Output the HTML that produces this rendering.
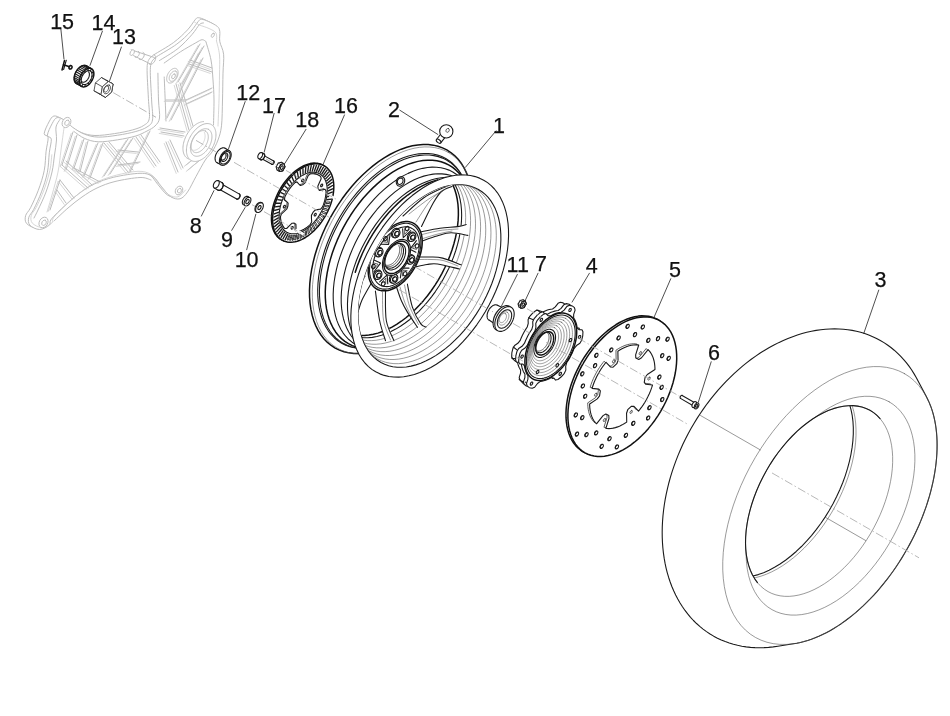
<!DOCTYPE html>
<html lang="en"><head><meta charset="utf-8"><title>Rear wheel - exploded view</title>
<style>
html,body{margin:0;padding:0;background:#fff;}
body{width:950px;height:716px;overflow:hidden;font-family:"Liberation Sans",Arial,sans-serif;}
svg{display:block;will-change:transform;transform:translateZ(0)}
.k{fill:none;stroke:#1a1a1a;stroke-width:1.1;stroke-linejoin:round;stroke-linecap:round}
.kw{fill:#fff;stroke:#1a1a1a;stroke-width:1.1;stroke-linejoin:round;stroke-linecap:round}
.b{fill:none;stroke:#111;stroke-width:1.5;stroke-linejoin:round;stroke-linecap:round}
.bw{fill:#fff;stroke:#111;stroke-width:1.5;stroke-linejoin:round;stroke-linecap:round}
.t{fill:none;stroke:#555;stroke-width:0.6;stroke-linejoin:round;stroke-linecap:round}
.tw{fill:#fff;stroke:#555;stroke-width:0.6;stroke-linejoin:round}
.m{fill:none;stroke:#333;stroke-width:0.8;stroke-linejoin:round;stroke-linecap:round}
.mw{fill:#fff;stroke:#333;stroke-width:0.8;stroke-linejoin:round}
.g{fill:none;stroke:#bcbcbc;stroke-width:1;stroke-linejoin:round;stroke-linecap:round}
.gw{fill:#fff;stroke:#bcbcbc;stroke-width:1;stroke-linejoin:round}
.g2{fill:none;stroke:#cdcdcd;stroke-width:0.8;stroke-linejoin:round;stroke-linecap:round}
.ax{fill:none;stroke:#a6a6a6;stroke-width:0.8;stroke-dasharray:8.5 2.5 1.5 2.5}
.ld{fill:none;stroke:#222;stroke-width:0.8}
.w{fill:#fff;stroke:none}
.f{fill:#222;stroke:none}
text{font-family:"Liberation Sans",Arial,sans-serif;font-size:21.5px;fill:#111;stroke:#111;stroke-width:0.25px}
</style></head><body>
<svg width="950" height="716" viewBox="0 0 950 716">
<rect class="w" x="0" y="0" width="950" height="716"/>
<path class="gw" d="M153.40 55.10 C157.40 52.45 167.92 46.70 173.60 42.50 C179.28 38.30 183.92 33.68 187.50 29.90 C191.08 26.12 193.30 21.83 195.10 19.80 C196.90 17.77 196.62 17.68 198.30 17.70 C199.98 17.72 202.57 18.72 205.20 19.90 C207.83 21.08 212.20 23.13 214.10 24.80 C216.00 26.47 216.18 27.37 216.60 29.90 C217.02 32.43 215.97 36.22 216.60 40.00 C217.23 43.78 219.87 47.33 220.40 52.60 C220.93 57.87 219.98 63.97 219.80 71.60 C219.62 79.23 219.55 89.63 219.30 98.40 C219.05 107.17 219.05 117.53 218.30 124.20 C217.55 130.87 216.38 134.03 214.80 138.40 C213.22 142.77 210.92 147.07 208.80 150.40 C206.68 153.73 204.77 154.32 202.10 158.40 C199.43 162.48 195.77 169.57 192.80 174.90 C189.83 180.23 186.97 186.68 184.30 190.40 C181.63 194.12 179.63 196.45 176.80 197.20 C173.97 197.95 170.47 197.03 167.30 194.90 C164.13 192.77 160.72 187.73 157.80 184.40 C154.88 181.07 153.30 177.02 149.80 174.90 C146.30 172.78 143.33 171.58 136.80 171.70 C130.27 171.82 118.22 173.82 110.60 175.60 C102.98 177.38 96.97 179.63 91.10 182.40 C85.23 185.17 80.28 188.62 75.40 192.20 C70.52 195.78 66.35 199.67 61.80 203.90 C57.25 208.13 50.72 214.33 48.10 217.60 C45.48 220.87 48.07 221.78 46.10 223.50 C44.13 225.22 39.55 227.90 36.30 227.90 C33.05 227.90 28.38 225.53 26.60 223.50 C24.82 221.47 24.95 218.32 25.60 215.70 C26.25 213.08 28.38 212.03 30.50 207.80 C32.62 203.57 36.02 196.48 38.30 190.30 C40.58 184.12 42.90 177.22 44.20 170.70 C45.50 164.18 45.45 156.73 46.10 151.20 C46.75 145.67 48.42 140.43 48.10 137.50 C47.78 134.57 44.05 136.20 44.20 133.60 C44.35 131.00 47.38 124.83 49.00 121.90 C50.62 118.97 51.77 116.50 53.90 116.00 C56.03 115.50 59.18 117.27 61.80 118.90 C64.42 120.53 66.35 123.52 69.60 125.80 C72.85 128.08 77.07 130.98 81.30 132.60 C85.53 134.22 89.47 135.33 95.00 135.50 C100.53 135.67 108.23 134.53 114.50 133.60 C120.77 132.67 127.72 131.27 132.60 129.90 C137.48 128.53 141.02 127.32 143.80 125.40 C146.58 123.48 148.53 122.92 149.30 118.40 C150.07 113.88 148.77 106.73 148.40 98.30 C148.03 89.87 146.90 74.45 147.10 67.80 C147.30 61.15 148.55 60.52 149.60 58.40Z" />
<path class="gw" d="M156.60 56.70 C160.60 54.05 171.12 48.30 176.80 44.10 C182.48 39.90 187.12 35.28 190.70 31.50 C194.28 27.72 196.50 23.43 198.30 21.40 C200.10 19.37 199.82 19.28 201.50 19.30 C203.18 19.32 205.77 20.32 208.40 21.50 C211.03 22.68 215.40 24.73 217.30 26.40 C219.20 28.07 219.38 28.97 219.80 31.50 C220.22 34.03 219.17 37.82 219.80 41.60 C220.43 45.38 223.07 48.93 223.60 54.20 C224.13 59.47 223.18 65.57 223.00 73.20 C222.82 80.83 222.75 91.23 222.50 100.00 C222.25 108.77 222.25 119.13 221.50 125.80 C220.75 132.47 219.58 135.63 218.00 140.00 C216.42 144.37 214.12 148.67 212.00 152.00 C209.88 155.33 207.97 155.92 205.30 160.00 C202.63 164.08 198.97 171.17 196.00 176.50 C193.03 181.83 190.17 188.28 187.50 192.00 C184.83 195.72 182.83 198.05 180.00 198.80 C177.17 199.55 173.67 198.63 170.50 196.50 C167.33 194.37 163.92 189.33 161.00 186.00 C158.08 182.67 156.50 178.62 153.00 176.50 C149.50 174.38 146.53 173.18 140.00 173.30 C133.47 173.42 121.42 175.42 113.80 177.20 C106.18 178.98 100.17 181.23 94.30 184.00 C88.43 186.77 83.48 190.22 78.60 193.80 C73.72 197.38 69.55 201.27 65.00 205.50 C60.45 209.73 53.92 215.93 51.30 219.20 C48.68 222.47 51.27 223.38 49.30 225.10 C47.33 226.82 42.75 229.50 39.50 229.50 C36.25 229.50 31.58 227.13 29.80 225.10 C28.02 223.07 28.15 219.92 28.80 217.30 C29.45 214.68 31.58 213.63 33.70 209.40 C35.82 205.17 39.22 198.08 41.50 191.90 C43.78 185.72 46.10 178.82 47.40 172.30 C48.70 165.78 48.65 158.33 49.30 152.80 C49.95 147.27 51.62 142.03 51.30 139.10 C50.98 136.17 47.25 137.80 47.40 135.20 C47.55 132.60 50.58 126.43 52.20 123.50 C53.82 120.57 54.97 118.10 57.10 117.60 C59.23 117.10 62.38 118.87 65.00 120.50 C67.62 122.13 69.55 125.12 72.80 127.40 C76.05 129.68 80.27 132.58 84.50 134.20 C88.73 135.82 92.67 136.93 98.20 137.10 C103.73 137.27 111.43 136.13 117.70 135.20 C123.97 134.27 130.92 132.87 135.80 131.50 C140.68 130.13 144.22 128.92 147.00 127.00 C149.78 125.08 151.73 124.52 152.50 120.00 C153.27 115.48 151.97 108.33 151.60 99.90 C151.23 91.47 150.10 76.05 150.30 69.40 C150.50 62.75 151.75 62.12 152.80 60.00Z" />
<path class="g2" d="M185.50 190.00 C184.25 191.13 180.83 196.05 178.00 196.80 C175.17 197.55 171.67 196.63 168.50 194.50 C165.33 192.37 161.92 187.33 159.00 184.00 C156.08 180.67 154.50 176.62 151.00 174.50 C147.50 172.38 143.78 171.18 138.00 171.30 C132.22 171.42 123.17 173.42 116.30 175.20 C109.43 176.98 102.67 179.23 96.80 182.00 C90.93 184.77 85.98 188.22 81.10 191.80 C76.22 195.38 72.05 199.27 67.50 203.50 C62.95 207.73 56.42 213.93 53.80 217.20 C51.18 220.47 53.77 221.38 51.80 223.10 C49.83 224.82 45.25 227.50 42.00 227.50 C38.75 227.50 34.08 225.13 32.30 223.10 C30.52 221.07 30.65 217.92 31.30 215.30 C31.95 212.68 34.08 211.63 36.20 207.40 C38.32 203.17 41.72 196.08 44.00 189.90 C46.28 183.72 48.60 176.15 49.90 170.30 C51.20 164.45 51.48 157.38 51.80 154.80" />
<path class="g" d="M131.2 49.8 L154.3 57.5 M133.5 55.6 L150.5 64.0" />
<path class="gw" d="M133.72 49.90 L134.33 50.72 L134.36 52.04 L133.82 53.51 L132.84 54.74 L131.69 55.40 L130.68 55.30 L130.07 54.48 L130.04 53.16 L130.58 51.69 L131.56 50.46 L132.71 49.80 L133.72 49.90Z" />
<path class="g" d="M138.30 51.40 L138.89 51.74 L139.27 52.40 L139.36 53.30 L139.18 54.33 L138.73 55.37 L138.07 56.30 L137.28 56.99 L136.46 57.38 L135.70 57.40 L135.11 57.06" />
<path class="g" d="M143.03 52.45 L143.74 52.85 L144.18 53.63 L144.29 54.70 L144.07 55.92 L143.54 57.15 L142.76 58.24 L141.83 59.06 L140.86 59.52 L139.97 59.55 L139.26 59.15" />
<path class="g" d="M154.04 54.87 L154.99 55.40 L155.57 56.44 L155.72 57.86 L155.43 59.49 L154.72 61.13 L153.68 62.59 L152.44 63.69 L151.15 64.29 L149.96 64.33 L149.01 63.80" />
<path class="g" d="M159.50 60.50 C162.58 58.50 172.58 52.83 178.00 48.50 C183.42 44.17 188.42 38.50 192.00 34.50 C195.58 30.50 197.58 26.42 199.50 24.50 C201.42 22.58 202.83 23.25 203.50 23.00" />
<path class="g" d="M164.20 63.00 C166.93 61.12 175.33 55.07 180.60 51.70 C185.87 48.33 192.22 44.80 195.80 42.80 C199.38 40.80 200.42 39.90 202.10 39.70 C203.78 39.50 205.27 41.28 205.90 41.60" />
<path class="g2" d="M194.50 22.00 C195.33 22.50 197.08 23.92 199.50 25.00 C201.92 26.08 206.25 27.17 209.00 28.50 C211.75 29.83 214.75 30.92 216.00 33.00 C217.25 35.08 216.42 39.67 216.50 41.00" />
<path class="g" d="M213.88 33.38 L214.35 34.13 L214.23 35.32 L213.56 36.51 L212.60 37.23 L211.72 37.22 L211.25 36.47 L211.37 35.28 L212.04 34.09 L213.00 33.37 L213.88 33.38Z" />
<path class="g" d="M157.90 73.20 C158.00 77.67 158.23 92.53 158.50 100.00 C158.77 107.47 160.08 113.67 159.50 118.00 C158.92 122.33 157.08 123.83 155.00 126.00 C152.92 128.17 150.20 129.33 147.00 131.00 C143.80 132.67 140.68 134.53 135.80 136.00 C130.92 137.47 123.97 138.83 117.70 139.80 C111.43 140.77 103.73 142.03 98.20 141.80 C92.67 141.57 88.53 140.12 84.50 138.40 C80.47 136.68 75.75 132.65 74.00 131.50" />
<path class="g" d="M164.20 77.00 C164.37 80.83 164.90 92.67 165.20 100.00 C165.50 107.33 165.87 117.50 166.00 121.00" />
<path class="gw" d="M176.33 68.73 L176.61 68.91 L176.87 69.13 L177.11 69.37 L177.33 69.65 L177.52 69.96 L177.69 70.29 L177.83 70.65 L177.95 71.04 L178.04 71.45 L178.10 71.88 L178.13 72.32 L178.14 72.79 L178.11 73.27 L178.06 73.76 L177.99 74.26 L177.88 74.76 L177.75 75.27 L177.59 75.79 L177.41 76.30 L177.20 76.81 L176.97 77.31 L176.72 77.81 L176.44 78.30 L176.15 78.77 L175.84 79.23 L175.51 79.67 L175.16 80.09 L174.81 80.50 L174.44 80.87 L174.06 81.23 L173.67 81.55 L173.28 81.85 L172.88 82.11 L172.48 82.35 L172.08 82.55 L171.68 82.72 L171.29 82.86 L170.90 82.96 L170.51 83.03 L170.14 83.06 L169.78 83.05 L169.43 83.01 L169.09 82.93 L168.77 82.82 L168.47 82.67 L168.19 82.49 L167.93 82.27 L167.69 82.03 L167.47 81.75 L167.28 81.44 L167.11 81.11 L166.97 80.75 L166.85 80.36 L166.76 79.95 L166.70 79.52 L166.67 79.08 L166.66 78.61 L166.69 78.13 L166.74 77.64 L166.81 77.14 L166.92 76.64 L167.05 76.13 L167.21 75.61 L167.39 75.10 L167.60 74.59 L167.83 74.09 L168.08 73.59 L168.36 73.10 L168.65 72.63 L168.96 72.17 L169.29 71.73 L169.64 71.31 L169.99 70.90 L170.36 70.53 L170.74 70.17 L171.13 69.85 L171.52 69.55 L171.92 69.29 L172.32 69.05 L172.72 68.85 L173.12 68.68 L173.51 68.54 L173.90 68.44 L174.29 68.37 L174.66 68.34 L175.02 68.35 L175.37 68.39 L175.71 68.47 L176.03 68.58 L176.33 68.73Z" />
<path class="g" d="M175.95 71.32 L176.15 71.45 L176.33 71.60 L176.50 71.77 L176.65 71.96 L176.78 72.18 L176.90 72.41 L177.00 72.67 L177.08 72.94 L177.14 73.22 L177.19 73.52 L177.21 73.84 L177.21 74.16 L177.20 74.50 L177.16 74.84 L177.11 75.19 L177.04 75.54 L176.94 75.90 L176.83 76.26 L176.71 76.62 L176.56 76.98 L176.40 77.33 L176.22 77.68 L176.03 78.02 L175.82 78.35 L175.61 78.67 L175.38 78.98 L175.13 79.28 L174.88 79.56 L174.63 79.82 L174.36 80.07 L174.09 80.30 L173.81 80.50 L173.54 80.69 L173.26 80.86 L172.98 81.00 L172.70 81.12 L172.42 81.21 L172.15 81.28 L171.88 81.33 L171.62 81.35 L171.36 81.34 L171.12 81.32 L170.89 81.26 L170.66 81.18 L170.45 81.08 L170.25 80.95 L170.07 80.80 L169.90 80.63 L169.75 80.44 L169.62 80.22 L169.50 79.99 L169.40 79.73 L169.32 79.46 L169.26 79.18 L169.21 78.88 L169.19 78.56 L169.19 78.24 L169.20 77.90 L169.24 77.56 L169.29 77.21 L169.36 76.86 L169.46 76.50 L169.57 76.14 L169.69 75.78 L169.84 75.42 L170.00 75.07 L170.18 74.72 L170.37 74.38 L170.58 74.05 L170.79 73.73 L171.02 73.42 L171.27 73.12 L171.52 72.84 L171.77 72.58 L172.04 72.33 L172.31 72.10 L172.59 71.90 L172.86 71.71 L173.14 71.54 L173.42 71.40 L173.70 71.28 L173.98 71.19 L174.25 71.12 L174.52 71.07 L174.78 71.05 L175.04 71.06 L175.28 71.08 L175.51 71.14 L175.74 71.22 L175.95 71.32Z" />
<path class="g" d="M174.78 74.13 L175.28 74.82 L175.32 75.93 L174.86 77.17 L174.04 78.20 L173.07 78.74 L172.22 78.67 L171.72 77.98 L171.68 76.87 L172.14 75.63 L172.96 74.60 L173.93 74.06 L174.78 74.13Z" />
<path class="g" d="M206.00 42.00 C206.83 45.00 209.83 53.67 211.00 60.00 C212.17 66.33 212.50 73.33 213.00 80.00 C213.50 86.67 213.92 92.50 214.00 100.00 C214.08 107.50 213.58 120.83 213.50 125.00" />
<path class="g2" d="M216.50 41.00 C217.00 43.33 219.00 49.33 219.50 55.00 C220.00 60.67 219.58 67.50 219.50 75.00 C219.42 82.50 219.25 91.50 219.00 100.00 C218.75 108.50 218.17 121.67 218.00 126.00" />
<path class="g" d="M178.00 82.00 L200.00 44.00"/>
<path class="g2" d="M176.20 83.40 L198.20 45.40"/>
<path class="g" d="M182.00 84.00 L204.00 46.00"/>
<path class="g2" d="M180.20 85.40 L202.20 47.40"/>
<path class="g" d="M176.00 84.00 L189.00 130.00"/>
<path class="g2" d="M174.20 85.40 L187.20 131.40"/>
<path class="g" d="M180.00 83.00 L193.00 126.00"/>
<path class="g2" d="M178.20 84.40 L191.20 127.40"/>
<path class="g" d="M167.00 118.00 L200.00 52.00"/>
<path class="g2" d="M165.20 119.40 L198.20 53.40"/>
<path class="g" d="M171.00 120.00 L203.00 58.00"/>
<path class="g2" d="M169.20 121.40 L201.20 59.40"/>
<path class="g" d="M166.00 100.00 L186.00 100.00"/>
<path class="g2" d="M164.20 101.40 L184.20 101.40"/>
<path class="g" d="M186.00 100.00 L212.00 88.00"/>
<path class="g2" d="M184.20 101.40 L210.20 89.40"/>
<path class="g" d="M186.00 104.00 L212.00 92.00"/>
<path class="g2" d="M184.20 105.40 L210.20 93.40"/>
<path class="g" d="M190.00 60.00 L212.00 68.00"/>
<path class="g2" d="M188.20 61.40 L210.20 69.40"/>
<path class="g" d="M189.00 64.00 L212.00 72.00"/>
<path class="g2" d="M187.20 65.40 L210.20 73.40"/>
<path class="g" d="M160.00 128.00 L185.00 132.00"/>
<path class="g2" d="M158.20 129.40 L183.20 133.40"/>
<path class="g" d="M161.00 132.00 L184.00 136.00"/>
<path class="g2" d="M159.20 133.40 L182.20 137.40"/>
<path class="g" d="M170.00 140.00 L183.00 168.00"/>
<path class="g2" d="M168.20 141.40 L181.20 169.40"/>
<path class="g" d="M166.00 142.00 L178.00 172.00"/>
<path class="g2" d="M164.20 143.40 L176.20 173.40"/>
<path class="g" d="M186.00 165.00 L205.00 150.00"/>
<path class="g2" d="M184.20 166.40 L203.20 151.40"/>
<path class="g" d="M188.00 170.00 L206.00 155.00"/>
<path class="g2" d="M186.20 171.40 L204.20 156.40"/>
<path class="g" d="M194.34 159.11 L193.34 159.33 L192.35 159.45 L191.40 159.48 L190.47 159.41 L189.58 159.25 L188.73 159.00 L187.93 158.66 L187.17 158.22 L186.47 157.70 L185.82 157.09 L185.23 156.40 L184.71 155.63 L184.25 154.78 L183.85 153.87 L183.53 152.89 L183.27 151.84 L183.09 150.74 L182.98 149.59 L182.94 148.40 L182.98 147.16 L183.09 145.89 L183.27 144.60 L183.53 143.28 L183.85 141.96 L184.25 140.62 L184.71 139.29 L185.24 137.96 L185.82 136.64 L186.47 135.34 L187.17 134.07 L187.93 132.83 L188.74 131.63 L189.58 130.47 L190.47 129.37 L191.40 128.32 L192.36 127.33 L193.34 126.40 L194.35 125.55 L195.37 124.77 L196.40 124.07 L197.44 123.45 L198.49 122.91 L199.52 122.47 L200.55 122.11 L201.57 121.85 L202.56 121.67 L203.53 121.60" />
<path class="gw" d="M211.31 124.55 L212.04 125.02 L212.71 125.57 L213.33 126.21 L213.89 126.92 L214.39 127.71 L214.82 128.57 L215.18 129.50 L215.48 130.50 L215.71 131.55 L215.87 132.65 L215.95 133.80 L215.97 135.00 L215.91 136.23 L215.78 137.49 L215.58 138.78 L215.31 140.09 L214.97 141.40 L214.57 142.72 L214.09 144.05 L213.56 145.36 L212.97 146.66 L212.31 147.94 L211.61 149.19 L210.85 150.41 L210.05 151.59 L209.20 152.73 L208.32 153.82 L207.40 154.85 L206.45 155.82 L205.47 156.73 L204.47 157.57 L203.46 158.33 L202.44 159.02 L201.41 159.62 L200.37 160.15 L199.35 160.59 L198.33 160.94 L197.33 161.19 L196.34 161.36 L195.38 161.44 L194.45 161.42 L193.55 161.32 L192.68 161.12 L191.86 160.83 L191.09 160.45 L190.36 159.98 L189.69 159.43 L189.07 158.79 L188.51 158.08 L188.01 157.29 L187.58 156.43 L187.22 155.50 L186.92 154.50 L186.69 153.45 L186.53 152.35 L186.45 151.20 L186.43 150.00 L186.49 148.77 L186.62 147.51 L186.82 146.22 L187.09 144.91 L187.43 143.60 L187.83 142.28 L188.31 140.95 L188.84 139.64 L189.43 138.34 L190.09 137.06 L190.79 135.81 L191.55 134.59 L192.35 133.41 L193.20 132.27 L194.08 131.18 L195.00 130.15 L195.95 129.18 L196.93 128.27 L197.93 127.43 L198.94 126.67 L199.96 125.98 L200.99 125.38 L202.03 124.85 L203.05 124.41 L204.07 124.06 L205.07 123.81 L206.06 123.64 L207.02 123.56 L207.95 123.58 L208.85 123.68 L209.72 123.88 L210.54 124.17 L211.31 124.55Z" />
<path class="g" d="M208.56 129.43 L209.09 129.77 L209.58 130.17 L210.03 130.64 L210.44 131.16 L210.80 131.73 L211.12 132.36 L211.38 133.04 L211.60 133.76 L211.77 134.52 L211.88 135.33 L211.94 136.17 L211.95 137.04 L211.91 137.94 L211.82 138.86 L211.67 139.79 L211.48 140.74 L211.23 141.70 L210.93 142.66 L210.59 143.63 L210.20 144.58 L209.77 145.53 L209.29 146.46 L208.78 147.37 L208.23 148.26 L207.64 149.12 L207.03 149.95 L206.38 150.74 L205.71 151.49 L205.02 152.20 L204.31 152.86 L203.58 153.47 L202.85 154.03 L202.10 154.53 L201.35 154.97 L200.60 155.35 L199.85 155.67 L199.11 155.92 L198.38 156.11 L197.66 156.24 L196.96 156.29 L196.28 156.28 L195.63 156.20 L195.00 156.06 L194.40 155.84 L193.84 155.57 L193.31 155.23 L192.82 154.83 L192.37 154.36 L191.96 153.84 L191.60 153.27 L191.28 152.64 L191.02 151.96 L190.80 151.24 L190.63 150.48 L190.52 149.67 L190.46 148.83 L190.45 147.96 L190.49 147.06 L190.58 146.14 L190.73 145.21 L190.92 144.26 L191.17 143.30 L191.47 142.34 L191.81 141.37 L192.20 140.42 L192.63 139.47 L193.11 138.54 L193.62 137.63 L194.17 136.74 L194.76 135.88 L195.37 135.05 L196.02 134.26 L196.69 133.51 L197.38 132.80 L198.09 132.14 L198.82 131.53 L199.55 130.97 L200.30 130.47 L201.05 130.03 L201.80 129.65 L202.55 129.33 L203.29 129.08 L204.02 128.89 L204.74 128.76 L205.44 128.71 L206.12 128.72 L206.77 128.80 L207.40 128.94 L208.00 129.16 L208.56 129.43Z" />
<path class="g" d="M205.59 131.15 L206.01 131.42 L206.41 131.74 L206.77 132.11 L207.09 132.52 L207.38 132.98 L207.63 133.49 L207.85 134.03 L208.02 134.61 L208.15 135.22 L208.24 135.86 L208.29 136.53 L208.30 137.23 L208.27 137.95 L208.19 138.68 L208.08 139.43 L207.92 140.19 L207.72 140.96 L207.49 141.73 L207.21 142.50 L206.90 143.27 L206.55 144.02 L206.17 144.77 L205.76 145.50 L205.32 146.21 L204.85 146.90 L204.36 147.56 L203.85 148.19 L203.31 148.79 L202.76 149.36 L202.19 149.89 L201.61 150.38 L201.02 150.82 L200.42 151.22 L199.82 151.58 L199.22 151.88 L198.62 152.14 L198.03 152.34 L197.44 152.49 L196.87 152.59 L196.31 152.63 L195.77 152.62 L195.24 152.56 L194.74 152.44 L194.26 152.28 L193.81 152.05 L193.39 151.78 L192.99 151.46 L192.63 151.09 L192.31 150.68 L192.02 150.22 L191.77 149.71 L191.55 149.17 L191.38 148.59 L191.25 147.98 L191.16 147.34 L191.11 146.67 L191.10 145.97 L191.13 145.25 L191.21 144.52 L191.32 143.77 L191.48 143.01 L191.68 142.24 L191.91 141.47 L192.19 140.70 L192.50 139.93 L192.85 139.18 L193.23 138.43 L193.64 137.70 L194.08 136.99 L194.55 136.30 L195.04 135.64 L195.55 135.01 L196.09 134.41 L196.64 133.84 L197.21 133.31 L197.79 132.82 L198.38 132.38 L198.98 131.98 L199.58 131.62 L200.18 131.32 L200.78 131.06 L201.37 130.86 L201.96 130.71 L202.53 130.61 L203.09 130.57 L203.63 130.58 L204.16 130.64 L204.66 130.76 L205.14 130.92 L205.59 131.15Z" />
<path class="g2" d="M204.24 132.30 L204.47 132.76 L204.67 133.26 L204.83 133.79 L204.95 134.35 L205.03 134.94 L205.08 135.56 L205.09 136.20 L205.06 136.85 L204.99 137.53 L204.88 138.21 L204.74 138.91 L204.55 139.61 L204.34 140.32 L204.09 141.03 L203.80 141.73 L203.48 142.42 L203.13 143.10 L202.76 143.77 L202.35 144.42 L201.92 145.05 L201.47 145.66 L201.00 146.24 L200.51 146.79 L200.00 147.31 L199.48 147.80 L198.95 148.24 L198.41 148.65 L197.86 149.02 L197.31 149.34 L196.76 149.62 L196.21 149.86 L195.67 150.04 L195.13 150.18 L194.61 150.27 L194.09 150.31 L193.59 150.31 L193.11 150.25 L192.65 150.14 L192.21 149.99 L191.80 149.78 L191.41 149.53 L191.05 149.24 L190.72 148.90 L190.42 148.52 L190.16 148.10" />
<path class="gw" d="M69.15 117.80 L70.30 118.91 L70.87 120.58 L70.77 122.54 L70.03 124.49 L68.75 126.14 L67.12 127.23 L65.40 127.61 L63.85 127.20 L62.70 126.09 L62.13 124.42 L62.23 122.46 L62.97 120.51 L64.25 118.86 L65.88 117.77 L67.60 117.39 L69.15 117.80Z" />
<path class="g" d="M68.37 120.36 L69.11 121.20 L69.27 122.47 L68.83 123.83 L67.90 124.91 L66.72 125.43 L65.63 125.24 L64.89 124.40 L64.73 123.13 L65.17 121.77 L66.10 120.69 L67.28 120.17 L68.37 120.36Z" />
<path class="gw" d="M46.25 217.62 L47.44 218.78 L48.03 220.51 L47.93 222.54 L47.16 224.56 L45.83 226.27 L44.14 227.41 L42.36 227.80 L40.75 227.38 L39.56 226.22 L38.97 224.49 L39.07 222.46 L39.84 220.44 L41.17 218.73 L42.86 217.59 L44.64 217.20 L46.25 217.62Z" />
<path class="g" d="M45.37 220.36 L46.11 221.20 L46.27 222.47 L45.83 223.83 L44.90 224.91 L43.72 225.43 L42.63 225.24 L41.89 224.40 L41.73 223.13 L42.17 221.77 L43.10 220.69 L44.28 220.17 L45.37 220.36Z" />
<path class="gw" d="M181.26 186.49 L182.24 187.45 L182.72 188.86 L182.64 190.53 L182.01 192.19 L180.91 193.60 L179.53 194.53 L178.06 194.85 L176.74 194.51 L175.76 193.55 L175.28 192.14 L175.36 190.47 L175.99 188.81 L177.09 187.40 L178.47 186.47 L179.94 186.15 L181.26 186.49Z" />
<path class="g" d="M180.58 188.61 L181.20 189.33 L181.35 190.42 L180.97 191.58 L180.17 192.51 L179.16 192.95 L178.22 192.79 L177.60 192.07 L177.45 190.98 L177.83 189.82 L178.63 188.89 L179.64 188.45 L180.58 188.61Z" />
<path class="g" d="M60.00 119.50 C59.33 120.75 56.58 123.58 56.00 127.00 C55.42 130.42 56.75 135.33 56.50 140.00 C56.25 144.67 55.25 149.67 54.50 155.00 C53.75 160.33 53.42 165.83 52.00 172.00 C50.58 178.17 48.33 185.67 46.00 192.00 C43.67 198.33 40.00 205.67 38.00 210.00 C36.00 214.33 34.67 216.67 34.00 218.00" />
<path class="g2" d="M64.00 128.00 C63.50 131.67 62.00 142.67 61.00 150.00 C60.00 157.33 59.50 164.50 58.00 172.00 C56.50 179.50 53.83 188.33 52.00 195.00 C50.17 201.67 47.83 209.17 47.00 212.00" />
<path class="g" d="M54.00 221.00 C56.33 218.83 63.33 212.00 68.00 208.00 C72.67 204.00 77.17 200.33 82.00 197.00 C86.83 193.67 91.50 190.58 97.00 188.00 C102.50 185.42 107.83 183.25 115.00 181.50 C122.17 179.75 134.00 177.75 140.00 177.50 C146.00 177.25 149.17 179.58 151.00 180.00" />
<path class="g" d="M73.00 132.00 L62.00 165.00"/>
<path class="g2" d="M71.20 133.40 L60.20 166.40"/>
<path class="g" d="M77.00 135.00 L66.00 170.00"/>
<path class="g2" d="M75.20 136.40 L64.20 171.40"/>
<path class="g" d="M62.00 165.00 L88.00 188.00"/>
<path class="g2" d="M60.20 166.40 L86.20 189.40"/>
<path class="g" d="M66.00 161.00 L92.00 185.00"/>
<path class="g2" d="M64.20 162.40 L90.20 186.40"/>
<path class="g" d="M84.00 139.00 L74.00 168.00"/>
<path class="g2" d="M82.20 140.40 L72.20 169.40"/>
<path class="g" d="M88.00 141.00 L80.00 172.00"/>
<path class="g2" d="M86.20 142.40 L78.20 173.40"/>
<path class="g" d="M74.00 168.00 L100.00 182.00"/>
<path class="g2" d="M72.20 169.40 L98.20 183.40"/>
<path class="g" d="M98.00 143.00 L84.00 176.00"/>
<path class="g2" d="M96.20 144.40 L82.20 177.40"/>
<path class="g" d="M103.00 143.00 L90.00 178.00"/>
<path class="g2" d="M101.20 144.40 L88.20 179.40"/>
<path class="g" d="M104.00 143.00 L128.00 172.00"/>
<path class="g2" d="M102.20 144.40 L126.20 173.40"/>
<path class="g" d="M109.00 142.00 L133.00 170.00"/>
<path class="g2" d="M107.20 143.40 L131.20 171.40"/>
<path class="g" d="M128.00 139.00 L104.00 176.00"/>
<path class="g2" d="M126.20 140.40 L102.20 177.40"/>
<path class="g" d="M133.00 138.00 L110.00 174.00"/>
<path class="g2" d="M131.20 139.40 L108.20 175.40"/>
<path class="g" d="M136.00 137.00 L156.00 166.00"/>
<path class="g2" d="M134.20 138.40 L154.20 167.40"/>
<path class="g" d="M141.00 135.00 L160.00 162.00"/>
<path class="g2" d="M139.20 136.40 L158.20 163.40"/>
<path class="g" d="M150.00 131.00 L130.00 172.00"/>
<path class="g2" d="M148.20 132.40 L128.20 173.40"/>
<path class="g" d="M60.00 180.00 L74.00 198.00"/>
<path class="g2" d="M58.20 181.40 L72.20 199.40"/>
<path class="g" d="M57.00 190.00 L66.00 203.00"/>
<path class="g2" d="M55.20 191.40 L64.20 204.40"/>
<path class="g" d="M60.00 180.00 L50.00 210.00"/>
<path class="g2" d="M58.20 181.40 L48.20 211.40"/>
<path class="g" d="M118.00 150.00 L138.00 152.00"/>
<path class="g2" d="M116.20 151.40 L136.20 153.40"/>
<path class="g" d="M118.00 165.00 L140.00 162.00"/>
<path class="g2" d="M116.20 166.40 L138.20 163.40"/>
<path class="kw" d="M662.18 532.25 L662.27 526.88 L662.53 521.46 L662.96 515.99 L663.54 510.49 L664.29 504.97 L665.20 499.43 L666.28 493.87 L667.51 488.30 L668.90 482.74 L670.44 477.18 L672.14 471.63 L673.99 466.11 L675.99 460.61 L678.14 455.15 L680.43 449.73 L682.87 444.35 L685.44 439.03 L688.15 433.76 L691.00 428.57 L693.97 423.45 L697.07 418.40 L700.28 413.44 L703.62 408.57 L707.07 403.80 L710.63 399.14 L714.30 394.58 L718.06 390.13 L721.93 385.81 L725.88 381.61 L729.92 377.54 L734.04 373.60 L738.24 369.80 L742.51 366.15 L746.85 362.65 L751.25 359.30 L755.70 356.11 L760.21 353.08 L764.76 350.21 L769.34 347.51 L773.97 344.98 L778.62 342.63 L783.29 340.46 L787.98 338.46 L792.68 336.65 L797.38 335.02 L802.09 333.58 L806.79 332.33 L811.47 331.27 L816.14 330.40 L820.79 329.72 L825.41 329.23 L829.99 328.94 L834.53 328.85 L839.03 328.94 L843.47 329.23 L847.86 329.72 L852.19 330.40 L856.45 331.27 L860.63 332.33 L864.74 333.58 L868.77 335.02 L872.71 336.65 L876.56 338.46 L880.31 340.45 L883.96 342.63 L887.50 344.98 L890.93 347.51 L894.25 350.21 L897.45 353.07 L900.53 356.10 L903.48 359.30 L906.30 362.65 L908.99 366.15 L911.54 369.80 L913.95 373.60 L916.22 377.53 L926.20 396.35 L927.78 399.42 L929.25 402.62 L930.59 405.94 L931.82 409.39 L932.91 412.95 L933.89 416.62 L934.73 420.40 L935.45 424.29 L936.04 428.28 L936.50 432.36 L936.84 436.52 L937.04 440.78 L937.11 445.11 L937.04 449.51 L936.85 453.99 L936.53 458.52 L936.08 463.12 L935.50 467.76 L934.79 472.45 L933.96 477.18 L932.99 481.95 L931.90 486.74 L930.69 491.56 L929.35 496.40 L927.89 501.24 L926.32 506.09 L924.62 510.94 L922.81 515.78 L920.89 520.62 L918.86 525.43 L916.71 530.22 L914.47 534.97 L912.11 539.70 L909.66 544.38 L907.11 549.01 L904.47 553.59 L901.74 558.11 L898.92 562.57 L896.01 566.95 L893.03 571.27 L889.96 575.50 L886.83 579.65 L883.62 583.70 L880.35 587.66 L877.02 591.53 L873.63 595.28 L870.19 598.93 L866.70 602.46 L863.16 605.88 L859.58 609.17 L855.97 612.34 L852.33 615.38 L848.65 618.28 L844.96 621.04 L841.24 623.67 L837.52 626.15 L833.78 628.48 L830.04 630.67 L826.30 632.70 L822.56 634.58 L818.83 636.29 L815.12 637.85 L811.42 639.25 L807.75 640.49 L804.10 641.56 L800.48 642.47 L796.90 643.20 L793.36 643.77 L777.86 646.20 L773.21 646.88 L768.59 647.37 L764.01 647.66 L759.47 647.75 L754.97 647.66 L750.53 647.37 L746.14 646.88 L741.81 646.20 L737.55 645.33 L733.37 644.27 L729.26 643.02 L725.23 641.58 L721.29 639.95 L717.44 638.14 L713.69 636.14 L710.04 633.97 L706.50 631.62 L703.07 629.09 L699.75 626.39 L696.55 623.53 L693.47 620.50 L690.52 617.30 L687.70 613.95 L685.01 610.45 L682.46 606.80 L680.05 603.00 L677.78 599.07 L675.65 595.00 L673.68 590.80 L671.85 586.47 L670.18 582.03 L668.66 577.47 L667.30 572.80 L666.09 568.03 L665.04 563.16 L664.16 558.20 L663.44 553.16 L662.88 548.03 L662.48 542.84 L662.25 537.58Z" />
<path class="t" d="M904.27 373.51 L909.48 376.87 L914.29 380.85 L918.70 385.44 L922.67 390.62 L926.20 396.35 L929.25 402.62 L931.82 409.39 L933.89 416.62 L935.45 424.29 L936.50 432.36 L937.04 440.78 L937.05 449.51 L936.53 458.52 L935.50 467.76 L933.95 477.18 L931.90 486.74 L929.35 496.40 L926.32 506.09 L922.81 515.78 L918.86 525.43 L914.46 534.97 L909.66 544.37 L904.47 553.59 L898.92 562.57 L893.03 571.27 L886.83 579.65 L880.35 587.66 L873.63 595.28 L866.70 602.46 L859.58 609.17 L852.32 615.38 L844.96 621.04 L837.52 626.15 L830.04 630.67 L822.56 634.58 L815.12 637.85 L807.75 640.49 L800.48 642.46 L793.36 643.77 L786.42 644.41 L779.69 644.37 L773.21 643.65 L767.00 642.26 L761.10 640.20 L755.53 637.49 L750.32 634.13 L745.51 630.15 L741.10 625.56 L737.13 620.38 L733.60 614.65 L730.55 608.38 L727.98 601.61 L725.91 594.38 L724.35 586.71 L723.30 578.64 L722.76 570.22 L722.75 561.49 L723.27 552.48 L724.30 543.24 L725.85 533.82 L727.90 524.26 L730.45 514.60 L733.48 504.91 L736.99 495.22 L740.94 485.57 L745.34 476.03 L750.14 466.63 L755.33 457.41 L760.88 448.43 L766.77 439.73 L772.97 431.35 L779.45 423.34 L786.17 415.72 L793.10 408.54 L800.22 401.83 L807.48 395.62 L814.84 389.96 L822.28 384.85 L829.76 380.33 L837.24 376.42 L844.68 373.15 L852.05 370.51 L859.32 368.54 L866.44 367.23 L873.38 366.59 L880.11 366.63 L886.59 367.35 L892.80 368.74 L898.70 370.80 L904.27 373.51Z" />
<path class="t" d="M889.06 401.76 L893.16 404.41 L896.96 407.54 L900.43 411.16 L903.56 415.23 L906.33 419.75 L908.73 424.68 L910.75 430.01 L912.39 435.71 L913.62 441.75 L914.45 448.10 L914.86 454.73 L914.87 461.61 L914.47 468.71 L913.66 475.98 L912.44 483.40 L910.82 490.93 L908.81 498.53 L906.42 506.17 L903.66 513.80 L900.55 521.39 L897.09 528.91 L893.31 536.31 L889.22 543.57 L884.85 550.64 L880.21 557.49 L875.33 564.09 L870.23 570.40 L864.94 576.40 L859.48 582.06 L853.87 587.34 L848.16 592.22 L842.36 596.69 L836.50 600.71 L830.61 604.26 L824.72 607.34 L818.86 609.92 L813.05 612.00 L807.34 613.55 L801.73 614.59 L796.26 615.09 L790.96 615.05 L785.86 614.49 L780.97 613.39 L776.32 611.77 L771.94 609.64 L767.84 606.99 L764.04 603.86 L760.57 600.24 L757.44 596.17 L754.67 591.65 L752.27 586.72 L750.25 581.39 L748.61 575.69 L747.38 569.65 L746.55 563.30 L746.14 556.67 L746.13 549.79 L746.53 542.69 L747.34 535.42 L748.56 528.00 L750.18 520.47 L752.19 512.87 L754.58 505.23 L757.34 497.60 L760.45 490.01 L763.91 482.49 L767.69 475.09 L771.78 467.83 L776.15 460.76 L780.79 453.91 L785.67 447.31 L790.77 441.00 L796.06 435.00 L801.52 429.34 L807.13 424.06 L812.84 419.18 L818.64 414.71 L824.50 410.69 L830.39 407.14 L836.28 404.06 L842.14 401.48 L847.95 399.40 L853.66 397.85 L859.27 396.81 L864.74 396.31 L870.04 396.35 L875.14 396.91 L880.03 398.01 L884.68 399.63 L889.06 401.76Z" />
<path class="tw" d="M870.15 410.39 L873.73 412.70 L877.03 415.43 L880.06 418.58 L882.79 422.14 L885.20 426.07 L887.30 430.37 L889.06 435.02 L890.48 439.99 L891.56 445.25 L892.28 450.79 L892.65 456.57 L892.65 462.57 L892.30 468.75 L891.59 475.09 L890.53 481.56 L889.12 488.12 L887.37 494.75 L885.29 501.41 L882.88 508.06 L880.16 514.68 L877.15 521.23 L873.85 527.69 L870.29 534.01 L866.48 540.17 L862.43 546.15 L858.18 551.90 L853.73 557.40 L849.12 562.63 L844.36 567.56 L839.48 572.17 L834.49 576.43 L829.44 580.32 L824.33 583.82 L819.19 586.92 L814.06 589.61 L808.95 591.86 L803.89 593.67 L798.91 595.02 L794.02 595.92 L789.25 596.36 L784.63 596.33 L780.18 595.84 L775.92 594.88 L771.87 593.47 L768.05 591.61 L764.47 589.30 L761.17 586.57 L758.14 583.42 L755.41 579.86 L753.00 575.93 L750.90 571.63 L749.14 566.98 L747.72 562.01 L746.64 556.75 L745.92 551.21 L745.55 545.43 L745.55 539.43 L745.90 533.25 L746.61 526.91 L747.67 520.44 L749.08 513.88 L750.83 507.25 L752.91 500.59 L755.32 493.94 L758.04 487.32 L761.05 480.77 L764.35 474.31 L767.91 467.99 L771.72 461.83 L775.77 455.85 L780.02 450.10 L784.47 444.60 L789.08 439.37 L793.84 434.44 L798.72 429.83 L803.71 425.57 L808.76 421.68 L813.87 418.18 L819.01 415.08 L824.14 412.39 L829.25 410.14 L834.31 408.33 L839.29 406.98 L844.18 406.08 L848.95 405.64 L853.57 405.67 L858.02 406.16 L862.28 407.12 L866.33 408.53 L870.15 410.39Z" />
<clipPath id="holeclip"><path d="M870.15 410.39 L873.73 412.70 L877.03 415.43 L880.06 418.58 L882.79 422.14 L885.20 426.07 L887.30 430.37 L889.06 435.02 L890.48 439.99 L891.56 445.25 L892.28 450.79 L892.65 456.57 L892.65 462.57 L892.30 468.75 L891.59 475.09 L890.53 481.56 L889.12 488.12 L887.37 494.75 L885.29 501.41 L882.88 508.06 L880.16 514.68 L877.15 521.23 L873.85 527.69 L870.29 534.01 L866.48 540.17 L862.43 546.15 L858.18 551.90 L853.73 557.40 L849.12 562.63 L844.36 567.56 L839.48 572.17 L834.49 576.43 L829.44 580.32 L824.33 583.82 L819.19 586.92 L814.06 589.61 L808.95 591.86 L803.89 593.67 L798.91 595.02 L794.02 595.92 L789.25 596.36 L784.63 596.33 L780.18 595.84 L775.92 594.88 L771.87 593.47 L768.05 591.61 L764.47 589.30 L761.17 586.57 L758.14 583.42 L755.41 579.86 L753.00 575.93 L750.90 571.63 L749.14 566.98 L747.72 562.01 L746.64 556.75 L745.92 551.21 L745.55 545.43 L745.55 539.43 L745.90 533.25 L746.61 526.91 L747.67 520.44 L749.08 513.88 L750.83 507.25 L752.91 500.59 L755.32 493.94 L758.04 487.32 L761.05 480.77 L764.35 474.31 L767.91 467.99 L771.72 461.83 L775.77 455.85 L780.02 450.10 L784.47 444.60 L789.08 439.37 L793.84 434.44 L798.72 429.83 L803.71 425.57 L808.76 421.68 L813.87 418.18 L819.01 415.08 L824.14 412.39 L829.25 410.14 L834.31 408.33 L839.29 406.98 L844.18 406.08 L848.95 405.64 L853.57 405.67 L858.02 406.16 L862.28 407.12 L866.33 408.53 L870.15 410.39Z"/></clipPath>
<g clip-path="url(#holeclip)">
<path class="k" d="M829.54 378.26 L833.33 380.71 L836.84 383.62 L840.05 386.98 L842.95 390.77 L845.50 394.98 L847.72 399.57 L849.58 404.53 L851.07 409.84 L852.20 415.47 L852.95 421.39 L853.31 427.58 L853.30 433.99 L852.90 440.61 L852.12 447.40 L850.96 454.32 L849.43 461.35 L847.54 468.45 L845.30 475.57 L842.71 482.70 L839.79 489.80 L836.55 496.82 L833.02 503.74 L829.20 510.52 L825.11 517.13 L820.78 523.53 L816.23 529.70 L811.47 535.61 L806.53 541.22 L801.44 546.52 L796.23 551.46 L790.90 556.04 L785.50 560.22 L780.04 563.99 L774.56 567.33 L769.09 570.22 L763.63 572.65 L758.24 574.60 L752.92 576.07 L747.71 577.05 L742.64 577.54 L737.71 577.53 L732.97 577.02 L728.44 576.01 L724.13 574.52 L720.06 572.54 L716.27 570.09 L712.76 567.18 L709.55 563.82 L706.65 560.03 L704.10 555.82 L701.88 551.23 L700.02 546.27 L698.53 540.96 L697.40 535.33 L696.65 529.41 L696.29 523.22 L696.30 516.81 L696.70 510.19 L697.48 503.40 L698.64 496.48 L700.17 489.45 L702.06 482.35 L704.30 475.23 L706.89 468.10 L709.81 461.00 L713.05 453.98 L716.58 447.06 L720.40 440.28 L724.49 433.67 L728.82 427.27 L733.37 421.10 L738.13 415.19 L743.07 409.58 L748.16 404.28 L753.37 399.34 L758.70 394.76 L764.10 390.58 L769.56 386.81 L775.04 383.47 L780.51 380.58 L785.97 378.15 L791.36 376.20 L796.68 374.73 L801.89 373.75 L806.96 373.26 L811.89 373.27 L816.63 373.78 L821.16 374.79 L825.47 376.28 L829.54 378.26Z" />
<path class="t" d="M848.20 396.58 L850.42 401.17 L852.28 406.13 L853.77 411.44 L854.90 417.07 L855.65 422.99 L856.01 429.18 L856.00 435.59 L855.60 442.21 L854.82 449.00 L853.66 455.92 L852.13 462.95 L850.24 470.05 L848.00 477.17 L845.41 484.30 L842.49 491.40 L839.25 498.42 L835.72 505.34 L831.90 512.12 L827.81 518.73 L823.48 525.13 L818.93 531.30 L814.17 537.21 L809.23 542.82 L804.14 548.12 L798.93 553.06 L793.60 557.64 L788.20 561.82 L782.74 565.59 L777.26 568.93 L771.79 571.82 L766.33 574.25 L760.94 576.20 L755.62 577.67 L750.41 578.65 L745.34 579.14" />
</g>
<path class="k" d="M757.43 582.57 L754.74 578.85 L752.37 574.74 L750.33 570.26 L748.65 565.43 L747.32 560.28 L746.35 554.83 L745.74 549.10 L745.51 543.14 L745.65 536.96 L746.15 530.60 L747.03 524.09 L748.27 517.46 L749.86 510.76 L751.81 504.00 L754.09 497.23 L756.70 490.47 L759.63 483.77 L762.85 477.16 L766.36 470.67 L770.13 464.33 L774.15 458.17 L778.40 452.23 L782.85 446.54 L787.49 441.12 L792.28 436.00 L797.21 431.21 L802.25 426.77 L807.38 422.71 L812.56 419.04 L817.78 415.78 L823.00 412.95 L828.21 410.57 L833.36 408.64 L838.45 407.18 L843.44 406.19 L848.30 405.68 L853.02 405.64 L857.57 406.09 L861.92 407.02 L866.06 408.42 L869.96 410.29 L873.61 412.61 L876.98 415.38 L880.06 418.58" />
<path class="t" d="M700.50 415.50 L760.30 449.90"/>
<path class="t" d="M825.40 517.30 L865.80 540.60"/>
<path class="bw" d="M657.64 319.49 L660.32 321.22 L662.80 323.25 L665.08 325.59 L667.14 328.22 L668.97 331.13 L670.56 334.30 L671.91 337.73 L673.01 341.39 L673.85 345.26 L674.43 349.34 L674.75 353.58 L674.80 357.99 L674.59 362.53 L674.11 367.18 L673.37 371.92 L672.38 376.73 L671.13 381.58 L669.63 386.45 L667.89 391.31 L665.93 396.15 L663.74 400.94 L661.33 405.65 L658.73 410.27 L655.95 414.77 L652.99 419.12 L649.87 423.31 L646.60 427.32 L643.21 431.12 L639.71 434.70 L636.11 438.04 L632.44 441.13 L628.71 443.95 L624.94 446.48 L621.14 448.72 L617.34 450.64 L613.56 452.26 L609.81 453.54 L606.11 454.50 L602.48 455.12 L598.94 455.40 L595.50 455.35 L592.19 454.95 L589.01 454.21 L585.98 453.14 L583.12 451.75 L580.45 450.02 L577.96 447.99 L575.69 445.65 L573.63 443.02 L571.80 440.11 L570.21 436.94 L568.86 433.51 L567.76 429.85 L566.92 425.98 L566.34 421.90 L566.02 417.66 L565.97 413.25 L566.18 408.71 L566.66 404.06 L567.39 399.32 L568.39 394.51 L569.64 389.66 L571.14 384.79 L572.87 379.93 L574.84 375.09 L577.03 370.30 L579.43 365.59 L582.03 360.97 L584.82 356.47 L587.78 352.12 L590.90 347.93 L594.16 343.92 L597.55 340.12 L601.06 336.54 L604.65 333.20 L608.33 330.11 L612.06 327.29 L615.83 324.76 L619.63 322.52 L623.42 320.60 L627.21 318.98 L630.96 317.70 L634.66 316.74 L638.28 316.12 L641.83 315.84 L645.26 315.89 L648.58 316.29 L651.76 317.03 L654.78 318.10 L657.64 319.49Z" />
<path class="bw" d="M659.56 320.57 L662.24 322.30 L664.72 324.33 L666.99 326.67 L669.05 329.30 L670.88 332.21 L672.48 335.38 L673.82 338.81 L674.92 342.47 L675.76 346.34 L676.35 350.42 L676.66 354.66 L676.72 359.07 L676.50 363.61 L676.03 368.26 L675.29 373.00 L674.29 377.81 L673.04 382.66 L671.55 387.53 L669.81 392.39 L667.84 397.23 L665.65 402.02 L663.25 406.73 L660.65 411.35 L657.86 415.85 L654.90 420.20 L651.78 424.39 L648.52 428.40 L645.13 432.20 L641.63 435.78 L638.03 439.12 L634.36 442.21 L630.63 445.03 L626.85 447.56 L623.06 449.80 L619.26 451.72 L615.48 453.34 L611.73 454.62 L608.03 455.58 L604.40 456.20 L600.86 456.48 L597.42 456.43 L594.10 456.03 L590.92 455.29 L587.90 454.22 L585.04 452.83 L582.36 451.10 L579.88 449.07 L577.61 446.73 L575.55 444.10 L573.72 441.19 L572.12 438.02 L570.78 434.59 L569.68 430.93 L568.84 427.06 L568.25 422.98 L567.94 418.74 L567.88 414.33 L568.10 409.79 L568.57 405.14 L569.31 400.40 L570.31 395.59 L571.56 390.74 L573.05 385.87 L574.79 381.01 L576.76 376.17 L578.95 371.38 L581.35 366.67 L583.95 362.05 L586.74 357.55 L589.70 353.20 L592.82 349.01 L596.08 345.00 L599.47 341.20 L602.97 337.62 L606.57 334.28 L610.24 331.19 L613.97 328.37 L617.75 325.84 L621.54 323.60 L625.34 321.68 L629.12 320.06 L632.87 318.78 L636.57 317.82 L640.20 317.20 L643.74 316.92 L647.18 316.97 L650.50 317.37 L653.68 318.11 L656.70 319.18 L659.56 320.57Z" />
<path class="mw" d="M636.81 343.94 L633.73 353.80 L633.88 356.91 L636.88 358.38 L639.62 356.68 L646.19 348.53 L647.52 349.98 L648.72 351.60 L649.79 353.39 L650.70 355.33 L651.48 357.42 L652.10 359.65 L652.56 362.01 L652.87 364.48 L653.02 367.05 L653.04 368.37 L645.40 373.43 L643.11 376.40 L642.34 381.38 L643.88 383.20 L650.62 383.92 L649.68 386.85 L648.61 389.76 L647.39 392.66 L646.05 395.52 L644.57 398.34 L642.99 401.09 L641.29 403.77 L639.49 406.36 L637.59 408.85 L636.61 410.05 L632.06 405.25 L629.61 405.11 L625.84 408.62 L624.64 412.14 L624.81 421.01 L622.55 422.49 L620.27 423.78 L617.99 424.89 L615.72 425.81 L613.48 426.54 L611.27 427.06 L609.11 427.38 L607.00 427.50 L604.95 427.41 L603.96 427.30 L607.04 417.44 L606.88 414.33 L603.88 412.86 L601.15 414.56 L594.58 422.71 L593.25 421.26 L592.04 419.64 L590.98 417.85 L590.06 415.91 L589.29 413.82 L588.67 411.59 L588.20 409.23 L587.89 406.76 L587.74 404.19 L587.73 402.87 L595.37 397.81 L597.66 394.84 L598.43 389.86 L596.89 388.04 L590.15 387.32 L591.08 384.39 L592.16 381.48 L593.37 378.58 L594.72 375.72 L596.19 372.90 L597.78 370.15 L599.48 367.47 L601.28 364.88 L603.18 362.39 L604.15 361.19 L608.71 365.99 L611.16 366.13 L614.93 362.62 L616.12 359.10 L615.95 350.23 L618.22 348.75 L620.50 347.46 L622.78 346.35 L625.04 345.43 L627.29 344.70 L629.50 344.18 L631.66 343.86 L633.77 343.74 L635.82 343.83Z" />
<path class="kw" d="M638.73 345.02 L635.64 354.88 L635.80 357.99 L638.80 359.46 L641.54 357.76 L648.10 349.61 L649.44 351.06 L650.64 352.68 L651.70 354.47 L652.62 356.41 L653.39 358.50 L654.01 360.73 L654.48 363.09 L654.79 365.56 L654.94 368.13 L654.96 369.45 L647.32 374.51 L645.03 377.48 L644.25 382.46 L645.80 384.28 L652.54 385.00 L651.60 387.93 L650.52 390.84 L649.31 393.74 L647.96 396.60 L646.49 399.42 L644.90 402.17 L643.20 404.85 L641.40 407.44 L639.51 409.93 L638.53 411.13 L633.98 406.33 L631.52 406.19 L627.75 409.70 L626.56 413.22 L626.73 422.09 L624.46 423.57 L622.19 424.86 L619.91 425.97 L617.64 426.89 L615.40 427.62 L613.19 428.14 L611.02 428.46 L608.91 428.58 L606.87 428.49 L605.87 428.38 L608.96 418.52 L608.80 415.41 L605.80 413.94 L603.06 415.64 L596.50 423.79 L595.16 422.34 L593.96 420.72 L592.90 418.93 L591.98 416.99 L591.21 414.90 L590.59 412.67 L590.12 410.31 L589.81 407.84 L589.66 405.27 L589.64 403.95 L597.28 398.89 L599.57 395.92 L600.35 390.94 L598.80 389.12 L592.06 388.40 L593.00 385.47 L594.08 382.56 L595.29 379.66 L596.64 376.80 L598.11 373.98 L599.70 371.23 L601.40 368.55 L603.20 365.96 L605.09 363.47 L606.07 362.27 L610.62 367.07 L613.08 367.21 L616.85 363.70 L618.04 360.18 L617.87 351.31 L620.14 349.83 L622.41 348.54 L624.69 347.43 L626.96 346.51 L629.20 345.78 L631.41 345.26 L633.58 344.94 L635.69 344.82 L637.73 344.91Z" />
<path class="m" d="M641.01 351.87 L641.35 352.42 L641.26 353.28 L640.78 354.15 L640.08 354.67 L639.44 354.66 L639.10 354.12 L639.19 353.25 L639.67 352.39 L640.37 351.86 L641.01 351.87Z" />
<path class="m" d="M649.78 377.26 L650.12 377.81 L650.03 378.68 L649.55 379.54 L648.85 380.06 L648.21 380.05 L647.87 379.51 L647.96 378.64 L648.44 377.78 L649.14 377.25 L649.78 377.26Z" />
<path class="m" d="M631.85 410.70 L632.20 411.24 L632.11 412.11 L631.62 412.97 L630.93 413.50 L630.28 413.49 L629.94 412.94 L630.03 412.07 L630.52 411.21 L631.21 410.69 L631.85 410.70Z" />
<path class="m" d="M605.16 418.74 L605.50 419.28 L605.41 420.15 L604.93 421.01 L604.23 421.54 L603.59 421.53 L603.25 420.98 L603.34 420.12 L603.82 419.25 L604.52 418.73 L605.16 418.74Z" />
<path class="m" d="M596.39 393.35 L596.73 393.89 L596.64 394.76 L596.16 395.62 L595.46 396.15 L594.82 396.14 L594.48 395.59 L594.57 394.72 L595.05 393.86 L595.75 393.34 L596.39 393.35Z" />
<path class="m" d="M614.32 359.91 L614.66 360.46 L614.57 361.33 L614.08 362.19 L613.39 362.71 L612.75 362.70 L612.40 362.16 L612.49 361.29 L612.98 360.43 L613.67 359.90 L614.32 359.91Z" />
<path class="kw" d="M649.51 338.41 L649.96 339.02 L649.99 340.00 L649.58 341.09 L648.86 342.00 L648.01 342.49 L647.25 342.42 L646.80 341.81 L646.78 340.83 L647.18 339.73 L647.91 338.82 L648.76 338.34 L649.51 338.41Z" />
<path class="k" d="M647.77 341.93 L647.29 341.93 L646.92 341.67 L646.74 341.18 L646.76 340.56 L646.98 339.87 L647.36 339.24 L647.86 338.76 L648.39 338.50" />
<path class="kw" d="M659.18 336.67 L659.63 337.28 L659.66 338.26 L659.26 339.35 L658.53 340.26 L657.68 340.75 L656.93 340.68 L656.48 340.07 L656.45 339.09 L656.85 338.00 L657.58 337.09 L658.43 336.60 L659.18 336.67Z" />
<path class="k" d="M657.44 340.19 L656.96 340.19 L656.60 339.93 L656.41 339.45 L656.43 338.82 L656.65 338.14 L657.04 337.51 L657.54 337.02 L658.07 336.76" />
<path class="kw" d="M668.75 337.25 L669.20 337.86 L669.22 338.84 L668.82 339.94 L668.09 340.85 L667.24 341.33 L666.49 341.26 L666.04 340.66 L666.01 339.67 L666.42 338.58 L667.14 337.67 L667.99 337.18 L668.75 337.25Z" />
<path class="k" d="M667.01 340.77 L666.52 340.77 L666.16 340.51 L665.97 340.03 L665.99 339.40 L666.21 338.72 L666.60 338.09 L667.10 337.61 L667.63 337.35" />
<path class="kw" d="M663.39 353.69 L663.84 354.30 L663.86 355.28 L663.46 356.37 L662.74 357.28 L661.88 357.77 L661.13 357.70 L660.68 357.09 L660.65 356.11 L661.06 355.01 L661.78 354.10 L662.64 353.62 L663.39 353.69Z" />
<path class="k" d="M661.65 357.21 L661.16 357.21 L660.80 356.95 L660.61 356.46 L660.63 355.84 L660.85 355.15 L661.24 354.52 L661.74 354.04 L662.27 353.78" />
<path class="kw" d="M669.86 356.38 L670.31 356.99 L670.34 357.97 L669.94 359.06 L669.21 359.98 L668.36 360.46 L667.60 360.39 L667.15 359.78 L667.13 358.80 L667.53 357.71 L668.26 356.80 L669.11 356.31 L669.86 356.38Z" />
<path class="k" d="M668.12 359.90 L667.64 359.90 L667.28 359.64 L667.09 359.16 L667.11 358.53 L667.33 357.85 L667.72 357.22 L668.21 356.74 L668.74 356.47" />
<path class="kw" d="M660.52 375.10 L660.97 375.71 L661.00 376.69 L660.59 377.79 L659.87 378.70 L659.02 379.18 L658.26 379.11 L657.81 378.51 L657.79 377.52 L658.19 376.43 L658.92 375.52 L659.77 375.03 L660.52 375.10Z" />
<path class="k" d="M658.78 378.62 L658.30 378.62 L657.93 378.36 L657.75 377.88 L657.77 377.25 L657.99 376.57 L658.37 375.94 L658.87 375.46 L659.40 375.20" />
<path class="kw" d="M662.83 385.36 L663.28 385.97 L663.30 386.95 L662.90 388.04 L662.17 388.95 L661.32 389.44 L660.57 389.37 L660.12 388.76 L660.09 387.78 L660.50 386.68 L661.22 385.77 L662.07 385.29 L662.83 385.36Z" />
<path class="k" d="M661.09 388.88 L660.60 388.88 L660.24 388.62 L660.05 388.13 L660.07 387.51 L660.29 386.82 L660.68 386.19 L661.18 385.71 L661.71 385.45" />
<path class="kw" d="M663.40 397.55 L663.85 398.16 L663.87 399.14 L663.47 400.24 L662.74 401.15 L661.89 401.63 L661.14 401.56 L660.69 400.96 L660.66 399.97 L661.07 398.88 L661.79 397.97 L662.64 397.48 L663.40 397.55Z" />
<path class="k" d="M661.66 401.07 L661.17 401.07 L660.81 400.81 L660.62 400.33 L660.64 399.70 L660.86 399.02 L661.25 398.39 L661.75 397.91 L662.28 397.65" />
<path class="kw" d="M650.64 405.72 L651.09 406.33 L651.11 407.31 L650.71 408.40 L649.98 409.31 L649.13 409.80 L648.38 409.73 L647.93 409.12 L647.90 408.14 L648.31 407.05 L649.03 406.14 L649.88 405.65 L650.64 405.72Z" />
<path class="k" d="M648.90 409.24 L648.41 409.24 L648.05 408.98 L647.86 408.50 L647.88 407.87 L648.10 407.19 L648.49 406.56 L648.99 406.07 L649.52 405.81" />
<path class="kw" d="M649.32 416.04 L649.77 416.65 L649.79 417.63 L649.39 418.72 L648.66 419.63 L647.81 420.12 L647.06 420.05 L646.61 419.44 L646.58 418.46 L646.98 417.36 L647.71 416.45 L648.56 415.97 L649.32 416.04Z" />
<path class="k" d="M647.58 419.56 L647.09 419.56 L646.73 419.30 L646.54 418.81 L646.56 418.19 L646.78 417.50 L647.17 416.87 L647.67 416.39 L648.20 416.13" />
<path class="kw" d="M634.44 421.39 L634.89 422.00 L634.92 422.98 L634.51 424.07 L633.79 424.98 L632.93 425.47 L632.18 425.40 L631.73 424.79 L631.71 423.81 L632.11 422.72 L632.83 421.81 L633.69 421.32 L634.44 421.39Z" />
<path class="k" d="M632.70 424.91 L632.22 424.91 L631.85 424.65 L631.67 424.17 L631.68 423.54 L631.90 422.86 L632.29 422.23 L632.79 421.74 L633.32 421.48" />
<path class="kw" d="M627.07 433.38 L627.52 433.99 L627.55 434.97 L627.14 436.07 L626.42 436.98 L625.57 437.46 L624.81 437.39 L624.36 436.78 L624.34 435.80 L624.74 434.71 L625.47 433.80 L626.32 433.31 L627.07 433.38Z" />
<path class="k" d="M625.33 436.90 L624.85 436.90 L624.48 436.64 L624.30 436.16 L624.32 435.53 L624.54 434.85 L624.92 434.22 L625.42 433.74 L625.95 433.47" />
<path class="kw" d="M618.08 445.00 L618.53 445.60 L618.56 446.58 L618.15 447.68 L617.43 448.59 L616.57 449.07 L615.82 449.00 L615.37 448.40 L615.34 447.42 L615.75 446.32 L616.47 445.41 L617.33 444.93 L618.08 445.00Z" />
<path class="k" d="M616.34 448.51 L615.85 448.51 L615.49 448.25 L615.30 447.77 L615.32 447.14 L615.54 446.46 L615.93 445.83 L616.43 445.35 L616.96 445.09" />
<path class="kw" d="M610.68 436.73 L611.13 437.34 L611.15 438.32 L610.75 439.41 L610.03 440.32 L609.17 440.81 L608.42 440.74 L607.97 440.13 L607.94 439.15 L608.35 438.06 L609.07 437.14 L609.93 436.66 L610.68 436.73Z" />
<path class="k" d="M608.94 440.25 L608.45 440.25 L608.09 439.99 L607.90 439.51 L607.92 438.88 L608.14 438.19 L608.53 437.56 L609.03 437.08 L609.56 436.82" />
<path class="kw" d="M602.88 444.35 L603.33 444.96 L603.36 445.94 L602.96 447.03 L602.23 447.94 L601.38 448.43 L600.62 448.36 L600.17 447.75 L600.15 446.77 L600.55 445.68 L601.28 444.77 L602.13 444.28 L602.88 444.35Z" />
<path class="k" d="M601.14 447.87 L600.66 447.87 L600.29 447.61 L600.11 447.13 L600.13 446.50 L600.35 445.82 L600.73 445.19 L601.23 444.70 L601.76 444.44" />
<path class="kw" d="M597.35 430.98 L597.80 431.59 L597.82 432.57 L597.42 433.67 L596.69 434.58 L595.84 435.06 L595.09 434.99 L594.64 434.38 L594.61 433.40 L595.02 432.31 L595.74 431.40 L596.59 430.91 L597.35 430.98Z" />
<path class="k" d="M595.61 434.50 L595.12 434.50 L594.76 434.24 L594.57 433.76 L594.59 433.13 L594.81 432.45 L595.20 431.82 L595.70 431.34 L596.23 431.07" />
<path class="kw" d="M587.67 432.72 L588.12 433.33 L588.15 434.31 L587.75 435.40 L587.02 436.31 L586.17 436.80 L585.42 436.73 L584.97 436.12 L584.94 435.14 L585.34 434.05 L586.07 433.14 L586.92 432.65 L587.67 432.72Z" />
<path class="k" d="M585.93 436.24 L585.45 436.24 L585.09 435.98 L584.90 435.50 L584.92 434.87 L585.14 434.19 L585.53 433.56 L586.02 433.07 L586.56 432.81" />
<path class="kw" d="M578.11 432.14 L578.56 432.74 L578.59 433.73 L578.18 434.82 L577.46 435.73 L576.61 436.22 L575.85 436.15 L575.40 435.54 L575.38 434.56 L575.78 433.46 L576.51 432.55 L577.36 432.07 L578.11 432.14Z" />
<path class="k" d="M576.37 435.65 L575.89 435.66 L575.52 435.40 L575.34 434.91 L575.36 434.28 L575.58 433.60 L575.96 432.97 L576.46 432.49 L576.99 432.23" />
<path class="kw" d="M583.47 415.70 L583.92 416.31 L583.95 417.29 L583.54 418.39 L582.82 419.30 L581.96 419.78 L581.21 419.71 L580.76 419.10 L580.74 418.12 L581.14 417.03 L581.86 416.12 L582.72 415.63 L583.47 415.70Z" />
<path class="k" d="M581.73 419.22 L581.25 419.22 L580.88 418.96 L580.70 418.48 L580.72 417.85 L580.94 417.17 L581.32 416.54 L581.82 416.06 L582.35 415.79" />
<path class="kw" d="M577.00 413.01 L577.45 413.62 L577.47 414.60 L577.07 415.69 L576.34 416.60 L575.49 417.09 L574.74 417.02 L574.29 416.41 L574.26 415.43 L574.66 414.34 L575.39 413.42 L576.24 412.94 L577.00 413.01Z" />
<path class="k" d="M575.26 416.53 L574.77 416.53 L574.41 416.27 L574.22 415.79 L574.24 415.16 L574.46 414.47 L574.85 413.84 L575.35 413.36 L575.88 413.10" />
<path class="kw" d="M586.34 394.29 L586.79 394.89 L586.81 395.88 L586.41 396.97 L585.68 397.88 L584.83 398.37 L584.08 398.30 L583.63 397.69 L583.60 396.71 L584.01 395.61 L584.73 394.70 L585.58 394.22 L586.34 394.29Z" />
<path class="k" d="M584.60 397.80 L584.11 397.81 L583.75 397.55 L583.56 397.06 L583.58 396.43 L583.80 395.75 L584.19 395.12 L584.69 394.64 L585.22 394.38" />
<path class="kw" d="M584.03 384.03 L584.48 384.64 L584.51 385.62 L584.10 386.72 L583.38 387.63 L582.53 388.11 L581.77 388.04 L581.32 387.43 L581.30 386.45 L581.70 385.36 L582.43 384.45 L583.28 383.96 L584.03 384.03Z" />
<path class="k" d="M582.29 387.55 L581.81 387.55 L581.44 387.29 L581.26 386.81 L581.28 386.18 L581.50 385.50 L581.88 384.87 L582.38 384.39 L582.91 384.12" />
<path class="kw" d="M583.46 371.84 L583.91 372.44 L583.94 373.43 L583.53 374.52 L582.81 375.43 L581.96 375.92 L581.20 375.85 L580.75 375.24 L580.73 374.26 L581.13 373.16 L581.86 372.25 L582.71 371.77 L583.46 371.84Z" />
<path class="k" d="M581.72 375.35 L581.24 375.36 L580.87 375.10 L580.69 374.61 L580.71 373.98 L580.93 373.30 L581.31 372.67 L581.81 372.19 L582.34 371.93" />
<path class="kw" d="M596.22 363.67 L596.67 364.28 L596.70 365.26 L596.29 366.35 L595.57 367.26 L594.72 367.75 L593.96 367.68 L593.51 367.07 L593.49 366.09 L593.89 365.00 L594.62 364.09 L595.47 363.60 L596.22 363.67Z" />
<path class="k" d="M594.48 367.19 L594.00 367.19 L593.63 366.93 L593.45 366.45 L593.47 365.82 L593.69 365.14 L594.07 364.51 L594.57 364.02 L595.10 363.76" />
<path class="kw" d="M597.54 353.35 L597.99 353.96 L598.02 354.94 L597.62 356.04 L596.89 356.95 L596.04 357.43 L595.28 357.36 L594.83 356.75 L594.81 355.77 L595.21 354.68 L595.94 353.77 L596.79 353.28 L597.54 353.35Z" />
<path class="k" d="M595.80 356.87 L595.32 356.87 L594.96 356.61 L594.77 356.13 L594.79 355.50 L595.01 354.82 L595.40 354.19 L595.89 353.71 L596.42 353.44" />
<path class="kw" d="M612.42 348.00 L612.87 348.61 L612.89 349.59 L612.49 350.68 L611.77 351.59 L610.91 352.08 L610.16 352.01 L609.71 351.40 L609.68 350.42 L610.09 349.33 L610.81 348.42 L611.67 347.93 L612.42 348.00Z" />
<path class="k" d="M610.68 351.52 L610.19 351.52 L609.83 351.26 L609.64 350.78 L609.66 350.15 L609.88 349.46 L610.27 348.83 L610.77 348.35 L611.30 348.09" />
<path class="kw" d="M619.79 336.01 L620.24 336.62 L620.26 337.60 L619.86 338.69 L619.13 339.60 L618.28 340.09 L617.53 340.02 L617.08 339.41 L617.05 338.43 L617.46 337.33 L618.18 336.42 L619.03 335.94 L619.79 336.01Z" />
<path class="k" d="M618.05 339.53 L617.56 339.53 L617.20 339.27 L617.01 338.78 L617.03 338.16 L617.25 337.47 L617.64 336.84 L618.14 336.36 L618.67 336.10" />
<path class="kw" d="M628.78 324.40 L629.23 325.00 L629.26 325.98 L628.85 327.08 L628.13 327.99 L627.27 328.47 L626.52 328.40 L626.07 327.80 L626.04 326.82 L626.45 325.72 L627.17 324.81 L628.03 324.33 L628.78 324.40Z" />
<path class="k" d="M627.04 327.91 L626.56 327.91 L626.19 327.65 L626.01 327.17 L626.02 326.54 L626.24 325.86 L626.63 325.23 L627.13 324.75 L627.66 324.49" />
<path class="kw" d="M636.18 332.66 L636.63 333.27 L636.66 334.25 L636.25 335.34 L635.53 336.26 L634.67 336.74 L633.92 336.67 L633.47 336.06 L633.45 335.08 L633.85 333.99 L634.57 333.08 L635.43 332.59 L636.18 332.66Z" />
<path class="k" d="M634.44 336.18 L633.96 336.18 L633.59 335.92 L633.41 335.44 L633.42 334.81 L633.64 334.13 L634.03 333.50 L634.53 333.02 L635.06 332.75" />
<path class="kw" d="M643.98 325.04 L644.43 325.65 L644.45 326.63 L644.05 327.72 L643.32 328.63 L642.47 329.12 L641.72 329.05 L641.27 328.44 L641.24 327.46 L641.64 326.37 L642.37 325.46 L643.22 324.97 L643.98 325.04Z" />
<path class="k" d="M642.24 328.56 L641.75 328.56 L641.39 328.30 L641.20 327.82 L641.22 327.19 L641.44 326.51 L641.83 325.88 L642.33 325.39 L642.86 325.13" />
<path class="bw" d="M446.82 149.94 L450.83 152.52 L454.54 155.57 L457.95 159.07 L461.04 163.01 L463.78 167.37 L466.16 172.13 L468.19 177.26 L469.83 182.74 L471.09 188.55 L471.96 194.64 L472.44 201.01 L472.52 207.61 L472.20 214.40 L471.48 221.37 L470.38 228.47 L468.89 235.68 L467.02 242.94 L464.77 250.24 L462.17 257.53 L459.22 264.78 L455.94 271.95 L452.35 279.01 L448.45 285.93 L444.27 292.66 L439.84 299.18 L435.17 305.46 L430.28 311.46 L425.20 317.16 L419.95 322.52 L414.56 327.53 L409.06 332.16 L403.47 336.38 L397.82 340.17 L392.14 343.52 L386.45 346.41 L380.78 348.82 L375.16 350.75 L369.62 352.18 L364.18 353.11 L358.88 353.54 L353.73 353.45 L348.76 352.86 L344.00 351.75 L339.47 350.15 L335.18 348.06 L331.17 345.48 L327.46 342.43 L324.05 338.93 L320.96 334.99 L318.22 330.63 L315.84 325.87 L313.81 320.74 L312.17 315.26 L310.91 309.45 L310.04 303.36 L309.56 296.99 L309.48 290.39 L309.80 283.60 L310.52 276.63 L311.62 269.53 L313.11 262.32 L314.98 255.06 L317.23 247.76 L319.83 240.47 L322.78 233.22 L326.06 226.05 L329.65 218.99 L333.55 212.07 L337.73 205.34 L342.16 198.82 L346.83 192.54 L351.72 186.54 L356.80 180.84 L362.05 175.48 L367.44 170.47 L372.94 165.84 L378.53 161.62 L384.18 157.83 L389.86 154.48 L395.55 151.59 L401.22 149.18 L406.84 147.25 L412.38 145.82 L417.82 144.89 L423.12 144.46 L428.27 144.55 L433.24 145.14 L438.00 146.25 L442.53 147.85 L446.82 149.94Z" />
<path class="t" d="M448.16 152.34 L452.13 154.89 L455.81 157.90 L459.18 161.37 L462.23 165.27 L464.94 169.58 L467.31 174.29 L469.31 179.37 L470.93 184.79 L472.18 190.53 L473.04 196.57 L473.51 202.86 L473.59 209.39 L473.28 216.12 L472.57 223.01 L471.48 230.04 L470.00 237.17 L468.15 244.36 L465.93 251.58 L463.36 258.79 L460.44 265.96 L457.19 273.06 L453.63 280.05 L449.78 286.89 L445.65 293.55 L441.26 300.00 L436.63 306.21 L431.80 312.15 L426.77 317.79 L421.58 323.10 L416.25 328.05 L410.81 332.63 L405.27 336.80 L399.68 340.56 L394.06 343.87 L388.43 346.73 L382.82 349.12 L377.26 351.03 L371.78 352.45 L366.40 353.37 L361.15 353.78 L356.06 353.70 L351.14 353.11 L346.43 352.02 L341.95 350.43 L337.71 348.36 L333.74 345.81 L330.06 342.80 L326.69 339.33 L323.64 335.43 L320.93 331.12 L318.56 326.41 L316.56 321.33 L314.94 315.91 L313.69 310.17 L312.83 304.13 L312.36 297.84 L312.28 291.31 L312.59 284.58 L313.30 277.69 L314.39 270.66 L315.87 263.53 L317.72 256.34 L319.94 249.12 L322.51 241.91 L325.43 234.74 L328.68 227.64 L332.24 220.65 L336.09 213.81 L340.22 207.15 L344.61 200.70 L349.24 194.49 L354.07 188.55 L359.10 182.91 L364.29 177.60 L369.62 172.65 L375.06 168.07 L380.60 163.90 L386.19 160.14 L391.81 156.83 L397.44 153.97 L403.05 151.58 L408.61 149.67 L414.09 148.25 L419.47 147.33 L424.72 146.92 L429.81 147.00 L434.73 147.59 L439.44 148.68 L443.92 150.27 L448.16 152.34Z" />
<path class="k" d="M445.74 158.54 L449.48 160.94 L452.95 163.79 L456.13 167.05 L459.00 170.72 L461.56 174.79 L463.78 179.22 L465.67 184.01 L467.20 189.12 L468.38 194.53 L469.19 200.22 L469.63 206.15 L469.70 212.30 L469.41 218.64 L468.74 225.13 L467.71 231.75 L466.32 238.47 L464.58 245.24 L462.49 252.05 L460.06 258.84 L457.31 265.60 L454.25 272.29 L450.90 278.87 L447.27 285.32 L443.38 291.59 L439.24 297.67 L434.88 303.53 L430.33 309.12 L425.59 314.43 L420.70 319.43 L415.68 324.10 L410.55 328.41 L405.34 332.35 L400.07 335.89 L394.77 339.01 L389.46 341.70 L384.18 343.95 L378.94 345.75 L373.78 347.09 L368.71 347.95 L363.76 348.35 L358.96 348.27 L354.33 347.71 L349.89 346.69 L345.67 345.19 L341.67 343.24 L337.93 340.84 L334.47 337.99 L331.29 334.73 L328.42 331.06 L325.86 326.99 L323.63 322.56 L321.75 317.77 L320.22 312.66 L319.04 307.25 L318.23 301.56 L317.79 295.63 L317.71 289.48 L318.01 283.14 L318.67 276.65 L319.71 270.03 L321.10 263.31 L322.84 256.54 L324.93 249.73 L327.36 242.94 L330.11 236.18 L333.16 229.49 L336.52 222.91 L340.15 216.46 L344.04 210.19 L348.18 204.11 L352.53 198.25 L357.09 192.66 L361.83 187.35 L366.72 182.35 L371.74 177.68 L376.87 173.37 L382.08 169.43 L387.35 165.89 L392.65 162.77 L397.95 160.08 L403.24 157.83 L408.48 156.03 L413.64 154.69 L418.71 153.83 L423.66 153.43 L428.46 153.51 L433.09 154.07 L437.53 155.09 L441.75 156.59 L445.74 158.54Z" />
<path class="kw" d="M446.51 160.05 L450.22 162.43 L453.66 165.25 L456.82 168.49 L459.67 172.14 L462.21 176.17 L464.42 180.58 L466.28 185.32 L467.81 190.39 L468.97 195.77 L469.78 201.41 L470.22 207.30 L470.29 213.40 L470.00 219.69 L469.34 226.14 L468.32 232.71 L466.93 239.37 L465.20 246.10 L463.13 252.85 L460.72 259.59 L457.99 266.30 L454.96 272.94 L451.63 279.47 L448.03 285.87 L444.16 292.10 L440.06 298.13 L435.73 303.94 L431.21 309.49 L426.51 314.76 L421.66 319.73 L416.67 324.36 L411.58 328.64 L406.41 332.54 L401.18 336.05 L395.92 339.15 L390.66 341.83 L385.41 344.06 L380.21 345.85 L375.09 347.17 L370.06 348.03 L365.15 348.42 L360.39 348.34 L355.79 347.79 L351.38 346.77 L347.19 345.29 L343.23 343.35 L339.52 340.97 L336.08 338.15 L332.92 334.91 L330.07 331.26 L327.53 327.23 L325.32 322.82 L323.46 318.08 L321.93 313.01 L320.77 307.63 L319.96 301.99 L319.52 296.10 L319.45 290.00 L319.74 283.71 L320.40 277.26 L321.42 270.69 L322.81 264.03 L324.54 257.30 L326.61 250.55 L329.02 243.81 L331.75 237.10 L334.78 230.46 L338.11 223.93 L341.71 217.53 L345.58 211.30 L349.68 205.27 L354.01 199.46 L358.53 193.91 L363.23 188.64 L368.08 183.67 L373.07 179.04 L378.16 174.76 L383.33 170.86 L388.56 167.35 L393.82 164.25 L399.08 161.57 L404.33 159.34 L409.53 157.55 L414.65 156.23 L419.68 155.37 L424.59 154.98 L429.35 155.06 L433.95 155.61 L438.36 156.63 L442.55 158.11 L446.51 160.05Z" />
<path class="bw" d="M449.06 165.10 L452.67 167.42 L456.02 170.17 L459.10 173.33 L461.88 176.88 L464.35 180.81 L466.50 185.10 L468.32 189.73 L469.80 194.67 L470.94 199.90 L471.73 205.40 L472.16 211.14 L472.23 217.08 L471.94 223.21 L471.30 229.49 L470.30 235.90 L468.95 242.39 L467.27 248.94 L465.25 255.52 L462.90 262.09 L460.24 268.63 L457.29 275.09 L454.04 281.46 L450.53 287.69 L446.77 293.76 L442.77 299.64 L438.56 305.30 L434.15 310.71 L429.57 315.84 L424.84 320.68 L419.98 325.20 L415.02 329.36 L409.98 333.17 L404.89 336.59 L399.76 339.61 L394.63 342.21 L389.53 344.39 L384.46 346.13 L379.47 347.42 L374.57 348.26 L369.78 348.64 L365.14 348.56 L360.66 348.02 L356.37 347.03 L352.28 345.59 L348.42 343.70 L344.81 341.38 L341.46 338.63 L338.38 335.47 L335.60 331.92 L333.13 327.99 L330.98 323.70 L329.16 319.07 L327.68 314.13 L326.54 308.90 L325.75 303.40 L325.32 297.66 L325.25 291.72 L325.54 285.59 L326.18 279.31 L327.18 272.90 L328.53 266.41 L330.21 259.86 L332.23 253.28 L334.58 246.71 L337.24 240.17 L340.19 233.71 L343.44 227.34 L346.95 221.11 L350.71 215.04 L354.71 209.16 L358.92 203.50 L363.33 198.09 L367.91 192.96 L372.64 188.12 L377.50 183.60 L382.46 179.44 L387.50 175.63 L392.59 172.21 L397.72 169.19 L402.85 166.59 L407.95 164.41 L413.02 162.67 L418.01 161.38 L422.91 160.54 L427.70 160.16 L432.34 160.24 L436.82 160.78 L441.11 161.77 L445.20 163.21 L449.06 165.10Z" />
<path class="kw" d="M452.76 171.93 L456.25 174.17 L459.49 176.83 L462.45 179.88 L465.14 183.31 L467.53 187.10 L469.60 191.25 L471.36 195.72 L472.80 200.49 L473.89 205.54 L474.65 210.85 L475.07 216.39 L475.14 222.14 L474.86 228.06 L474.24 234.12 L473.27 240.31 L471.98 246.58 L470.35 252.91 L468.39 259.26 L466.13 265.61 L463.56 271.92 L460.70 278.16 L457.57 284.31 L454.18 290.33 L450.54 296.20 L446.68 301.87 L442.61 307.34 L438.36 312.57 L433.93 317.53 L429.37 322.20 L424.68 326.56 L419.88 330.58 L415.02 334.26 L410.10 337.56 L405.15 340.48 L400.19 342.99 L395.26 345.10 L390.37 346.78 L385.54 348.02 L380.81 348.83 L376.19 349.20 L371.71 349.13 L367.38 348.61 L363.23 347.65 L359.29 346.25 L355.56 344.43 L352.07 342.19 L348.83 339.53 L345.86 336.48 L343.18 333.05 L340.79 329.26 L338.71 325.11 L336.95 320.64 L335.52 315.87 L334.42 310.82 L333.66 305.51 L333.25 299.97 L333.18 294.22 L333.46 288.30 L334.08 282.24 L335.04 276.05 L336.34 269.78 L337.97 263.45 L339.92 257.10 L342.19 250.75 L344.75 244.44 L347.61 238.20 L350.74 232.05 L354.14 226.03 L357.77 220.16 L361.63 214.49 L365.70 209.02 L369.96 203.79 L374.38 198.83 L378.95 194.16 L383.64 189.80 L388.43 185.78 L393.30 182.10 L398.22 178.80 L403.17 175.88 L408.12 173.37 L413.06 171.26 L417.95 169.58 L422.77 168.34 L427.51 167.53 L432.13 167.16 L436.61 167.23 L440.94 167.75 L445.08 168.71 L449.03 170.11 L452.76 171.93Z" />
<path class="kw" d="M457.72 178.43 L461.13 180.62 L464.28 183.20 L467.17 186.17 L469.79 189.52 L472.12 193.22 L474.14 197.26 L475.86 201.61 L477.25 206.26 L478.32 211.19 L479.06 216.37 L479.47 221.77 L479.53 227.37 L479.27 233.14 L478.66 239.05 L477.72 245.08 L476.45 251.19 L474.87 257.36 L472.96 263.55 L470.76 269.74 L468.25 275.89 L465.47 281.98 L462.42 287.97 L459.11 293.84 L455.57 299.56 L451.80 305.09 L447.83 310.42 L443.69 315.51 L439.37 320.35 L434.92 324.90 L430.35 329.15 L425.68 333.08 L420.93 336.66 L416.14 339.88 L411.31 342.72 L406.49 345.17 L401.67 347.22 L396.91 348.86 L392.20 350.08 L387.59 350.86 L383.09 351.22 L378.72 351.15 L374.50 350.64 L370.46 349.71 L366.61 348.35 L362.98 346.57 L359.57 344.38 L356.42 341.80 L353.53 338.83 L350.91 335.48 L348.58 331.78 L346.56 327.74 L344.84 323.39 L343.45 318.74 L342.38 313.81 L341.64 308.63 L341.23 303.23 L341.17 297.63 L341.43 291.86 L342.04 285.95 L342.98 279.92 L344.25 273.81 L345.83 267.64 L347.74 261.45 L349.94 255.26 L352.45 249.11 L355.23 243.02 L358.28 237.03 L361.59 231.16 L365.13 225.44 L368.90 219.91 L372.87 214.58 L377.01 209.49 L381.33 204.65 L385.78 200.10 L390.35 195.85 L395.02 191.92 L399.77 188.34 L404.56 185.12 L409.39 182.28 L414.21 179.83 L419.03 177.78 L423.79 176.14 L428.50 174.92 L433.11 174.14 L437.61 173.78 L441.98 173.85 L446.20 174.36 L450.24 175.29 L454.09 176.65 L457.72 178.43Z" />
<path class="kw" d="M466.44 182.09 L469.92 184.32 L473.14 186.96 L476.09 189.99 L478.76 193.41 L481.14 197.18 L483.21 201.30 L484.96 205.75 L486.38 210.50 L487.47 215.53 L488.23 220.81 L488.64 226.32 L488.71 232.04 L488.43 237.93 L487.82 243.97 L486.86 250.12 L485.56 256.36 L483.94 262.65 L482.00 268.97 L479.75 275.29 L477.19 281.57 L474.35 287.78 L471.23 293.90 L467.86 299.89 L464.24 305.72 L460.40 311.37 L456.35 316.81 L452.12 322.01 L447.72 326.95 L443.17 331.59 L438.50 335.93 L433.74 339.94 L428.89 343.59 L424.00 346.88 L419.07 349.78 L414.14 352.29 L409.24 354.38 L404.37 356.05 L399.57 357.29 L394.86 358.10 L390.26 358.46 L385.80 358.39 L381.50 357.87 L377.37 356.92 L373.45 355.53 L369.74 353.71 L366.26 351.48 L363.04 348.84 L360.09 345.81 L357.42 342.39 L355.04 338.62 L352.97 334.50 L351.22 330.05 L349.80 325.30 L348.71 320.27 L347.95 314.99 L347.54 309.48 L347.47 303.76 L347.75 297.87 L348.36 291.83 L349.32 285.68 L350.62 279.44 L352.24 273.15 L354.18 266.83 L356.43 260.51 L358.99 254.23 L361.83 248.02 L364.95 241.90 L368.32 235.91 L371.94 230.08 L375.78 224.43 L379.83 218.99 L384.06 213.79 L388.46 208.85 L393.01 204.21 L397.68 199.87 L402.44 195.86 L407.29 192.21 L412.18 188.92 L417.11 186.02 L422.04 183.51 L426.94 181.42 L431.81 179.75 L436.61 178.51 L441.32 177.70 L445.92 177.34 L450.38 177.41 L454.68 177.93 L458.81 178.88 L462.73 180.27 L466.44 182.09Z" />
<path class="b" d="M355.28 272.18 L357.41 265.76 L359.85 259.36 L362.59 253.02 L365.62 246.75 L368.91 240.61 L372.46 234.60 L376.25 228.77 L380.26 223.14 L384.47 217.73 L388.86 212.58 L393.40 207.72 L398.08 203.15 L402.87 198.91 L407.75 195.02 L412.70 191.50 L417.69 188.35 L422.69 185.61 L427.69 183.27 L432.65 181.36 L437.56 179.88" />
<path class="kw" d="M402.95 177.04 L404.10 178.13 L404.70 179.71 L404.66 181.55 L403.98 183.36 L402.78 184.88 L401.23 185.87 L399.57 186.18 L398.05 185.76 L396.90 184.67 L396.30 183.09 L396.34 181.25 L397.02 179.44 L398.22 177.92 L399.77 176.93 L401.43 176.62 L402.95 177.04Z" />
<path class="k" d="M401.87 178.24 L402.73 179.11 L403.09 180.40 L402.88 181.84 L402.14 183.16 L401.01 184.09 L399.72 184.45 L398.53 184.16 L397.67 183.29 L397.31 182.00 L397.52 180.56 L398.26 179.24 L399.39 178.31 L400.68 177.95 L401.87 178.24Z" />
<path class="kw" d="M483.70 180.17 L487.58 182.66 L491.18 185.61 L494.47 189.00 L497.46 192.81 L500.11 197.03 L502.42 201.63 L504.37 206.59 L505.96 211.90 L507.18 217.51 L508.03 223.41 L508.49 229.57 L508.56 235.95 L508.26 242.53 L507.57 249.27 L506.50 256.14 L505.05 263.11 L503.24 270.14 L501.07 277.20 L498.56 284.25 L495.70 291.27 L492.53 298.20 L489.05 305.04 L485.28 311.72 L481.24 318.24 L476.95 324.55 L472.43 330.62 L467.70 336.43 L462.78 341.94 L457.71 347.13 L452.50 351.98 L447.17 356.45 L441.77 360.53 L436.30 364.20 L430.80 367.44 L425.29 370.24 L419.81 372.57 L414.38 374.44 L409.02 375.83 L403.76 376.73 L398.62 377.14 L393.64 377.05 L388.84 376.48 L384.23 375.41 L379.84 373.86 L375.70 371.83 L371.82 369.34 L368.22 366.39 L364.93 363.00 L361.94 359.19 L359.29 354.97 L356.98 350.37 L355.03 345.41 L353.44 340.10 L352.22 334.49 L351.37 328.59 L350.91 322.43 L350.84 316.05 L351.14 309.47 L351.83 302.73 L352.90 295.86 L354.35 288.89 L356.16 281.86 L358.33 274.80 L360.84 267.75 L363.70 260.73 L366.87 253.80 L370.35 246.96 L374.12 240.28 L378.16 233.76 L382.45 227.45 L386.97 221.38 L391.70 215.57 L396.62 210.06 L401.69 204.87 L406.90 200.02 L412.23 195.55 L417.63 191.47 L423.10 187.80 L428.60 184.56 L434.11 181.76 L439.59 179.43 L445.02 177.56 L450.38 176.17 L455.64 175.27 L460.78 174.86 L465.76 174.95 L470.56 175.52 L475.17 176.59 L479.56 178.14 L483.70 180.17Z" />
<path class="kw" d="M478.45 189.49 L481.95 191.74 L485.20 194.40 L488.17 197.46 L490.87 200.90 L493.26 204.71 L495.34 208.86 L497.11 213.35 L498.55 218.13 L499.65 223.20 L500.41 228.53 L500.82 234.09 L500.89 239.85 L500.61 245.79 L499.99 251.87 L499.03 258.07 L497.72 264.36 L496.09 270.71 L494.13 277.08 L491.86 283.45 L489.28 289.78 L486.42 296.04 L483.28 302.21 L479.87 308.25 L476.23 314.13 L472.35 319.83 L468.27 325.31 L464.00 330.55 L459.57 335.53 L454.98 340.21 L450.28 344.59 L445.47 348.62 L440.59 352.31 L435.66 355.62 L430.69 358.55 L425.72 361.07 L420.77 363.18 L415.87 364.87 L411.03 366.12 L406.28 366.93 L401.65 367.30 L397.15 367.22 L392.81 366.70 L388.65 365.74 L384.69 364.34 L380.95 362.51 L377.45 360.26 L374.20 357.60 L371.23 354.54 L368.53 351.10 L366.14 347.29 L364.06 343.14 L362.29 338.65 L360.85 333.87 L359.75 328.80 L358.99 323.47 L358.58 317.91 L358.51 312.15 L358.79 306.21 L359.41 300.13 L360.37 293.93 L361.68 287.64 L363.31 281.29 L365.27 274.92 L367.54 268.55 L370.12 262.22 L372.98 255.96 L376.12 249.79 L379.53 243.75 L383.17 237.87 L387.05 232.17 L391.13 226.69 L395.40 221.45 L399.83 216.47 L404.42 211.79 L409.12 207.41 L413.93 203.38 L418.81 199.69 L423.74 196.38 L428.71 193.45 L433.68 190.93 L438.63 188.82 L443.53 187.13 L448.37 185.88 L453.12 185.07 L457.75 184.70 L462.25 184.78 L466.59 185.30 L470.75 186.26 L474.71 187.66 L478.45 189.49Z" />
<clipPath id="wclip"><path d="M478.45 189.49 L481.95 191.74 L485.20 194.40 L488.17 197.46 L490.87 200.90 L493.26 204.71 L495.34 208.86 L497.11 213.35 L498.55 218.13 L499.65 223.20 L500.41 228.53 L500.82 234.09 L500.89 239.85 L500.61 245.79 L499.99 251.87 L499.03 258.07 L497.72 264.36 L496.09 270.71 L494.13 277.08 L491.86 283.45 L489.28 289.78 L486.42 296.04 L483.28 302.21 L479.87 308.25 L476.23 314.13 L472.35 319.83 L468.27 325.31 L464.00 330.55 L459.57 335.53 L454.98 340.21 L450.28 344.59 L445.47 348.62 L440.59 352.31 L435.66 355.62 L430.69 358.55 L425.72 361.07 L420.77 363.18 L415.87 364.87 L411.03 366.12 L406.28 366.93 L401.65 367.30 L397.15 367.22 L392.81 366.70 L388.65 365.74 L384.69 364.34 L380.95 362.51 L377.45 360.26 L374.20 357.60 L371.23 354.54 L368.53 351.10 L366.14 347.29 L364.06 343.14 L362.29 338.65 L360.85 333.87 L359.75 328.80 L358.99 323.47 L358.58 317.91 L358.51 312.15 L358.79 306.21 L359.41 300.13 L360.37 293.93 L361.68 287.64 L363.31 281.29 L365.27 274.92 L367.54 268.55 L370.12 262.22 L372.98 255.96 L376.12 249.79 L379.53 243.75 L383.17 237.87 L387.05 232.17 L391.13 226.69 L395.40 221.45 L399.83 216.47 L404.42 211.79 L409.12 207.41 L413.93 203.38 L418.81 199.69 L423.74 196.38 L428.71 193.45 L433.68 190.93 L438.63 188.82 L443.53 187.13 L448.37 185.88 L453.12 185.07 L457.75 184.70 L462.25 184.78 L466.59 185.30 L470.75 186.26 L474.71 187.66 L478.45 189.49Z"/></clipPath>
<g clip-path="url(#wclip)">
<path class="t" d="M441.93 184.66 L446.72 183.63 L451.40 183.04 L455.96 182.91 L460.37 183.22 L464.61 183.98 L468.66 185.18 L472.49 186.81 L476.09 188.88 L479.45 191.36 L482.53 194.26 L485.34 197.54 L487.85 201.20 L490.05 205.21 L491.94 209.57 L493.50 214.24 L494.72 219.20 L495.60 224.43 L496.13 229.90 L496.32 235.59 L496.16 241.47 L495.65 247.50 L494.79 253.66 L493.59 259.92 L492.05 266.24 L490.19 272.60 L488.00 278.96 L485.51 285.30 L482.72 291.57 L479.66 297.76 L476.32 303.82 L472.73 309.73 L468.91 315.47 L464.88 320.99 L460.65 326.27 L456.26 331.30 L451.71 336.03 L447.03 340.46 L442.24 344.55 L437.38 348.29 L432.46 351.66 L427.50 354.63 L422.54 357.21 L417.59 359.37 L412.69 361.10 L407.85 362.40 L403.09 363.25 L398.46 363.66 L393.95 363.63 L389.61 363.14 L385.44 362.21 L381.48 360.83 L377.73 359.03 L374.22 356.80 L370.97 354.15 L367.99 351.11 L365.30 347.67 L362.91 343.87" />
<path class="t" d="M437.12 182.32 L441.86 181.30 L446.50 180.72 L451.01 180.59 L455.38 180.89 L459.57 181.64 L463.58 182.83 L467.37 184.45 L470.94 186.50 L474.26 188.96 L477.31 191.82 L480.09 195.07 L482.58 198.69 L484.76 202.67 L486.62 206.98 L488.16 211.60 L489.37 216.51 L490.25 221.69 L490.78 227.10 L490.96 232.73 L490.80 238.55 L490.29 244.52 L489.44 250.62 L488.25 256.81 L486.73 263.07 L484.89 269.37 L482.73 275.67 L480.26 281.94 L477.50 288.15 L474.46 294.27 L471.16 300.27 L467.61 306.12 L463.83 311.80 L459.84 317.26 L455.66 322.50 L451.30 327.47 L446.80 332.16 L442.17 336.54 L437.43 340.59 L432.62 344.29 L427.75 347.62 L422.84 350.57 L417.93 353.12 L413.03 355.25 L408.18 356.97 L403.39 358.25 L398.68 359.10 L394.09 359.50 L389.63 359.47 L385.33 358.99 L381.21 358.06 L377.28 356.70 L373.58 354.92 L370.11 352.71 L366.89 350.09 L363.94 347.07 L361.27 343.68 L358.91 339.91" />
<path class="t" d="M432.35 179.80 L437.05 178.79 L441.65 178.22 L446.12 178.08 L450.45 178.39 L454.61 179.13 L458.58 180.31 L462.35 181.92 L465.88 183.95 L469.18 186.38 L472.21 189.22 L474.96 192.45 L477.43 196.04 L479.59 199.98 L481.44 204.25 L482.97 208.84 L484.17 213.71 L485.03 218.84 L485.56 224.22 L485.74 229.80 L485.58 235.57 L485.08 241.49 L484.24 247.54 L483.06 253.68 L481.55 259.89 L479.72 266.13 L477.58 272.38 L475.13 278.60 L472.40 284.76 L469.38 290.83 L466.11 296.78 L462.59 302.59 L458.84 308.21 L454.88 313.63 L450.73 318.82 L446.41 323.76 L441.94 328.40 L437.35 332.75 L432.66 336.77 L427.88 340.44 L423.05 343.74 L418.18 346.67 L413.31 349.19 L408.46 351.31 L403.64 353.01 L398.89 354.29 L394.22 355.13 L389.67 355.53 L385.25 355.49 L380.98 355.01 L376.89 354.10 L373.00 352.75 L369.32 350.98 L365.88 348.79 L362.69 346.19 L359.77 343.20 L357.12 339.83 L354.77 336.10" />
<path class="t" d="M427.59 177.19 L432.25 176.19 L436.82 175.62 L441.26 175.49 L445.56 175.79 L449.69 176.53 L453.64 177.70 L457.37 179.29 L460.88 181.31 L464.15 183.73 L467.16 186.55 L469.89 189.75 L472.34 193.31 L474.49 197.22 L476.33 201.47 L477.84 206.02 L479.04 210.85 L479.89 215.95 L480.41 221.29 L480.60 226.83 L480.44 232.55 L479.94 238.43 L479.10 244.44 L477.93 250.54 L476.44 256.70 L474.62 262.90 L472.49 269.10 L470.06 275.27 L467.35 281.39 L464.35 287.42 L461.10 293.33 L457.61 299.09 L453.89 304.67 L449.96 310.06 L445.84 315.21 L441.55 320.10 L437.12 324.72 L432.56 329.03 L427.89 333.02 L423.15 336.66 L418.36 339.94 L413.53 342.85 L408.69 345.36 L403.87 347.46 L399.09 349.15 L394.37 350.41 L389.74 351.25 L385.22 351.65 L380.83 351.61 L376.60 351.13 L372.54 350.23 L368.67 348.89 L365.02 347.13 L361.61 344.95 L358.44 342.38 L355.53 339.41 L352.91 336.06 L350.58 332.36" />
<path class="t" d="M422.84 174.49 L427.48 173.50 L432.02 172.93 L436.44 172.80 L440.71 173.10 L444.81 173.83 L448.73 174.99 L452.44 176.58 L455.93 178.58 L459.18 180.99 L462.17 183.79 L464.89 186.97 L467.32 190.51 L469.45 194.40 L471.28 198.62 L472.79 203.14 L473.97 207.94 L474.82 213.01 L475.34 218.31 L475.52 223.82 L475.36 229.51 L474.87 235.35 L474.04 241.32 L472.87 247.38 L471.39 253.50 L469.58 259.66 L467.47 265.82 L465.05 271.96 L462.35 278.04 L459.38 284.03 L456.15 289.90 L452.68 295.63 L448.98 301.18 L445.07 306.52 L440.98 311.64 L436.72 316.51 L432.31 321.10 L427.78 325.38 L423.15 329.34 L418.44 332.96 L413.67 336.23 L408.87 339.11 L404.07 341.60 L399.28 343.69 L394.53 345.37 L389.84 346.63 L385.24 347.46 L380.74 347.85 L376.38 347.82 L372.17 347.35 L368.14 346.44 L364.30 345.11 L360.67 343.37 L357.28 341.20 L354.13 338.64 L351.24 335.69 L348.64 332.37 L346.32 328.69" />
<path class="t" d="M418.14 171.61 L422.75 170.62 L427.27 170.06 L431.67 169.92 L435.92 170.22 L440.01 170.96 L443.91 172.11 L447.61 173.69 L451.08 175.69 L454.32 178.08 L457.29 180.87 L460.00 184.04 L462.42 187.56 L464.55 191.44 L466.37 195.64 L467.87 200.14 L469.05 204.92 L469.90 209.97 L470.41 215.25 L470.59 220.73 L470.43 226.40 L469.94 232.22 L469.11 238.16 L467.95 244.19 L466.47 250.29 L464.68 256.43 L462.57 262.56 L460.17 268.67 L457.48 274.72 L454.52 280.69 L451.30 286.54 L447.84 292.24 L444.16 297.76 L440.27 303.09 L436.19 308.19 L431.95 313.03 L427.56 317.60 L423.05 321.87 L418.44 325.81 L413.75 329.42 L409.00 332.67 L404.22 335.54 L399.44 338.02 L394.67 340.10 L389.94 341.78 L385.27 343.03 L380.68 343.85 L376.21 344.25 L371.87 344.21 L367.68 343.74 L363.66 342.84 L359.84 341.52 L356.22 339.78 L352.84 337.62 L349.71 335.07 L346.83 332.14 L344.24 328.83 L341.93 325.16" />
<path class="t" d="M413.43 168.73 L418.03 167.75 L422.53 167.18 L426.90 167.05 L431.14 167.35 L435.21 168.08 L439.09 169.23 L442.77 170.80 L446.23 172.79 L449.45 175.18 L452.42 177.95 L455.11 181.10 L457.53 184.62 L459.64 188.47 L461.45 192.66 L462.95 197.14 L464.12 201.91 L464.97 206.93 L465.48 212.18 L465.66 217.65 L465.50 223.29 L465.01 229.08 L464.19 235.00 L463.03 241.01 L461.56 247.08 L459.77 253.19 L457.67 259.30 L455.28 265.38 L452.60 271.41 L449.66 277.35 L446.45 283.17 L443.01 288.85 L439.34 294.35 L435.47 299.66 L431.41 304.73 L427.18 309.56 L422.81 314.10 L418.32 318.35 L413.73 322.28 L409.06 325.87 L404.33 329.11 L399.57 331.97 L394.81 334.44 L390.06 336.51 L385.34 338.18 L380.70 339.42 L376.13 340.25 L371.68 340.64 L367.35 340.60 L363.18 340.13 L359.18 339.24 L355.37 337.92 L351.78 336.19 L348.41 334.04 L345.29 331.50 L342.43 328.58 L339.84 325.28 L337.54 321.63" />
<path class="k" d="M409.52 166.21 L414.11 165.23 L418.60 164.67 L422.97 164.54 L427.20 164.83 L431.26 165.56 L435.14 166.71 L438.81 168.28 L442.26 170.26 L445.48 172.64 L448.43 175.41 L451.12 178.56 L453.53 182.06 L455.64 185.91 L457.45 190.08 L458.94 194.56 L460.11 199.32 L460.96 204.33 L461.47 209.57 L461.65 215.02 L461.49 220.65 L461.00 226.43 L460.18 232.34 L459.03 238.33 L457.56 244.40 L455.77 250.49 L453.68 256.59 L451.29 262.66 L448.62 268.67 L445.68 274.60 L442.48 280.41 L439.04 286.07 L435.38 291.57 L431.52 296.86 L427.47 301.92 L423.25 306.74 L418.89 311.28 L414.41 315.52 L409.83 319.44 L405.16 323.02 L400.45 326.25 L395.70 329.10 L390.94 331.57 L386.20 333.64 L381.50 335.30 L376.86 336.54 L372.31 337.36 L367.86 337.75 L363.55 337.72 L359.38 337.25 L355.39 336.36 L351.59 335.04 L348.00 333.31 L344.64 331.17 L341.53 328.64 L338.67 325.72 L336.09 322.43 L333.80 318.79" />
<path class="bw" d="M437.14 167.11 L440.46 169.24 L443.53 171.76 L446.35 174.65 L448.90 177.91 L451.17 181.51 L453.14 185.45 L454.81 189.69 L456.17 194.22 L457.21 199.02 L457.93 204.06 L458.33 209.32 L458.39 214.78 L458.13 220.40 L457.54 226.16 L456.63 232.03 L455.39 237.98 L453.84 243.99 L451.99 250.03 L449.84 256.05 L447.40 262.05 L444.69 267.98 L441.72 273.81 L438.50 279.53 L435.04 285.10 L431.38 290.49 L427.51 295.68 L423.47 300.64 L419.27 305.35 L414.93 309.78 L410.48 313.92 L405.93 317.75 L401.31 321.24 L396.64 324.37 L391.94 327.14 L387.24 329.53 L382.55 331.53 L377.91 333.12 L373.32 334.31 L368.83 335.08 L364.44 335.42 L360.19 335.35 L356.08 334.86 L352.14 333.95 L348.40 332.63 L344.86 330.89 L341.54 328.76 L338.47 326.24 L335.65 323.35 L333.10 320.09 L330.83 316.49 L328.86 312.55 L327.19 308.31 L325.83 303.78 L324.79 298.98 L324.07 293.94 L323.67 288.68 L323.61 283.22 L323.87 277.60 L324.46 271.84 L325.37 265.97 L326.61 260.02 L328.16 254.01 L330.01 247.97 L332.16 241.95 L334.60 235.95 L337.31 230.02 L340.28 224.19 L343.50 218.47 L346.96 212.90 L350.62 207.51 L354.49 202.32 L358.53 197.36 L362.73 192.65 L367.07 188.22 L371.52 184.08 L376.07 180.25 L380.69 176.76 L385.36 173.63 L390.06 170.86 L394.76 168.47 L399.45 166.47 L404.09 164.88 L408.68 163.69 L413.17 162.92 L417.56 162.58 L421.81 162.65 L425.92 163.14 L429.86 164.05 L433.60 165.37 L437.14 167.11Z" />
<path class="w" d="M403.00 216.00 L423.50 198.00 L442.60 188.00 L452.00 184.00 L452.00 186.50 L441.50 191.50 L433.50 202.60 L421.50 226.50Z" />
<path class="k" d="M403.00 216.00 C406.42 213.00 416.90 202.67 423.50 198.00 C430.10 193.33 437.85 190.33 442.60 188.00 C447.35 185.67 450.43 184.67 452.00 184.00" />
<path class="k" d="M421.50 226.50 C423.50 222.52 430.17 208.43 433.50 202.60 C436.83 196.77 438.42 194.18 441.50 191.50 C444.58 188.82 450.25 187.33 452.00 186.50" />
<path class="t" d="M409.00 214.00 C412.17 211.58 422.17 203.50 428.00 199.50 C433.83 195.50 441.33 191.58 444.00 190.00" />
<path class="t" d="M416.00 222.00 C418.33 218.50 425.83 206.08 430.00 201.00 C434.17 195.92 439.17 193.08 441.00 191.50" />
<path class="w" d="M420.00 232.00 L440.00 228.30 L457.80 226.60 L466.20 224.50 L467.90 235.40 L451.00 232.80 L437.00 236.00 L422.00 241.00Z" />
<path class="k" d="M420.00 232.00 C423.33 231.38 433.70 229.20 440.00 228.30 C446.30 227.40 453.43 227.23 457.80 226.60 C462.17 225.97 464.80 224.85 466.20 224.50" />
<path class="k" d="M422.00 241.00 C424.50 240.17 432.17 237.37 437.00 236.00 C441.83 234.63 445.85 232.90 451.00 232.80 C456.15 232.70 465.08 234.97 467.90 235.40" />
<path class="t" d="M422.00 234.50 C425.00 233.83 434.00 231.42 440.00 230.50 C446.00 229.58 455.00 229.25 458.00 229.00" />
<path class="t" d="M423.00 238.50 C425.50 237.75 433.17 235.25 438.00 234.00 C442.83 232.75 449.67 231.50 452.00 231.00" />
<path class="w" d="M418.00 257.00 L430.00 257.00 L442.60 258.10 L461.20 264.80 L459.50 269.00 L437.60 264.00 L427.00 264.50 L415.00 267.00Z" />
<path class="k" d="M418.00 257.00 C420.00 257.00 425.90 256.82 430.00 257.00 C434.10 257.18 437.40 256.80 442.60 258.10 C447.80 259.40 458.10 263.68 461.20 264.80" />
<path class="k" d="M415.00 267.00 C417.00 266.58 423.23 265.00 427.00 264.50 C430.77 264.00 432.18 263.25 437.60 264.00 C443.02 264.75 455.85 268.17 459.50 269.00" />
<path class="t" d="M419.00 259.50 C421.00 259.50 427.00 259.33 431.00 259.50 C435.00 259.67 438.50 259.42 443.00 260.50 C447.50 261.58 455.50 265.08 458.00 266.00" />
<path class="w" d="M407.40 284.00 L412.40 307.10 L420.80 323.90 L426.00 327.00 L417.50 327.30 L407.40 312.10 L401.50 301.00 L396.50 287.00Z" />
<path class="k" d="M407.40 284.00 C408.23 287.85 410.17 300.45 412.40 307.10 C414.63 313.75 418.53 320.58 420.80 323.90 C423.07 327.22 425.13 326.48 426.00 327.00" />
<path class="k" d="M396.50 287.00 C397.33 289.33 399.68 296.82 401.50 301.00 C403.32 305.18 404.73 307.72 407.40 312.10 C410.07 316.48 415.82 324.77 417.50 327.30" />
<path class="t" d="M404.50 285.00 C405.33 288.50 407.17 299.42 409.50 306.00 C411.83 312.58 417.00 321.42 418.50 324.50" />
<path class="t" d="M400.00 287.00 C400.83 289.67 403.00 297.83 405.00 303.00 C407.00 308.17 410.83 315.50 412.00 318.00" />
<path class="w" d="M385.50 291.00 L386.30 320.50 L393.90 340.70 L385.50 340.70 L379.60 320.50 L375.40 291.00Z" />
<path class="k" d="M385.50 291.00 C385.63 295.92 384.90 312.22 386.30 320.50 C387.70 328.78 392.63 337.33 393.90 340.70" />
<path class="k" d="M375.40 291.00 C376.10 295.92 377.92 312.22 379.60 320.50 C381.28 328.78 384.52 337.33 385.50 340.70" />
<path class="t" d="M382.50 292.00 C382.67 296.67 382.17 312.00 383.50 320.00 C384.83 328.00 389.33 336.67 390.50 340.00" />
<path class="w" d="M372.00 282.00 L362.00 300.00 L358.00 312.00 L356.00 300.00 L358.00 290.00 L365.00 276.00Z" />
<path class="k" d="M372.00 282.00 C370.33 285.00 364.33 295.00 362.00 300.00 C359.67 305.00 358.67 310.00 358.00 312.00" />
<path class="k" d="M365.00 276.00 C363.83 278.33 359.50 286.00 358.00 290.00 C356.50 294.00 356.33 298.33 356.00 300.00" />
<path class="bw" d="M413.71 223.36 L415.04 224.21 L416.27 225.22 L417.40 226.38 L418.42 227.69 L419.33 229.13 L420.12 230.71 L420.79 232.41 L421.34 234.23 L421.76 236.15 L422.04 238.18 L422.20 240.29 L422.23 242.47 L422.12 244.73 L421.89 247.04 L421.52 249.39 L421.03 251.78 L420.40 254.19 L419.66 256.61 L418.80 259.03 L417.82 261.43 L416.73 263.81 L415.54 266.15 L414.25 268.44 L412.86 270.68 L411.39 272.84 L409.84 274.92 L408.22 276.91 L406.54 278.80 L404.80 280.58 L403.01 282.24 L401.19 283.77 L399.34 285.17 L397.46 286.43 L395.58 287.54 L393.69 288.50 L391.81 289.30 L389.95 289.94 L388.11 290.41 L386.31 290.72 L384.55 290.86 L382.84 290.83 L381.19 290.64 L379.62 290.27 L378.11 289.74 L376.69 289.04 L375.36 288.19 L374.13 287.18 L373.00 286.02 L371.98 284.71 L371.07 283.27 L370.28 281.69 L369.61 279.99 L369.06 278.17 L368.64 276.25 L368.36 274.22 L368.20 272.11 L368.17 269.93 L368.28 267.67 L368.51 265.36 L368.88 263.01 L369.37 260.62 L370.00 258.21 L370.74 255.79 L371.60 253.37 L372.58 250.97 L373.67 248.59 L374.86 246.25 L376.15 243.96 L377.54 241.72 L379.01 239.56 L380.56 237.48 L382.18 235.49 L383.86 233.60 L385.60 231.82 L387.39 230.16 L389.21 228.63 L391.06 227.23 L392.94 225.97 L394.82 224.86 L396.71 223.90 L398.59 223.10 L400.45 222.46 L402.29 221.99 L404.09 221.68 L405.85 221.54 L407.56 221.57 L409.21 221.76 L410.78 222.13 L412.29 222.66 L413.71 223.36Z" />
<path class="k" d="M412.77 225.01 L414.04 225.82 L415.21 226.78 L416.28 227.88 L417.25 229.13 L418.11 230.50 L418.87 232.00 L419.50 233.61 L420.02 235.34 L420.42 237.17 L420.69 239.09 L420.84 241.09 L420.87 243.17 L420.77 245.31 L420.54 247.50 L420.19 249.74 L419.72 252.00 L419.13 254.29 L418.43 256.59 L417.61 258.89 L416.68 261.17 L415.65 263.43 L414.52 265.65 L413.29 267.83 L411.97 269.95 L410.58 272.00 L409.11 273.98 L407.57 275.87 L405.97 277.66 L404.32 279.35 L402.62 280.93 L400.89 282.38 L399.13 283.71 L397.35 284.91 L395.56 285.96 L393.77 286.87 L391.98 287.63 L390.21 288.24 L388.47 288.69 L386.76 288.98 L385.09 289.11 L383.46 289.09 L381.90 288.90 L380.40 288.55 L378.97 288.05 L377.63 287.39 L376.36 286.58 L375.19 285.62 L374.12 284.52 L373.15 283.27 L372.29 281.90 L371.53 280.40 L370.90 278.79 L370.38 277.06 L369.98 275.23 L369.71 273.31 L369.56 271.31 L369.53 269.23 L369.63 267.09 L369.86 264.90 L370.21 262.66 L370.68 260.40 L371.27 258.11 L371.97 255.81 L372.79 253.51 L373.72 251.23 L374.75 248.97 L375.88 246.75 L377.11 244.57 L378.43 242.45 L379.82 240.40 L381.29 238.42 L382.83 236.53 L384.43 234.74 L386.08 233.05 L387.78 231.47 L389.51 230.02 L391.27 228.69 L393.05 227.49 L394.84 226.44 L396.63 225.53 L398.42 224.77 L400.19 224.16 L401.93 223.71 L403.64 223.42 L405.31 223.29 L406.94 223.31 L408.50 223.50 L410.00 223.85 L411.43 224.35 L412.77 225.01Z" />
<path class="k" d="M411.95 228.39 L413.10 229.12 L414.16 229.99 L415.14 230.99 L416.02 232.12 L416.80 233.37 L417.48 234.73 L418.06 236.19 L418.53 237.76 L418.89 239.42 L419.14 241.16 L419.28 242.98 L419.30 244.87 L419.21 246.81 L419.01 248.80 L418.69 250.83 L418.26 252.89 L417.73 254.97 L417.09 257.05 L416.34 259.14 L415.50 261.21 L414.56 263.26 L413.54 265.28 L412.42 267.25 L411.23 269.18 L409.96 271.04 L408.62 272.84 L407.23 274.55 L405.78 276.18 L404.28 277.72 L402.74 279.15 L401.16 280.47 L399.56 281.68 L397.95 282.76 L396.32 283.72 L394.70 284.54 L393.08 285.23 L391.47 285.78 L389.89 286.19 L388.33 286.46 L386.82 286.58 L385.35 286.56 L383.93 286.39 L382.57 286.07 L381.27 285.61 L380.05 285.01 L378.90 284.28 L377.84 283.41 L376.86 282.41 L375.98 281.28 L375.20 280.03 L374.52 278.67 L373.94 277.21 L373.47 275.64 L373.11 273.98 L372.86 272.24 L372.72 270.42 L372.70 268.53 L372.79 266.59 L372.99 264.60 L373.31 262.57 L373.74 260.51 L374.27 258.43 L374.91 256.35 L375.66 254.26 L376.50 252.19 L377.44 250.14 L378.46 248.12 L379.58 246.15 L380.77 244.22 L382.04 242.36 L383.38 240.56 L384.77 238.85 L386.22 237.22 L387.72 235.68 L389.26 234.25 L390.84 232.93 L392.44 231.72 L394.05 230.64 L395.68 229.68 L397.30 228.86 L398.92 228.17 L400.53 227.62 L402.11 227.21 L403.67 226.94 L405.18 226.82 L406.65 226.84 L408.07 227.01 L409.43 227.33 L410.73 227.79 L411.95 228.39Z" />
<path class="k" d="M416.40 240.64 L409.88 249.35 L415.86 252.21" />
<path class="m" d="M416.67 243.11 L412.38 248.18 L416.37 249.38" />
<path class="k" d="M418.17 244.00 L418.83 244.88 L418.82 246.19 L418.12 247.43 L417.01 248.12 L415.91 248.01 L415.24 247.12 L415.26 245.82 L415.96 244.58 L417.07 243.88 L418.17 244.00Z" />
<path class="k" d="M408.97 268.16 L401.83 267.98 L400.33 277.85" />
<path class="m" d="M407.17 270.69 L402.96 269.99 L402.49 275.94" />
<path class="k" d="M406.19 271.73 L406.86 272.61 L406.84 273.92 L406.14 275.15 L405.03 275.85 L403.93 275.73 L403.26 274.85 L403.28 273.54 L403.98 272.31 L405.09 271.61 L406.19 271.73Z" />
<path class="k" d="M387.77 283.71 L387.15 274.84 L379.67 281.84" />
<path class="m" d="M385.70 283.78 L385.78 278.02 L381.31 282.76" />
<path class="k" d="M384.35 281.92 L385.02 282.80 L385.00 284.11 L384.30 285.35 L383.19 286.05 L382.09 285.93 L381.43 285.05 L381.45 283.74 L382.14 282.50 L383.25 281.81 L384.35 281.92Z" />
<path class="k" d="M374.00 271.76 L380.52 263.05 L374.54 260.19" />
<path class="m" d="M373.73 269.29 L378.02 264.22 L374.03 263.02" />
<path class="k" d="M374.49 264.39 L375.16 265.28 L375.14 266.58 L374.44 267.82 L373.33 268.52 L372.23 268.40 L371.57 267.52 L371.58 266.21 L372.28 264.97 L373.39 264.28 L374.49 264.39Z" />
<path class="k" d="M381.43 244.24 L388.57 244.42 L390.07 234.55" />
<path class="m" d="M383.23 241.71 L387.44 242.41 L387.91 236.46" />
<path class="k" d="M386.47 236.67 L387.14 237.55 L387.12 238.86 L386.42 240.09 L385.31 240.79 L384.21 240.67 L383.54 239.79 L383.56 238.48 L384.26 237.25 L385.37 236.55 L386.47 236.67Z" />
<path class="k" d="M402.63 228.69 L403.25 237.56 L410.73 230.56" />
<path class="m" d="M404.70 228.62 L404.62 234.38 L409.09 229.64" />
<path class="k" d="M408.31 226.47 L408.97 227.35 L408.95 228.66 L408.26 229.90 L407.15 230.59 L406.05 230.48 L405.38 229.60 L405.40 228.29 L406.10 227.05 L407.21 226.35 L408.31 226.47Z" />
<path class="kw" d="M413.82 232.32 L414.99 233.55 L415.45 235.40 L415.09 237.50 L414.00 239.44 L412.39 240.83 L410.57 241.40 L408.91 241.03 L407.73 239.80 L407.28 237.95 L407.63 235.85 L408.72 233.91 L410.34 232.52 L412.16 231.95 L413.82 232.32Z" />
<path class="kw" d="M414.42 233.17 L415.50 234.30 L415.92 236.00 L415.59 237.93 L414.59 239.72 L413.10 241.00 L411.43 241.52 L409.90 241.18 L408.82 240.05 L408.40 238.35 L408.73 236.42 L409.73 234.63 L411.22 233.35 L412.89 232.83 L414.42 233.17Z" />
<path class="k" d="M413.99 235.12 L414.69 235.93 L414.85 237.16 L414.43 238.47 L413.53 239.51 L412.40 240.01 L411.34 239.83 L410.63 239.01 L410.47 237.79 L410.90 236.48 L411.80 235.44 L412.93 234.94 L413.99 235.12Z" />
<path class="k" d="M412.17 239.15 L411.56 239.10 L411.08 238.77 L410.79 238.21 L410.74 237.51 L410.94 236.77 L411.35 236.11 L411.92 235.63 L412.56 235.40" />
<path class="kw" d="M412.76 255.02 L413.93 256.25 L414.39 258.10 L414.03 260.20 L412.94 262.14 L411.32 263.53 L409.51 264.10 L407.85 263.73 L406.67 262.50 L406.22 260.65 L406.57 258.55 L407.66 256.61 L409.28 255.22 L411.09 254.65 L412.76 255.02Z" />
<path class="kw" d="M413.36 255.87 L414.44 257.00 L414.86 258.70 L414.53 260.64 L413.53 262.42 L412.04 263.70 L410.37 264.22 L408.84 263.89 L407.76 262.75 L407.34 261.05 L407.67 259.12 L408.67 257.33 L410.16 256.05 L411.83 255.53 L413.36 255.87Z" />
<path class="k" d="M412.93 257.83 L413.63 258.64 L413.79 259.86 L413.37 261.17 L412.47 262.21 L411.34 262.71 L410.28 262.53 L409.57 261.72 L409.41 260.49 L409.84 259.18 L410.74 258.14 L411.87 257.64 L412.93 257.83Z" />
<path class="k" d="M411.10 261.85 L410.50 261.80 L410.01 261.47 L409.73 260.91 L409.68 260.21 L409.88 259.48 L410.29 258.82 L410.86 258.33 L411.50 258.10" />
<path class="kw" d="M395.79 274.05 L396.97 275.28 L397.42 277.13 L397.07 279.23 L395.98 281.17 L394.36 282.56 L392.54 283.13 L390.88 282.76 L389.71 281.53 L389.25 279.68 L389.61 277.58 L390.70 275.64 L392.31 274.25 L394.13 273.68 L395.79 274.05Z" />
<path class="kw" d="M396.40 274.90 L397.48 276.03 L397.90 277.73 L397.57 279.66 L396.57 281.45 L395.08 282.73 L393.41 283.25 L391.88 282.91 L390.80 281.78 L390.38 280.08 L390.71 278.14 L391.71 276.36 L393.20 275.08 L394.87 274.56 L396.40 274.90Z" />
<path class="k" d="M395.96 276.85 L396.67 277.66 L396.83 278.89 L396.40 280.20 L395.50 281.24 L394.37 281.74 L393.31 281.56 L392.61 280.74 L392.45 279.52 L392.87 278.21 L393.77 277.17 L394.90 276.67 L395.96 276.85Z" />
<path class="k" d="M394.14 280.88 L393.54 280.83 L393.05 280.50 L392.76 279.94 L392.72 279.24 L392.91 278.50 L393.33 277.84 L393.90 277.36 L394.54 277.13" />
<path class="kw" d="M379.89 270.37 L381.07 271.60 L381.52 273.45 L381.17 275.55 L380.08 277.49 L378.46 278.88 L376.64 279.45 L374.98 279.08 L373.81 277.85 L373.35 276.00 L373.71 273.90 L374.80 271.96 L376.41 270.57 L378.23 270.00 L379.89 270.37Z" />
<path class="kw" d="M380.50 271.22 L381.58 272.35 L382.00 274.05 L381.67 275.98 L380.67 277.77 L379.18 279.05 L377.51 279.57 L375.98 279.23 L374.90 278.10 L374.48 276.40 L374.81 274.47 L375.81 272.68 L377.30 271.40 L378.97 270.88 L380.50 271.22Z" />
<path class="k" d="M380.06 273.17 L380.77 273.99 L380.93 275.21 L380.50 276.52 L379.60 277.56 L378.47 278.06 L377.41 277.88 L376.71 277.07 L376.55 275.84 L376.97 274.53 L377.87 273.49 L379.00 272.99 L380.06 273.17Z" />
<path class="k" d="M378.24 277.20 L377.63 277.15 L377.15 276.82 L376.86 276.26 L376.82 275.56 L377.01 274.82 L377.43 274.16 L378.00 273.68 L378.63 273.45" />
<path class="kw" d="M380.95 247.67 L382.13 248.90 L382.58 250.75 L382.23 252.85 L381.14 254.79 L379.52 256.18 L377.71 256.75 L376.04 256.38 L374.87 255.15 L374.41 253.30 L374.77 251.20 L375.86 249.26 L377.48 247.87 L379.29 247.30 L380.95 247.67Z" />
<path class="kw" d="M381.56 248.51 L382.64 249.65 L383.06 251.35 L382.73 253.28 L381.73 255.07 L380.24 256.35 L378.57 256.87 L377.04 256.53 L375.96 255.40 L375.54 253.70 L375.87 251.76 L376.87 249.98 L378.36 248.70 L380.03 248.18 L381.56 248.51Z" />
<path class="k" d="M381.12 250.47 L381.83 251.28 L381.99 252.51 L381.56 253.82 L380.66 254.86 L379.53 255.36 L378.47 255.17 L377.77 254.36 L377.61 253.14 L378.03 251.83 L378.93 250.79 L380.06 250.29 L381.12 250.47Z" />
<path class="k" d="M379.30 254.50 L378.70 254.45 L378.21 254.11 L377.92 253.56 L377.88 252.86 L378.08 252.12 L378.49 251.46 L379.06 250.98 L379.70 250.75" />
<path class="kw" d="M397.92 228.64 L399.09 229.87 L399.55 231.72 L399.19 233.82 L398.10 235.76 L396.49 237.15 L394.67 237.72 L393.01 237.35 L391.83 236.12 L391.38 234.27 L391.73 232.17 L392.82 230.23 L394.44 228.84 L396.26 228.27 L397.92 228.64Z" />
<path class="kw" d="M398.52 229.49 L399.60 230.62 L400.02 232.32 L399.69 234.26 L398.69 236.04 L397.20 237.32 L395.53 237.84 L394.00 237.50 L392.92 236.37 L392.50 234.67 L392.83 232.74 L393.83 230.95 L395.32 229.67 L396.99 229.15 L398.52 229.49Z" />
<path class="k" d="M398.09 231.44 L398.79 232.26 L398.95 233.48 L398.53 234.79 L397.63 235.83 L396.50 236.33 L395.44 236.15 L394.73 235.34 L394.57 234.11 L395.00 232.80 L395.90 231.76 L397.03 231.26 L398.09 231.44Z" />
<path class="k" d="M396.26 235.47 L395.66 235.42 L395.17 235.09 L394.89 234.53 L394.84 233.83 L395.04 233.09 L395.45 232.43 L396.02 231.95 L396.66 231.72" />
<path class="kw" d="M406.12 240.32 L406.81 240.77 L407.45 241.29 L408.04 241.90 L408.57 242.58 L409.05 243.33 L409.46 244.15 L409.81 245.03 L410.09 245.98 L410.31 246.98 L410.46 248.03 L410.54 249.13 L410.55 250.26 L410.50 251.44 L410.37 252.64 L410.18 253.86 L409.93 255.10 L409.60 256.36 L409.22 257.61 L408.77 258.87 L408.26 260.12 L407.70 261.36 L407.08 262.57 L406.40 263.77 L405.68 264.93 L404.92 266.05 L404.11 267.13 L403.27 268.17 L402.40 269.15 L401.49 270.07 L400.56 270.94 L399.61 271.73 L398.65 272.46 L397.68 273.12 L396.70 273.69 L395.72 274.19 L394.74 274.61 L393.77 274.94 L392.81 275.19 L391.88 275.35 L390.96 275.42 L390.08 275.41 L389.22 275.30 L388.40 275.11 L387.62 274.84 L386.88 274.48 L386.19 274.03 L385.55 273.51 L384.96 272.90 L384.43 272.22 L383.95 271.47 L383.54 270.65 L383.19 269.77 L382.91 268.82 L382.69 267.82 L382.54 266.77 L382.46 265.67 L382.45 264.54 L382.50 263.36 L382.63 262.16 L382.82 260.94 L383.07 259.70 L383.40 258.44 L383.78 257.19 L384.23 255.93 L384.74 254.68 L385.30 253.44 L385.92 252.23 L386.60 251.03 L387.32 249.87 L388.08 248.75 L388.89 247.67 L389.73 246.63 L390.60 245.65 L391.51 244.73 L392.44 243.86 L393.39 243.07 L394.35 242.34 L395.32 241.68 L396.30 241.11 L397.28 240.61 L398.26 240.19 L399.23 239.86 L400.19 239.61 L401.12 239.45 L402.04 239.38 L402.92 239.39 L403.78 239.50 L404.60 239.69 L405.38 239.96 L406.12 240.32Z" />
<path class="b" d="M405.14 242.07 L405.76 242.47 L406.34 242.94 L406.86 243.48 L407.34 244.09 L407.77 244.76 L408.13 245.50 L408.45 246.30 L408.70 247.14 L408.90 248.04 L409.03 248.99 L409.11 249.97 L409.12 250.99 L409.07 252.04 L408.96 253.12 L408.79 254.22 L408.56 255.34 L408.27 256.46 L407.92 257.59 L407.52 258.72 L407.06 259.84 L406.55 260.95 L406.00 262.05 L405.39 263.12 L404.75 264.16 L404.06 265.17 L403.34 266.14 L402.58 267.07 L401.79 267.95 L400.98 268.78 L400.15 269.56 L399.30 270.27 L398.43 270.93 L397.56 271.51 L396.68 272.03 L395.80 272.48 L394.92 272.85 L394.05 273.15 L393.19 273.37 L392.35 273.52 L391.53 273.58 L390.73 273.57 L389.96 273.48 L389.22 273.31 L388.52 273.06 L387.86 272.73 L387.24 272.33 L386.66 271.86 L386.14 271.32 L385.66 270.71 L385.23 270.04 L384.87 269.30 L384.55 268.50 L384.30 267.66 L384.10 266.76 L383.97 265.81 L383.89 264.83 L383.88 263.81 L383.93 262.76 L384.04 261.68 L384.21 260.58 L384.44 259.46 L384.73 258.34 L385.08 257.21 L385.48 256.08 L385.94 254.96 L386.45 253.85 L387.00 252.75 L387.61 251.68 L388.25 250.64 L388.94 249.63 L389.66 248.66 L390.42 247.73 L391.21 246.85 L392.02 246.02 L392.85 245.24 L393.70 244.53 L394.57 243.87 L395.44 243.29 L396.32 242.77 L397.20 242.32 L398.08 241.95 L398.95 241.65 L399.81 241.43 L400.65 241.28 L401.47 241.22 L402.27 241.23 L403.04 241.32 L403.78 241.49 L404.48 241.74 L405.14 242.07Z" />
<path class="k" d="M402.37 244.15 L402.88 244.48 L403.35 244.87 L403.78 245.31 L404.17 245.81 L404.52 246.36 L404.82 246.96 L405.08 247.61 L405.28 248.31 L405.44 249.04 L405.55 249.82 L405.61 250.62 L405.62 251.46 L405.58 252.32 L405.49 253.20 L405.35 254.10 L405.16 255.01 L404.93 255.93 L404.64 256.86 L404.31 257.78 L403.94 258.70 L403.52 259.61 L403.07 260.50 L402.58 261.38 L402.05 262.23 L401.49 263.06 L400.89 263.85 L400.27 264.61 L399.63 265.33 L398.97 266.01 L398.28 266.65 L397.59 267.23 L396.88 267.77 L396.16 268.25 L395.44 268.67 L394.72 269.04 L394.01 269.34 L393.29 269.59 L392.59 269.77 L391.90 269.89 L391.23 269.94 L390.58 269.93 L389.95 269.85 L389.35 269.71 L388.77 269.51 L388.23 269.25 L387.72 268.92 L387.25 268.53 L386.82 268.09 L386.43 267.59 L386.08 267.04 L385.78 266.44 L385.52 265.79 L385.32 265.09 L385.16 264.36 L385.05 263.58 L384.99 262.78 L384.98 261.94 L385.02 261.08 L385.11 260.20 L385.25 259.30 L385.44 258.39 L385.67 257.47 L385.96 256.54 L386.29 255.62 L386.66 254.70 L387.08 253.79 L387.53 252.90 L388.02 252.02 L388.55 251.17 L389.11 250.34 L389.71 249.55 L390.33 248.79 L390.97 248.07 L391.63 247.39 L392.32 246.75 L393.01 246.17 L393.72 245.63 L394.44 245.15 L395.16 244.73 L395.88 244.36 L396.59 244.06 L397.31 243.81 L398.01 243.63 L398.70 243.51 L399.37 243.46 L400.02 243.47 L400.65 243.55 L401.25 243.69 L401.83 243.89 L402.37 244.15Z" />
<path class="k" d="M400.48 244.23 L400.95 244.53 L401.39 244.89 L401.79 245.30 L402.15 245.77 L402.48 246.28 L402.76 246.84 L403.00 247.45 L403.19 248.09 L403.34 248.78 L403.44 249.49 L403.50 250.24 L403.51 251.02 L403.47 251.82 L403.39 252.64 L403.26 253.48 L403.08 254.33 L402.86 255.19 L402.59 256.05 L402.29 256.91 L401.94 257.76 L401.55 258.60 L401.13 259.44 L400.67 260.25 L400.18 261.05 L399.66 261.81 L399.11 262.55 L398.53 263.26 L397.93 263.93 L397.31 264.57 L396.68 265.16 L396.03 265.70 L395.37 266.20 L394.70 266.64 L394.03 267.04 L393.36 267.38 L392.70 267.66 L392.03 267.89 L391.38 268.06 L390.74 268.17 L390.11 268.22 L389.51 268.21 L388.92 268.14 L388.36 268.01 L387.83 267.82 L387.32 267.57 L386.85 267.27 L386.41 266.91 L386.01 266.50 L385.65 266.03 L385.32 265.52" />
<path class="m" d="M399.74 244.93 L400.10 245.35 L400.42 245.81 L400.70 246.31 L400.95 246.86 L401.15 247.45 L401.31 248.07 L401.43 248.73 L401.50 249.43 L401.53 250.14 L401.52 250.89 L401.46 251.65 L401.36 252.43 L401.22 253.22 L401.03 254.03 L400.80 254.83 L400.54 255.64 L400.23 256.45 L399.88 257.25 L399.50 258.04 L399.09 258.81 L398.64 259.57 L398.16 260.30 L397.66 261.01 L397.13 261.69 L396.57 262.34 L396.00 262.96 L395.41 263.53 L394.81 264.06 L394.19 264.55 L393.57 265.00 L392.94 265.40 L392.31 265.74 L391.68 266.04 L391.06 266.28 L390.44 266.46 L389.83 266.59 L389.23 266.67 L388.65 266.69 L388.09 266.65 L387.55 266.55 L387.04 266.41 L386.55 266.20 L386.09 265.94 L385.66 265.63 L385.26 265.27" />
<path class="m" d="M398.78 245.68 L399.03 246.19 L399.25 246.73 L399.42 247.31 L399.55 247.92 L399.64 248.56 L399.69 249.23 L399.70 249.93 L399.67 250.65 L399.59 251.38 L399.48 252.13 L399.32 252.89 L399.12 253.66 L398.89 254.43 L398.61 255.20 L398.30 255.97 L397.95 256.72 L397.57 257.47 L397.16 258.20 L396.72 258.91 L396.25 259.60 L395.76 260.26 L395.25 260.89 L394.71 261.49 L394.16 262.06 L393.59 262.59 L393.01 263.08 L392.42 263.52 L391.82 263.92 L391.22 264.28 L390.62 264.58 L390.02 264.84 L389.43 265.04 L388.84 265.19 L388.27 265.29 L387.71 265.33 L387.17 265.32 L386.64 265.26 L386.14 265.14 L385.66 264.98 L385.21 264.75" />
</g>
<path class="bw" d="M323.03 165.16 L324.53 166.13 L325.93 167.27 L327.21 168.59 L328.37 170.07 L329.40 171.71 L330.30 173.49 L331.05 175.42 L331.67 177.48 L332.15 179.66 L332.47 181.95 L332.65 184.34 L332.68 186.82 L332.56 189.37 L332.29 191.99 L331.88 194.65 L331.32 197.36 L330.61 200.09 L329.77 202.83 L328.80 205.57 L327.69 208.29 L326.46 210.98 L325.11 213.63 L323.64 216.23 L322.07 218.76 L320.41 221.21 L318.65 223.56 L316.82 225.82 L314.91 227.96 L312.94 229.97 L310.92 231.85 L308.85 233.59 L306.75 235.18 L304.63 236.60 L302.49 237.86 L300.36 238.94 L298.23 239.85 L296.12 240.57 L294.04 241.11 L292.00 241.46 L290.00 241.62 L288.07 241.59 L286.20 241.36 L284.42 240.95 L282.71 240.35 L281.11 239.56 L279.60 238.59 L278.20 237.45 L276.92 236.13 L275.77 234.65 L274.74 233.02 L273.84 231.23 L273.08 229.30 L272.46 227.25 L271.99 225.07 L271.66 222.78 L271.48 220.39 L271.45 217.91 L271.57 215.35 L271.84 212.74 L272.26 210.07 L272.82 207.37 L273.52 204.64 L274.36 201.90 L275.34 199.16 L276.45 196.44 L277.68 193.74 L279.03 191.09 L280.49 188.49 L282.06 185.97 L283.73 183.52 L285.48 181.16 L287.32 178.90 L289.22 176.77 L291.19 174.75 L293.22 172.87 L295.28 171.13 L297.38 169.55 L299.51 168.12 L301.64 166.87 L303.78 165.78 L305.91 164.87 L308.02 164.15 L310.10 163.61 L312.14 163.26 L314.13 163.10 L316.06 163.14 L317.93 163.36 L319.72 163.77 L321.42 164.37 L323.03 165.16Z" />
<path class="bw" d="M324.16 165.80 L325.67 166.77 L327.06 167.91 L328.34 169.23 L329.50 170.71 L330.53 172.34 L331.43 174.13 L332.19 176.06 L332.80 178.12 L333.28 180.30 L333.60 182.59 L333.78 184.98 L333.81 187.45 L333.69 190.01 L333.43 192.62 L333.01 195.29 L332.45 198.00 L331.75 200.73 L330.91 203.47 L329.93 206.20 L328.82 208.93 L327.59 211.62 L326.24 214.27 L324.78 216.87 L323.21 219.40 L321.54 221.85 L319.79 224.20 L317.95 226.46 L316.04 228.60 L314.07 230.61 L312.05 232.49 L309.98 234.23 L307.88 235.81 L305.76 237.24 L303.63 238.50 L301.49 239.58 L299.36 240.49 L297.25 241.21 L295.17 241.75 L293.13 242.10 L291.14 242.26 L289.20 242.23 L287.34 242.00 L285.55 241.59 L283.85 240.99 L282.24 240.20 L280.73 239.23 L279.34 238.09 L278.06 236.77 L276.90 235.29 L275.87 233.66 L274.97 231.87 L274.21 229.94 L273.60 227.88 L273.12 225.70 L272.80 223.41 L272.62 221.02 L272.59 218.55 L272.71 215.99 L272.97 213.38 L273.39 210.71 L273.95 208.00 L274.65 205.27 L275.49 202.53 L276.47 199.80 L277.58 197.07 L278.81 194.38 L280.16 191.73 L281.62 189.13 L283.19 186.60 L284.86 184.15 L286.61 181.80 L288.45 179.54 L290.36 177.40 L292.33 175.39 L294.35 173.51 L296.42 171.77 L298.52 170.19 L300.64 168.76 L302.77 167.50 L304.91 166.42 L307.04 165.51 L309.15 164.79 L311.23 164.25 L313.27 163.90 L315.26 163.74 L317.20 163.77 L319.06 164.00 L320.85 164.41 L322.55 165.01 L324.16 165.80Z" />
<path d="M319.97 173.24 L323.64 166.73M321.59 174.33 L325.61 168.06M323.05 175.68 L327.39 169.71M324.32 177.28 L328.94 171.65M325.40 179.11 L330.26 173.88M326.29 181.16 L331.34 176.38M326.96 183.40 L332.16 179.12M327.42 185.83 L332.72 182.07M327.66 188.40 L333.01 185.21M327.68 191.11 L333.03 188.52M327.47 193.93 L332.78 191.95M327.05 196.83 L332.27 195.48M326.41 199.79 L331.49 199.09M288.20 233.58 L284.92 240.27M286.43 232.76 L282.76 239.27M284.81 231.67 L280.79 237.94M283.35 230.32 L279.01 236.29M282.08 228.72 L277.46 234.35M281.00 226.89 L276.14 232.12M280.11 224.84 L275.06 229.62M279.44 222.60 L274.24 226.88M278.98 220.17 L273.68 223.93M278.74 217.60 L273.39 220.79M278.72 214.89 L273.37 217.48M278.93 212.07 L273.62 214.05M279.35 209.17 L274.13 210.52M279.99 206.21 L274.91 206.91M280.84 203.23 L275.95 203.27M281.89 200.24 L277.23 199.63M283.14 197.28 L278.75 196.02M284.57 194.37 L280.49 192.48M286.16 191.53 L282.43 189.03M287.91 188.81 L284.57 185.70M289.80 186.21 L286.87 182.53M291.81 183.76 L289.32 179.55M293.92 181.48 L291.89 176.78M296.12 179.41 L294.57 174.24M298.38 177.54 L297.33 171.97M300.69 175.91 L300.14 169.98M303.01 174.52 L302.97 168.29M305.34 173.39 L305.81 166.91M307.65 172.52 L308.63 165.86M309.92 171.94 L311.39 165.14M312.13 171.63 L314.09 164.77M314.26 171.61 L316.68 164.74M316.29 171.87 L319.15 165.06M318.20 172.42 L321.48 165.73" fill="none" stroke="#1a1a1a" stroke-width="1.35"/>
<path d="M326.33 202.09 L329.99 201.95 L329.50 203.51 L325.90 203.44ZM325.29 205.16 L328.80 205.50 L328.20 207.06 L324.77 206.50ZM324.06 208.20 L327.37 209.03 L326.67 210.56 L323.46 209.53ZM322.64 211.20 L325.72 212.50 L324.93 214.00 L321.95 212.50ZM321.04 214.12 L323.87 215.89 L322.99 217.34 L320.28 215.38ZM319.28 216.94 L321.83 219.16 L320.87 220.55 L318.46 218.15ZM317.37 219.64 L319.62 222.28 L318.60 223.60 L316.49 220.78ZM315.34 222.19 L317.26 225.23 L316.18 226.46 L314.41 223.25ZM313.19 224.56 L314.78 227.97 L313.65 229.11 L312.22 225.54ZM310.96 226.73 L312.19 230.50 L311.02 231.53 L309.95 227.62ZM308.65 228.69 L309.52 232.77 L308.32 233.68 L307.62 229.48ZM306.30 230.42 L306.79 234.77 L305.58 235.56 L305.25 231.11ZM303.92 231.90 L304.03 236.49 L302.81 237.14 L302.86 232.47ZM301.53 233.12 L301.26 237.90 L300.05 238.42 L300.48 233.57ZM299.15 234.07 L298.51 238.99 L297.31 239.37 L298.12 234.39ZM296.82 234.73 L295.80 239.76 L294.63 240.00 L295.80 234.93ZM294.54 235.11 L293.16 240.20 L292.03 240.28 L293.56 235.18ZM292.34 235.19 L290.61 240.30 L289.53 240.24 L291.40 235.14ZM290.23 234.99 L288.18 240.06 L287.15 239.85 L289.34 234.81Z" fill="none" stroke="#1a1a1a" stroke-width="0.9"/>
<path class="k" d="M319.65 173.80 L320.84 174.56 L321.93 175.46 L322.94 176.49 L323.85 177.65 L324.66 178.94 L325.36 180.34 L325.95 181.85 L326.44 183.47 L326.81 185.18 L327.07 186.98 L327.21 188.85 L327.23 190.80 L327.14 192.80 L326.93 194.86 L326.60 196.95 L326.16 199.07 L325.61 201.21 L324.95 203.37 L324.18 205.51 L323.31 207.65 L322.35 209.77 L321.29 211.85 L320.14 213.89 L318.91 215.87 L317.60 217.79 L316.22 219.64 L314.78 221.41 L313.28 223.09 L311.73 224.68 L310.15 226.15 L308.52 227.51 L306.88 228.76 L305.21 229.88 L303.53 230.86 L301.86 231.72 L300.19 232.43 L298.53 233.00 L296.90 233.42 L295.29 233.69 L293.73 233.82 L292.21 233.79 L290.75 233.62 L289.34 233.29 L288.01 232.82 L286.75 232.20 L285.56 231.44 L284.47 230.54 L283.46 229.51 L282.55 228.35 L281.74 227.06 L281.04 225.66 L280.45 224.15 L279.96 222.53 L279.59 220.82 L279.33 219.02 L279.19 217.15 L279.17 215.20 L279.26 213.20 L279.47 211.14 L279.80 209.05 L280.24 206.93 L280.79 204.79 L281.45 202.63 L282.22 200.49 L283.09 198.35 L284.05 196.23 L285.11 194.15 L286.26 192.11 L287.49 190.13 L288.80 188.21 L290.18 186.36 L291.62 184.59 L293.12 182.91 L294.67 181.32 L296.25 179.85 L297.88 178.49 L299.52 177.24 L301.19 176.12 L302.87 175.14 L304.54 174.28 L306.21 173.57 L307.87 173.00 L309.50 172.58 L311.11 172.31 L312.67 172.18 L314.19 172.21 L315.65 172.38 L317.06 172.71 L318.39 173.18 L319.65 173.80Z" />
<path class="mw" d="M319.59 176.00 L320.05 178.21 L318.20 182.10 L316.69 185.58 L317.05 188.09 L318.25 189.80 L320.88 189.34 L323.88 188.61 L324.88 190.31 L324.82 192.20 L324.65 194.14 L324.36 196.12 L323.97 198.13 L323.48 200.16 L322.87 202.20 L322.17 204.24 L321.37 206.27 L319.51 208.52 L316.57 208.94 L313.92 209.50 L311.83 211.85 L310.28 214.73 L310.33 217.91 L310.55 221.40 L309.04 223.99 L307.51 225.31 L305.95 226.52 L304.37 227.62 L302.78 228.58 L301.19 229.43 L299.60 230.13 L298.03 230.71 L296.47 231.14 L294.87 230.32 L294.89 226.69 L294.77 223.56 L293.12 222.49 L290.96 222.57 L288.36 224.99 L285.49 227.87 L283.57 227.78 L282.68 226.71 L281.89 225.52 L281.20 224.21 L280.60 222.80 L280.12 221.29 L279.74 219.69 L279.47 218.00 L279.31 216.24 L280.18 213.48 L283.13 210.82 L285.70 208.32 L286.78 205.32 L286.99 202.48 L285.34 200.80 L283.34 199.10 L283.66 196.44 L284.64 194.46 L285.71 192.51 L286.86 190.61 L288.09 188.77 L289.38 187.00 L290.73 185.30 L292.14 183.68 L293.60 182.16 L295.74 181.27 L297.54 183.26 L299.25 184.85 L301.57 184.06 L303.85 182.23 L305.43 178.77 L307.07 174.83 L309.19 173.28 L310.69 173.13 L312.14 173.12 L313.54 173.25 L314.89 173.52 L316.18 173.94 L317.39 174.49 L318.53 175.18Z" />
<path class="kw" d="M320.73 176.63 L321.18 178.85 L319.34 182.74 L317.83 186.22 L318.18 188.73 L319.39 190.44 L322.01 189.98 L325.02 189.25 L326.01 190.95 L325.95 192.84 L325.78 194.78 L325.50 196.76 L325.11 198.77 L324.61 200.80 L324.01 202.84 L323.30 204.88 L322.50 206.91 L320.64 209.16 L317.70 209.58 L315.05 210.14 L312.96 212.49 L311.42 215.37 L311.46 218.55 L311.68 222.03 L310.17 224.63 L308.64 225.95 L307.08 227.16 L305.50 228.25 L303.92 229.22 L302.32 230.06 L300.74 230.77 L299.16 231.35 L297.60 231.78 L296.00 230.96 L296.03 227.33 L295.90 224.20 L294.25 223.13 L292.09 223.20 L289.50 225.62 L286.63 228.51 L284.70 228.42 L283.81 227.35 L283.02 226.15 L282.33 224.85 L281.74 223.44 L281.25 221.93 L280.87 220.33 L280.60 218.64 L280.44 216.88 L281.31 214.12 L284.27 211.46 L286.83 208.96 L287.91 205.95 L288.12 203.12 L286.47 201.44 L284.47 199.73 L284.79 197.08 L285.78 195.09 L286.85 193.15 L288.00 191.25 L289.22 189.41 L290.51 187.64 L291.86 185.94 L293.27 184.32 L294.73 182.80 L296.87 181.91 L298.67 183.90 L300.39 185.49 L302.70 184.70 L304.99 182.87 L306.56 179.41 L308.20 175.47 L310.33 173.92 L311.82 173.77 L313.27 173.76 L314.68 173.89 L316.02 174.16 L317.31 174.57 L318.52 175.13 L319.67 175.81Z" />
<path class="k" d="M322.37 184.13 L322.70 184.64 L322.61 185.46 L322.16 186.26 L321.50 186.76 L320.90 186.75 L320.58 186.24 L320.67 185.42 L321.12 184.62 L321.77 184.12 L322.37 184.13Z" />
<path class="k" d="M315.95 213.37 L316.27 213.88 L316.18 214.69 L315.73 215.50 L315.08 215.99 L314.47 215.98 L314.15 215.47 L314.24 214.66 L314.69 213.85 L315.35 213.36 L315.95 213.37Z" />
<path class="k" d="M292.92 226.47 L293.24 226.98 L293.16 227.79 L292.70 228.60 L292.05 229.09 L291.45 229.08 L291.13 228.57 L291.21 227.76 L291.67 226.95 L292.32 226.46 L292.92 226.47Z" />
<path class="k" d="M285.12 205.33 L285.44 205.84 L285.35 206.65 L284.90 207.46 L284.25 207.95 L283.65 207.94 L283.32 207.43 L283.41 206.62 L283.86 205.81 L284.52 205.32 L285.12 205.33Z" />
<path class="k" d="M303.32 179.17 L303.64 179.68 L303.56 180.49 L303.10 181.30 L302.45 181.79 L301.85 181.78 L301.53 181.27 L301.61 180.46 L302.07 179.65 L302.72 179.16 L303.32 179.17Z" />
<path class="kw" d="M552.56 308.98 L555.31 306.93 L558.02 303.33 L560.37 302.33 L563.09 302.89 L565.25 304.53 L565.85 306.86 L564.48 311.06 L564.44 314.32 L565.29 315.66 L566.04 317.12 L566.68 318.70 L567.19 320.40 L567.59 322.20 L567.86 324.10 L569.59 325.65 L572.46 325.73 L573.38 327.75 L573.18 331.68 L572.13 335.90 L570.45 338.81 L567.23 340.97 L564.80 343.93 L563.88 346.24 L562.86 348.53 L561.73 350.78 L560.51 353.00 L559.21 355.16 L557.82 357.26 L556.80 360.86 L556.96 364.54 L555.53 367.56 L552.61 370.93 L549.40 373.51 L547.12 374.09 L545.27 372.05 L542.89 371.74 L541.11 372.72 L539.34 373.54 L537.58 374.22 L535.85 374.74 L534.14 375.09 L532.48 375.29 L529.74 377.34 L527.02 380.94 L524.67 381.94 L521.95 381.38 L519.80 379.75 L519.20 377.42 L520.57 373.22 L520.61 369.95 L519.75 368.62 L519.00 367.15 L518.37 365.57 L517.86 363.87 L517.46 362.07 L517.19 360.17 L515.46 358.62 L512.59 358.54 L511.66 356.52 L511.87 352.59 L512.92 348.37 L514.60 345.47 L517.82 343.31 L520.24 340.34 L521.16 338.03 L522.19 335.75 L523.32 333.49 L524.53 331.27 L525.84 329.11 L527.23 327.01 L528.24 323.42 L528.08 319.74 L529.51 316.71 L532.44 313.34 L535.64 310.76 L537.93 310.19 L539.77 312.23 L542.15 312.53 L543.94 311.55 L545.71 310.73 L547.47 310.05 L549.20 309.54 L550.90 309.18Z" />
<path class="kw" d="M558.21 310.54 L561.07 308.41 L563.90 304.66 L566.34 303.62 L569.18 304.20 L571.42 305.90 L572.05 308.33 L570.62 312.71 L570.58 316.11 L571.47 317.50 L572.25 319.02 L572.91 320.67 L573.45 322.44 L573.86 324.32 L574.14 326.30 L575.94 327.91 L578.94 327.99 L579.90 330.10 L579.68 334.19 L578.59 338.58 L576.84 341.61 L573.49 343.86 L570.96 346.95 L570.00 349.36 L568.93 351.74 L567.76 354.09 L566.49 356.40 L565.13 358.65 L563.68 360.83 L562.63 364.58 L562.79 368.41 L561.30 371.56 L558.25 375.08 L554.92 377.76 L552.54 378.36 L550.62 376.24 L548.13 375.92 L546.28 376.94 L544.43 377.80 L542.60 378.50 L540.79 379.04 L539.02 379.41 L537.29 379.62 L534.43 381.76 L531.61 385.50 L529.16 386.55 L526.32 385.97 L524.08 384.26 L523.45 381.83 L524.88 377.46 L524.93 374.05 L524.03 372.66 L523.25 371.14 L522.59 369.49 L522.06 367.72 L521.64 365.85 L521.36 363.87 L519.56 362.26 L516.57 362.17 L515.61 360.06 L515.82 355.97 L516.91 351.58 L518.66 348.55 L522.02 346.30 L524.54 343.21 L525.50 340.81 L526.57 338.43 L527.74 336.07 L529.01 333.77 L530.37 331.52 L531.82 329.33 L532.87 325.58 L532.71 321.75 L534.20 318.60 L537.25 315.09 L540.58 312.40 L542.96 311.80 L544.89 313.93 L547.37 314.24 L549.22 313.23 L551.07 312.36 L552.90 311.66 L554.71 311.12 L556.48 310.75Z" />
<path class="k" d="M525.57 382.14 L530.09 386.75"/>
<path class="k" d="M519.08 379.22 L523.33 383.71"/>
<path class="k" d="M511.59 357.82 L515.52 361.42"/>
<path class="k" d="M513.26 346.98 L517.26 350.13"/>
<path class="k" d="M528.54 317.82 L533.18 319.75"/>
<path class="k" d="M536.70 309.90 L541.69 311.50"/>
<path class="kw" d="M561.26 312.26 L564.12 310.13 L566.95 306.38 L569.39 305.34 L572.23 305.92 L574.47 307.62 L575.10 310.05 L573.67 314.43 L573.63 317.83 L574.52 319.22 L575.30 320.74 L575.96 322.39 L576.50 324.16 L576.91 326.04 L577.19 328.02 L578.99 329.63 L581.99 329.71 L582.95 331.82 L582.73 335.91 L581.64 340.30 L579.89 343.33 L576.53 345.58 L574.01 348.67 L573.05 351.07 L571.98 353.46 L570.81 355.81 L569.54 358.11 L568.18 360.37 L566.73 362.55 L565.68 366.30 L565.84 370.13 L564.35 373.28 L561.30 376.79 L557.97 379.48 L555.59 380.08 L553.66 377.96 L551.18 377.64 L549.33 378.66 L547.48 379.52 L545.65 380.22 L543.84 380.76 L542.07 381.13 L540.34 381.34 L537.48 383.47 L534.65 387.22 L532.21 388.26 L529.37 387.68 L527.13 385.98 L526.50 383.55 L527.93 379.17 L527.97 375.77 L527.08 374.38 L526.30 372.86 L525.64 371.21 L525.10 369.44 L524.69 367.56 L524.41 365.58 L522.61 363.97 L519.61 363.89 L518.65 361.78 L518.87 357.69 L519.96 353.30 L521.71 350.27 L525.07 348.02 L527.59 344.93 L528.55 342.53 L529.62 340.14 L530.79 337.79 L532.06 335.49 L533.42 333.23 L534.87 331.05 L535.92 327.30 L535.76 323.47 L537.25 320.32 L540.30 316.81 L543.63 314.12 L546.01 313.52 L547.94 315.64 L550.42 315.96 L552.27 314.94 L554.12 314.08 L555.95 313.38 L557.76 312.84 L559.53 312.47Z" />
<path class="k" d="M570.97 308.44 L571.33 309.04 L571.22 310.01 L570.68 310.98 L569.90 311.57 L569.20 311.57 L568.83 310.97 L568.95 310.00 L569.49 309.03 L570.26 308.44 L570.97 308.44Z" />
<path class="k" d="M580.42 335.43 L580.79 336.03 L580.68 337.00 L580.13 337.97 L579.36 338.57 L578.65 338.57 L578.29 337.97 L578.40 337.00 L578.95 336.03 L579.72 335.43 L580.42 335.43Z" />
<path class="k" d="M561.14 372.23 L561.50 372.83 L561.39 373.80 L560.85 374.77 L560.07 375.36 L559.37 375.36 L559.00 374.76 L559.12 373.79 L559.66 372.82 L560.43 372.22 L561.14 372.23Z" />
<path class="k" d="M532.40 382.03 L532.77 382.63 L532.65 383.60 L532.11 384.57 L531.34 385.16 L530.63 385.16 L530.27 384.56 L530.38 383.59 L530.92 382.62 L531.70 382.03 L532.40 382.03Z" />
<path class="k" d="M522.95 355.03 L523.31 355.63 L523.20 356.60 L522.65 357.57 L521.88 358.17 L521.18 358.17 L520.81 357.57 L520.92 356.60 L521.47 355.63 L522.24 355.03 L522.95 355.03Z" />
<path class="k" d="M542.23 318.24 L542.60 318.84 L542.48 319.81 L541.94 320.78 L541.17 321.38 L540.46 321.37 L540.10 320.77 L540.21 319.80 L540.75 318.83 L541.53 318.24 L542.23 318.24Z" />
<path class="b" d="M568.85 314.77 L570.10 315.58 L571.26 316.54 L572.32 317.64 L573.27 318.89 L574.12 320.28 L574.85 321.79 L575.46 323.43 L575.95 325.18 L576.32 327.04 L576.57 328.99 L576.69 331.03 L576.68 333.15 L576.55 335.33 L576.30 337.57 L575.91 339.85 L575.41 342.17 L574.79 344.51 L574.05 346.86 L573.19 349.21 L572.23 351.55 L571.16 353.86 L570.00 356.14 L568.74 358.38 L567.39 360.56 L565.96 362.67 L564.46 364.71 L562.89 366.65 L561.26 368.51 L559.59 370.25 L557.87 371.88 L556.11 373.39 L554.33 374.77 L552.53 376.01 L550.72 377.11 L548.92 378.07 L547.12 378.87 L545.34 379.51 L543.59 380.00 L541.87 380.32 L540.19 380.48 L538.57 380.48 L537.01 380.31 L535.51 379.98 L534.09 379.48 L532.75 378.83 L531.50 378.02 L530.34 377.06 L529.28 375.96 L528.33 374.71 L527.48 373.32 L526.75 371.81 L526.14 370.17 L525.65 368.42 L525.28 366.56 L525.03 364.61 L524.91 362.57 L524.92 360.45 L525.05 358.27 L525.30 356.03 L525.69 353.75 L526.19 351.43 L526.81 349.09 L527.55 346.74 L528.41 344.39 L529.37 342.05 L530.44 339.74 L531.60 337.46 L532.86 335.22 L534.21 333.04 L535.64 330.93 L537.14 328.89 L538.71 326.95 L540.34 325.09 L542.01 323.35 L543.73 321.72 L545.49 320.21 L547.27 318.83 L549.07 317.59 L550.88 316.49 L552.68 315.53 L554.48 314.73 L556.26 314.09 L558.01 313.60 L559.73 313.28 L561.41 313.12 L563.03 313.12 L564.59 313.29 L566.09 313.62 L567.51 314.12 L568.85 314.77Z" />
<path class="k" d="M567.81 316.61 L568.99 317.37 L570.08 318.28 L571.08 319.32 L571.98 320.50 L572.77 321.81 L573.46 323.24 L574.04 324.78 L574.50 326.43 L574.85 328.18 L575.08 330.02 L575.20 331.94 L575.19 333.93 L575.07 335.99 L574.83 338.10 L574.47 340.25 L573.99 342.43 L573.41 344.64 L572.71 346.85 L571.90 349.07 L571.00 351.27 L569.99 353.46 L568.89 355.61 L567.70 357.71 L566.43 359.77 L565.09 361.76 L563.67 363.68 L562.20 365.51 L560.66 367.26 L559.08 368.90 L557.46 370.44 L555.80 371.86 L554.12 373.16 L552.43 374.33 L550.73 375.37 L549.02 376.27 L547.33 377.02 L545.65 377.63 L544.00 378.09 L542.38 378.39 L540.80 378.54 L539.28 378.54 L537.80 378.38 L536.39 378.07 L535.05 377.60 L533.79 376.99 L532.61 376.23 L531.52 375.32 L530.52 374.28 L529.62 373.10 L528.83 371.79 L528.14 370.36 L527.56 368.82 L527.10 367.17 L526.75 365.42 L526.52 363.58 L526.40 361.66 L526.41 359.67 L526.53 357.61 L526.77 355.50 L527.13 353.35 L527.61 351.17 L528.19 348.96 L528.89 346.75 L529.70 344.53 L530.60 342.33 L531.61 340.14 L532.71 337.99 L533.90 335.89 L535.17 333.83 L536.51 331.84 L537.93 329.92 L539.40 328.09 L540.94 326.34 L542.52 324.70 L544.14 323.16 L545.80 321.74 L547.48 320.44 L549.17 319.27 L550.87 318.23 L552.58 317.33 L554.27 316.58 L555.95 315.97 L557.60 315.51 L559.22 315.21 L560.80 315.06 L562.32 315.06 L563.80 315.22 L565.21 315.53 L566.55 316.00 L567.81 316.61Z" />
<path class="t" d="M565.62 318.47 L566.70 319.17 L567.71 320.01 L568.63 320.97 L569.46 322.06 L570.19 323.26 L570.83 324.58 L571.36 326.00 L571.79 327.52 L572.11 329.13 L572.32 330.83 L572.43 332.60 L572.42 334.44 L572.31 336.34 L572.09 338.28 L571.76 340.27 L571.32 342.28 L570.78 344.32 L570.13 346.36 L569.39 348.40 L568.55 350.43 L567.63 352.45 L566.61 354.43 L565.52 356.37 L564.35 358.27 L563.11 360.10 L561.80 361.87 L560.44 363.57 L559.02 365.17 L557.56 366.69 L556.07 368.11 L554.54 369.42 L553.00 370.62 L551.43 371.70 L549.86 372.66 L548.29 373.48 L546.73 374.18 L545.18 374.74 L543.66 375.16 L542.17 375.44 L540.71 375.58 L539.30 375.58 L537.94 375.43 L536.64 375.14 L535.41 374.72 L534.24 374.15 L533.15 373.45 L532.15 372.61 L531.23 371.65 L530.40 370.56 L529.67 369.36 L529.03 368.04 L528.50 366.62 L528.07 365.10 L527.75 363.48 L527.53 361.79 L527.43 360.02 L527.43 358.18 L527.55 356.28 L527.77 354.33 L528.10 352.35 L528.54 350.34 L529.08 348.30 L529.72 346.26 L530.47 344.22 L531.30 342.18 L532.23 340.17 L533.24 338.19 L534.34 336.24 L535.51 334.35 L536.75 332.51 L538.06 330.75 L539.42 329.05 L540.83 327.44 L542.29 325.93 L543.79 324.51 L545.31 323.20 L546.86 322.00 L548.43 320.92 L550.00 319.96 L551.57 319.13 L553.13 318.44 L554.68 317.88 L556.20 317.46 L557.69 317.18 L559.15 317.04 L560.56 317.04 L561.92 317.19 L563.22 317.47 L564.45 317.90 L565.62 318.47Z" />
<path class="t" d="M563.42 320.33 L564.42 320.97 L565.34 321.73 L566.18 322.62 L566.94 323.61 L567.61 324.71 L568.19 325.92 L568.68 327.22 L569.07 328.61 L569.37 330.09 L569.56 331.65 L569.66 333.27 L569.66 334.95 L569.55 336.69 L569.35 338.47 L569.04 340.29 L568.64 342.13 L568.15 343.99 L567.56 345.86 L566.88 347.73 L566.11 349.60 L565.26 351.44 L564.34 353.25 L563.33 355.03 L562.26 356.77 L561.12 358.45 L559.93 360.07 L558.68 361.62 L557.39 363.09 L556.05 364.48 L554.68 365.78 L553.28 366.98 L551.87 368.08 L550.43 369.07 L549.00 369.94 L547.56 370.70 L546.13 371.34 L544.71 371.85 L543.32 372.24 L541.95 372.49 L540.62 372.62 L539.33 372.62 L538.08 372.48 L536.89 372.22 L535.76 371.83 L534.69 371.31 L533.70 370.67 L532.78 369.90 L531.93 369.02 L531.17 368.03 L530.50 366.92 L529.92 365.72 L529.43 364.41 L529.04 363.02 L528.75 361.54 L528.55 359.99 L528.45 358.37 L528.46 356.68 L528.56 354.95 L528.77 353.17 L529.07 351.35 L529.47 349.51 L529.97 347.64 L530.56 345.77 L531.24 343.90 L532.00 342.04 L532.85 340.20 L533.78 338.38 L534.78 336.60 L535.85 334.87 L536.99 333.19 L538.19 331.57 L539.43 330.02 L540.73 328.54 L542.07 327.16 L543.44 325.86 L544.83 324.66 L546.25 323.56 L547.68 322.57 L549.12 321.69 L550.56 320.94 L551.99 320.30 L553.40 319.79 L554.80 319.40 L556.17 319.14 L557.50 319.01 L558.79 319.02 L560.03 319.15 L561.22 319.42 L562.36 319.81 L563.42 320.33Z" />
<path class="t" d="M561.23 322.18 L562.13 322.77 L562.97 323.46 L563.73 324.26 L564.42 325.16 L565.03 326.17 L565.56 327.26 L566.00 328.44 L566.36 329.71 L566.63 331.05 L566.80 332.46 L566.89 333.93 L566.89 335.46 L566.79 337.04 L566.61 338.66 L566.33 340.31 L565.97 341.98 L565.52 343.67 L564.98 345.37 L564.37 347.07 L563.67 348.76 L562.90 350.43 L562.06 352.08 L561.15 353.69 L560.17 355.27 L559.14 356.79 L558.06 358.27 L556.92 359.67 L555.75 361.01 L554.53 362.27 L553.29 363.45 L552.02 364.54 L550.74 365.54 L549.44 366.43 L548.13 367.23 L546.82 367.92 L545.53 368.50 L544.24 368.96 L542.97 369.31 L541.73 369.55 L540.52 369.66 L539.35 369.66 L538.22 369.54 L537.14 369.30 L536.11 368.94 L535.15 368.47 L534.24 367.89 L533.40 367.19 L532.64 366.39 L531.95 365.49 L531.34 364.49 L530.81 363.39 L530.37 362.21 L530.01 360.95 L529.75 359.61 L529.57 358.19 L529.48 356.72 L529.48 355.19 L529.58 353.62 L529.77 352.00 L530.04 350.35 L530.40 348.67 L530.86 346.98 L531.39 345.29 L532.01 343.59 L532.70 341.90 L533.47 340.22 L534.32 338.58 L535.23 336.96 L536.20 335.39 L537.23 333.86 L538.32 332.39 L539.45 330.98 L540.63 329.64 L541.84 328.38 L543.08 327.21 L544.35 326.11 L545.64 325.12 L546.94 324.22 L548.24 323.42 L549.55 322.74 L550.85 322.16 L552.13 321.69 L553.40 321.34 L554.64 321.11 L555.85 320.99 L557.02 321.00 L558.15 321.12 L559.23 321.36 L560.26 321.71 L561.23 322.18Z" />
<path class="t" d="M559.03 324.04 L559.85 324.57 L560.60 325.19 L561.28 325.91 L561.90 326.72 L562.45 327.62 L562.93 328.60 L563.32 329.67 L563.64 330.80 L563.88 332.01 L564.04 333.27 L564.12 334.60 L564.12 335.97 L564.03 337.39 L563.87 338.84 L563.62 340.32 L563.29 341.83 L562.89 343.35 L562.41 344.87 L561.85 346.40 L561.23 347.92 L560.54 349.42 L559.78 350.90 L558.96 352.35 L558.09 353.77 L557.16 355.14 L556.18 356.46 L555.17 357.73 L554.11 358.93 L553.02 360.06 L551.90 361.12 L550.76 362.10 L549.61 363.00 L548.44 363.80 L547.26 364.52 L546.09 365.14 L544.92 365.66 L543.77 366.07 L542.63 366.39 L541.52 366.60 L540.43 366.70 L539.38 366.70 L538.36 366.59 L537.39 366.38 L536.47 366.06 L535.60 365.63 L534.78 365.11 L534.03 364.48 L533.35 363.76 L532.73 362.95 L532.18 362.05 L531.70 361.07 L531.31 360.01 L530.99 358.87 L530.75 357.67 L530.59 356.40 L530.51 355.07 L530.51 353.70 L530.60 352.28 L530.76 350.83 L531.01 349.35 L531.34 347.84 L531.74 346.33 L532.22 344.80 L532.78 343.27 L533.40 341.75 L534.09 340.25 L534.85 338.77 L535.67 337.32 L536.54 335.90 L537.47 334.53 L538.45 333.21 L539.46 331.95 L540.52 330.74 L541.61 329.61 L542.73 328.55 L543.87 327.57 L545.02 326.68 L546.19 325.87 L547.37 325.16 L548.54 324.54 L549.71 324.02 L550.86 323.60 L552.00 323.28 L553.11 323.07 L554.20 322.97 L555.25 322.97 L556.27 323.08 L557.24 323.30 L558.16 323.62 L559.03 324.04Z" />
<path class="t" d="M556.84 325.90 L557.56 326.36 L558.23 326.92 L558.84 327.55 L559.39 328.27 L559.87 329.07 L560.29 329.94 L560.65 330.89 L560.93 331.90 L561.14 332.96 L561.28 334.09 L561.35 335.26 L561.35 336.48 L561.28 337.74 L561.13 339.03 L560.91 340.34 L560.62 341.68 L560.26 343.02 L559.83 344.38 L559.34 345.73 L558.79 347.08 L558.17 348.41 L557.50 349.73 L556.77 351.01 L556.00 352.27 L555.18 353.49 L554.31 354.66 L553.41 355.78 L552.47 356.85 L551.50 357.85 L550.51 358.79 L549.50 359.66 L548.48 360.45 L547.44 361.17 L546.40 361.80 L545.36 362.35 L544.32 362.81 L543.30 363.19 L542.29 363.46 L541.30 363.65 L540.34 363.74 L539.40 363.74 L538.50 363.64 L537.64 363.45 L536.82 363.17 L536.05 362.79 L535.33 362.33 L534.66 361.77 L534.05 361.14 L533.50 360.42 L533.02 359.62 L532.60 358.75 L532.24 357.80 L531.96 356.80 L531.75 355.73 L531.60 354.60 L531.53 353.43 L531.54 352.21 L531.61 350.95 L531.76 349.66 L531.98 348.35 L532.27 347.01 L532.63 345.67 L533.06 344.31 L533.55 342.96 L534.10 341.61 L534.72 340.28 L535.39 338.96 L536.11 337.68 L536.89 336.42 L537.71 335.20 L538.58 334.03 L539.48 332.91 L540.42 331.84 L541.38 330.84 L542.38 329.90 L543.39 329.03 L544.41 328.24 L545.45 327.52 L546.49 326.89 L547.53 326.34 L548.56 325.88 L549.59 325.51 L550.60 325.23 L551.59 325.04 L552.55 324.95 L553.49 324.95 L554.39 325.05 L555.25 325.24 L556.07 325.52 L556.84 325.90Z" />
<path class="t" d="M554.64 327.75 L555.27 328.16 L555.86 328.64 L556.39 329.20 L556.87 329.83 L557.29 330.53 L557.66 331.29 L557.97 332.11 L558.21 332.99 L558.40 333.92 L558.52 334.90 L558.59 335.93 L558.58 336.99 L558.52 338.09 L558.39 339.21 L558.20 340.36 L557.94 341.53 L557.63 342.70 L557.26 343.88 L556.83 345.07 L556.34 346.24 L555.81 347.40 L555.22 348.55 L554.59 349.67 L553.91 350.77 L553.19 351.83 L552.44 352.85 L551.65 353.83 L550.83 354.76 L549.99 355.64 L549.12 356.46 L548.24 357.22 L547.35 357.91 L546.44 358.54 L545.53 359.09 L544.63 359.57 L543.72 359.97 L542.83 360.30 L541.95 360.54 L541.08 360.70 L540.24 360.78 L539.43 360.78 L538.64 360.70 L537.89 360.53 L537.17 360.28 L536.50 359.95 L535.87 359.55 L535.29 359.07 L534.76 358.51 L534.28 357.88 L533.85 357.18 L533.49 356.42 L533.18 355.60 L532.93 354.72 L532.74 353.79 L532.62 352.81 L532.56 351.78 L532.56 350.72 L532.63 349.62 L532.76 348.50 L532.95 347.35 L533.20 346.18 L533.52 345.01 L533.89 343.83 L534.32 342.64 L534.80 341.47 L535.34 340.30 L535.92 339.16 L536.56 338.03 L537.23 336.94 L537.95 335.88 L538.71 334.85 L539.50 333.88 L540.31 332.94 L541.16 332.07 L542.02 331.25 L542.90 330.49 L543.80 329.80 L544.70 329.17 L545.61 328.62 L546.52 328.14 L547.42 327.74 L548.32 327.41 L549.20 327.17 L550.06 327.01 L550.90 326.93 L551.72 326.93 L552.50 327.01 L553.26 327.18 L553.97 327.43 L554.64 327.75Z" />
<path class="kw" d="M552.26 329.95 L552.79 330.29 L553.27 330.69 L553.71 331.15 L554.11 331.68 L554.47 332.26 L554.77 332.89 L555.03 333.58 L555.24 334.31 L555.39 335.09 L555.49 335.90 L555.55 336.76 L555.54 337.64 L555.49 338.56 L555.38 339.50 L555.22 340.45 L555.01 341.42 L554.75 342.40 L554.44 343.39 L554.08 344.37 L553.68 345.35 L553.23 346.32 L552.74 347.28 L552.21 348.21 L551.65 349.13 L551.05 350.01 L550.42 350.86 L549.77 351.68 L549.08 352.46 L548.38 353.19 L547.66 353.87 L546.93 354.50 L546.18 355.08 L545.43 355.60 L544.67 356.06 L543.91 356.46 L543.16 356.80 L542.41 357.07 L541.68 357.27 L540.96 357.40 L540.26 357.47 L539.58 357.47 L538.92 357.40 L538.30 357.26 L537.70 357.05 L537.14 356.78 L536.62 356.44 L536.13 356.04 L535.69 355.58 L535.29 355.05 L534.94 354.47 L534.63 353.84 L534.37 353.15 L534.17 352.42 L534.01 351.64 L533.91 350.82 L533.86 349.97 L533.86 349.08 L533.92 348.17 L534.02 347.23 L534.18 346.27 L534.39 345.30 L534.65 344.32 L534.96 343.34 L535.32 342.35 L535.73 341.38 L536.17 340.41 L536.66 339.45 L537.19 338.51 L537.75 337.60 L538.35 336.72 L538.98 335.86 L539.64 335.05 L540.32 334.27 L541.02 333.54 L541.74 332.86 L542.48 332.23 L543.22 331.65 L543.98 331.13 L544.73 330.67 L545.49 330.27 L546.24 329.93 L546.99 329.66 L547.72 329.46 L548.44 329.32 L549.14 329.26 L549.82 329.26 L550.48 329.33 L551.10 329.47 L551.70 329.67 L552.26 329.95Z" />
<path class="b" d="M550.94 332.29 L551.37 332.57 L551.77 332.91 L552.14 333.29 L552.47 333.72 L552.76 334.20 L553.01 334.72 L553.22 335.29 L553.39 335.89 L553.52 336.54 L553.61 337.21 L553.65 337.91 L553.65 338.65 L553.60 339.40 L553.51 340.17 L553.38 340.96 L553.21 341.76 L552.99 342.57 L552.73 343.38 L552.44 344.20 L552.11 345.00 L551.74 345.80 L551.34 346.59 L550.90 347.37 L550.43 348.12 L549.94 348.85 L549.42 349.55 L548.88 350.22 L548.32 350.86 L547.74 351.47 L547.14 352.03 L546.54 352.55 L545.92 353.03 L545.30 353.46 L544.67 353.84 L544.05 354.17 L543.43 354.44 L542.81 354.67 L542.21 354.84 L541.61 354.95 L541.04 355.00 L540.48 355.00 L539.94 354.94 L539.42 354.83 L538.93 354.66 L538.46 354.43 L538.03 354.15 L537.63 353.82 L537.27 353.44 L536.94 353.01 L536.64 352.53 L536.39 352.00 L536.18 351.44 L536.01 350.83 L535.88 350.19 L535.80 349.52 L535.76 348.81 L535.76 348.08 L535.80 347.33 L535.89 346.55 L536.02 345.77 L536.20 344.96 L536.41 344.16 L536.67 343.34 L536.96 342.53 L537.30 341.72 L537.66 340.92 L538.07 340.13 L538.50 339.36 L538.97 338.61 L539.46 337.88 L539.98 337.18 L540.52 336.50 L541.09 335.86 L541.67 335.26 L542.26 334.70 L542.87 334.18 L543.48 333.70 L544.10 333.27 L544.73 332.89 L545.35 332.56 L545.97 332.28 L546.59 332.06 L547.19 331.89 L547.79 331.78 L548.37 331.73 L548.93 331.73 L549.47 331.78 L549.98 331.90 L550.48 332.07 L550.94 332.29Z" />
<path class="k" d="M548.68 332.74 L549.06 332.98 L549.41 333.27 L549.74 333.61 L550.03 333.99 L550.28 334.41 L550.50 334.87 L550.69 335.37 L550.84 335.90 L550.95 336.46 L551.03 337.06 L551.06 337.67 L551.06 338.32 L551.02 338.98 L550.94 339.66 L550.83 340.35 L550.67 341.06 L550.49 341.77 L550.26 342.48 L550.00 343.19 L549.71 343.91 L549.39 344.61 L549.03 345.30 L548.65 345.98 L548.24 346.64 L547.81 347.28 L547.35 347.90 L546.87 348.49 L546.38 349.05 L545.87 349.58 L545.35 350.08 L544.81 350.54 L544.27 350.96 L543.73 351.33 L543.18 351.67 L542.63 351.96 L542.08 352.20 L541.54 352.40 L541.01 352.54 L540.49 352.64 L539.98 352.69 L539.49 352.69 L539.01 352.64 L538.56 352.54 L538.13 352.39 L537.72 352.19 L537.34 351.95 L536.99 351.65 L536.67 351.32 L536.38 350.94 L536.12 350.52 L535.90 350.06 L535.71 349.56 L535.56 349.03 L535.45 348.46 L535.38 347.87 L535.34 347.25 L535.34 346.61 L535.38 345.95 L535.46 345.27 L535.58 344.57 L535.73 343.87 L535.92 343.16 L536.14 342.45 L536.40 341.73 L536.69 341.02 L537.02 340.32 L537.37 339.63 L537.75 338.95 L538.16 338.29 L538.60 337.64 L539.05 337.03 L539.53 336.43 L540.02 335.87 L540.53 335.34 L541.06 334.85 L541.59 334.39 L542.13 333.97 L542.68 333.59 L543.23 333.26 L543.77 332.97 L544.32 332.73 L544.86 332.53 L545.39 332.38 L545.91 332.28 L546.42 332.24 L546.92 332.24 L547.39 332.29 L547.84 332.39 L548.28 332.54 L548.68 332.74Z" />
<path class="m" d="M547.64 333.16 L547.93 333.50 L548.18 333.87 L548.41 334.29 L548.60 334.74 L548.75 335.23 L548.88 335.74 L548.96 336.29 L549.01 336.86 L549.02 337.46 L549.00 338.08 L548.94 338.71 L548.85 339.36 L548.71 340.02 L548.55 340.68 L548.35 341.35 L548.12 342.03 L547.85 342.70 L547.55 343.36 L547.23 344.01 L546.88 344.66 L546.50 345.29 L546.10 345.89 L545.67 346.48 L545.23 347.04 L544.77 347.58 L544.29 348.09 L543.80 348.56 L543.30 349.00 L542.80 349.40 L542.28 349.76 L541.77 350.08 L541.25 350.36 L540.74 350.60 L540.23 350.79 L539.72 350.93 L539.23 351.03 L538.75 351.08 L538.29 351.09 L537.84 351.04 L537.41 350.95 L537.00 350.81 L536.62 350.63 L536.26 350.40 L535.93 350.13 L535.62 349.81 L535.35 349.46 L535.11 349.06" />
<path class="kw" d="M571.42 338.43 L571.81 339.06 L571.69 340.09 L571.12 341.11 L570.30 341.74 L569.56 341.74 L569.17 341.11 L569.29 340.08 L569.87 339.06 L570.68 338.43 L571.42 338.43Z" />
<path class="kw" d="M558.21 363.64 L558.60 364.27 L558.48 365.30 L557.90 366.32 L557.09 366.95 L556.34 366.95 L555.96 366.32 L556.08 365.29 L556.65 364.27 L557.47 363.64 L558.21 363.64Z" />
<path class="kw" d="M538.52 370.36 L538.91 370.99 L538.79 372.01 L538.21 373.04 L537.40 373.67 L536.65 373.67 L536.27 373.03 L536.39 372.01 L536.96 370.99 L537.78 370.35 L538.52 370.36Z" />
<path class="kw" d="M497.35 305.21 L497.65 305.41 L497.92 305.63 L498.18 305.90 L498.41 306.19 L498.61 306.52 L498.79 306.87 L498.94 307.26 L499.07 307.66 L499.16 308.10 L499.23 308.55 L499.26 309.03 L499.27 309.52 L499.24 310.03 L499.19 310.55 L499.11 311.08 L499.00 311.62 L498.86 312.17 L498.69 312.71 L498.49 313.26 L498.27 313.80 L498.03 314.33 L497.76 314.86 L497.47 315.38 L497.16 315.88 L496.83 316.37 L496.48 316.84 L496.11 317.29 L495.73 317.71 L495.34 318.11 L494.94 318.49 L494.52 318.83 L494.11 319.15 L493.68 319.43 L493.26 319.68 L492.83 319.90 L492.41 320.08 L491.99 320.23 L491.58 320.33 L491.17 320.40 L490.77 320.43 L490.39 320.43 L490.02 320.38 L489.66 320.30 L489.32 320.18 L489.00 320.02 L488.70 319.83 L488.42 319.60 L488.17 319.34 L487.94 319.05 L487.73 318.72 L487.56 318.37 L487.40 317.98 L487.28 317.57 L487.19 317.14 L487.12 316.68 L487.09 316.21 L487.08 315.71 L487.10 315.20 L487.16 314.68 L487.24 314.15 L487.35 313.61 L487.49 313.07 L487.66 312.53 L487.85 311.98 L488.07 311.44 L488.32 310.90 L488.59 310.37 L488.88 309.86 L489.19 309.35 L489.52 308.87 L489.87 308.40 L490.24 307.95 L490.62 307.52 L491.01 307.12 L491.41 306.75 L491.82 306.40 L492.24 306.09 L492.66 305.80 L493.09 305.55 L493.51 305.34 L493.94 305.16 L494.36 305.01 L494.77 304.90 L495.18 304.83 L495.58 304.80 L495.96 304.81 L496.33 304.85 L496.69 304.94 L497.03 305.06 L497.35 305.21Z" />
<path class="w" d="M497.35 305.21 L509.16 310.72 L499.84 327.28 L489.00 320.02Z" />
<path class="k" d="M497.35 305.21 L509.16 310.72"/>
<path class="k" d="M489.00 320.02 L499.84 327.28"/>
<path class="t" d="M495.63 324.56 L495.30 324.35 L495.00 324.11 L494.73 323.82 L494.48 323.50 L494.26 323.15 L494.06 322.77 L493.90 322.35 L493.77 321.91 L493.66 321.44 L493.59 320.94 L493.55 320.43 L493.55 319.89 L493.57 319.34 L493.63 318.78 L493.72 318.21 L493.84 317.62 L493.99 317.04 L494.17 316.45 L494.39 315.86 L494.62 315.27 L494.89 314.69 L495.18 314.12 L495.50 313.56 L495.83 313.01 L496.19 312.49 L496.57 311.98 L496.97 311.49 L497.38 311.03 L497.80 310.60 L498.24 310.19 L498.68 309.82 L499.13 309.48 L499.59 309.17 L500.05 308.90 L500.51 308.66 L500.97 308.47 L501.43 308.31 L501.87 308.20 L502.31 308.12 L502.74 308.09 L503.16 308.09 L503.56 308.14 L503.95 308.23 L504.31 308.36 L504.66 308.53" />
<path class="kw" d="M509.38 306.26 L509.86 306.56 L510.30 306.92 L510.71 307.34 L511.07 307.81 L511.40 308.33 L511.68 308.89 L511.92 309.50 L512.12 310.15 L512.27 310.84 L512.37 311.56 L512.43 312.32 L512.44 313.10 L512.40 313.91 L512.31 314.74 L512.18 315.58 L512.01 316.44 L511.78 317.30 L511.52 318.17 L511.21 319.03 L510.86 319.89 L510.47 320.74 L510.04 321.58 L509.58 322.40 L509.08 323.20 L508.56 323.98 L508.00 324.72 L507.42 325.43 L506.82 326.11 L506.20 326.75 L505.56 327.34 L504.90 327.89 L504.24 328.39 L503.57 328.84 L502.89 329.24 L502.22 329.58 L501.54 329.87 L500.88 330.10 L500.22 330.27 L499.57 330.38 L498.94 330.43 L498.33 330.42 L497.74 330.35 L497.18 330.22 L496.64 330.03 L496.13 329.78 L495.65 329.47 L495.21 329.11 L494.81 328.70 L494.44 328.23 L494.12 327.71 L493.83 327.15 L493.59 326.54 L493.40 325.89 L493.25 325.20 L493.14 324.47 L493.09 323.72 L493.08 322.93 L493.12 322.13 L493.20 321.30 L493.33 320.46 L493.51 319.60 L493.73 318.74 L494.00 317.87 L494.31 317.01 L494.66 316.14 L495.05 315.29 L495.47 314.45 L495.94 313.63 L496.43 312.83 L496.96 312.06 L497.51 311.31 L498.09 310.60 L498.70 309.93 L499.32 309.29 L499.96 308.69 L500.61 308.14 L501.28 307.64 L501.95 307.19 L502.62 306.80 L503.30 306.45 L503.97 306.17 L504.64 305.94 L505.30 305.77 L505.94 305.66 L506.57 305.61 L507.18 305.62 L507.77 305.69 L508.34 305.82 L508.88 306.01 L509.38 306.26Z" />
<path class="kw" d="M511.13 307.24 L511.60 307.54 L512.04 307.91 L512.45 308.32 L512.82 308.79 L513.14 309.31 L513.42 309.87 L513.66 310.48 L513.86 311.13 L514.01 311.82 L514.11 312.55 L514.17 313.30 L514.18 314.09 L514.14 314.89 L514.06 315.72 L513.92 316.56 L513.75 317.42 L513.53 318.28 L513.26 319.15 L512.95 320.01 L512.60 320.87 L512.21 321.73 L511.78 322.56 L511.32 323.38 L510.83 324.18 L510.30 324.96 L509.74 325.70 L509.16 326.42 L508.56 327.09 L507.94 327.73 L507.30 328.32 L506.64 328.87 L505.98 329.37 L505.31 329.82 L504.63 330.22 L503.96 330.57 L503.29 330.85 L502.62 331.08 L501.96 331.25 L501.32 331.36 L500.69 331.41 L500.07 331.40 L499.48 331.33 L498.92 331.20 L498.38 331.01 L497.87 330.76 L497.40 330.46 L496.96 330.09 L496.55 329.68 L496.18 329.21 L495.86 328.69 L495.58 328.13 L495.34 327.52 L495.14 326.87 L494.99 326.18 L494.89 325.45 L494.83 324.70 L494.82 323.91 L494.86 323.11 L494.94 322.28 L495.08 321.44 L495.25 320.58 L495.47 319.72 L495.74 318.85 L496.05 317.99 L496.40 317.13 L496.79 316.27 L497.22 315.44 L497.68 314.62 L498.17 313.82 L498.70 313.04 L499.26 312.30 L499.84 311.58 L500.44 310.91 L501.06 310.27 L501.70 309.68 L502.36 309.13 L503.02 308.63 L503.69 308.18 L504.37 307.78 L505.04 307.43 L505.71 307.15 L506.38 306.92 L507.04 306.75 L507.68 306.64 L508.31 306.59 L508.93 306.60 L509.52 306.67 L510.08 306.80 L510.62 306.99 L511.13 307.24Z" />
<path class="k" d="M509.41 310.29 L509.76 310.51 L510.09 310.78 L510.39 311.09 L510.66 311.44 L510.90 311.82 L511.11 312.24 L511.29 312.69 L511.43 313.17 L511.54 313.68 L511.62 314.22 L511.66 314.78 L511.67 315.36 L511.64 315.96 L511.58 316.57 L511.48 317.19 L511.35 317.83 L511.19 318.47 L510.99 319.11 L510.76 319.75 L510.50 320.39 L510.21 321.02 L509.90 321.64 L509.55 322.25 L509.19 322.84 L508.80 323.41 L508.38 323.97 L507.95 324.49 L507.51 324.99 L507.05 325.47 L506.57 325.91 L506.09 326.31 L505.60 326.68 L505.10 327.02 L504.60 327.31 L504.10 327.57 L503.60 327.78 L503.11 327.95 L502.62 328.08 L502.14 328.16 L501.67 328.19 L501.22 328.19 L500.79 328.13 L500.37 328.04 L499.97 327.90 L499.59 327.71 L499.24 327.49 L498.91 327.22 L498.61 326.91 L498.34 326.56 L498.10 326.18 L497.89 325.76 L497.71 325.31 L497.57 324.83 L497.46 324.32 L497.38 323.78 L497.34 323.22 L497.33 322.64 L497.36 322.04 L497.42 321.43 L497.52 320.81 L497.65 320.17 L497.81 319.53 L498.01 318.89 L498.24 318.25 L498.50 317.61 L498.79 316.98 L499.10 316.36 L499.45 315.75 L499.81 315.16 L500.20 314.59 L500.62 314.03 L501.05 313.51 L501.49 313.01 L501.95 312.53 L502.43 312.09 L502.91 311.69 L503.40 311.32 L503.90 310.98 L504.40 310.69 L504.90 310.43 L505.40 310.22 L505.89 310.05 L506.38 309.92 L506.86 309.84 L507.33 309.81 L507.78 309.81 L508.21 309.87 L508.63 309.96 L509.03 310.10 L509.41 310.29Z" />
<path class="t" d="M507.23 312.23 L507.49 312.39 L507.72 312.58 L507.94 312.81 L508.13 313.05 L508.31 313.33 L508.46 313.63 L508.59 313.96 L508.69 314.30 L508.77 314.67 L508.83 315.06 L508.86 315.46 L508.86 315.88 L508.84 316.31 L508.80 316.75 L508.73 317.20 L508.63 317.66 L508.51 318.12 L508.37 318.58 L508.21 319.04 L508.02 319.50 L507.81 319.95 L507.58 320.40 L507.34 320.84 L507.07 321.26 L506.79 321.68 L506.50 322.08 L506.19 322.46 L505.87 322.82 L505.53 323.16 L505.19 323.47 L504.84 323.77 L504.49 324.03 L504.13 324.27 L503.77 324.49 L503.41 324.67 L503.05 324.82 L502.70 324.94 L502.35 325.03 L502.00 325.09 L501.67 325.12 L501.34 325.11 L501.03 325.08 L500.72 325.01 L500.44 324.91 L500.17 324.77 L499.91 324.61 L499.68 324.42 L499.46 324.19 L499.27 323.95 L499.09 323.67 L498.94 323.37 L498.81 323.04 L498.71 322.70 L498.63 322.33 L498.57 321.94 L498.54 321.54 L498.54 321.12 L498.56 320.69 L498.60 320.25 L498.67 319.80 L498.77 319.34 L498.89 318.88 L499.03 318.42 L499.19 317.96 L499.38 317.50 L499.59 317.05 L499.82 316.60 L500.06 316.16 L500.33 315.74 L500.61 315.32 L500.90 314.92 L501.21 314.54 L501.53 314.18 L501.87 313.84 L502.21 313.53 L502.56 313.23 L502.91 312.97 L503.27 312.73 L503.63 312.51 L503.99 312.33 L504.35 312.18 L504.70 312.06 L505.05 311.97 L505.40 311.91 L505.73 311.88 L506.06 311.89 L506.37 311.92 L506.68 311.99 L506.96 312.09 L507.23 312.23Z" />
<path class="t" d="M505.35 313.64 L505.53 313.76 L505.69 313.89 L505.84 314.05 L505.98 314.22 L506.10 314.41 L506.21 314.62 L506.29 314.85 L506.37 315.09 L506.42 315.34 L506.46 315.61 L506.48 315.89 L506.48 316.18 L506.47 316.48 L506.44 316.79 L506.39 317.10 L506.33 317.41 L506.24 317.73 L506.14 318.05 L506.03 318.38 L505.90 318.69 L505.76 319.01 L505.60 319.32 L505.43 319.62 L505.24 319.92 L505.05 320.21 L504.84 320.48 L504.63 320.75 L504.40 321.00 L504.17 321.23 L503.94 321.45 L503.69 321.66 L503.45 321.84 L503.20 322.01 L502.95 322.16 L502.70 322.28 L502.45 322.39 L502.20 322.47 L501.96 322.54 L501.72 322.58 L501.49 322.60 L501.26 322.59 L501.04 322.57 L500.83 322.52 L500.63 322.45 L500.45 322.36 L500.27 322.24 L500.11 322.11 L499.96 321.95 L499.82 321.78 L499.70 321.59 L499.59 321.38 L499.51 321.15 L499.43 320.91 L499.38 320.66 L499.34 320.39 L499.32 320.11 L499.32 319.82 L499.33 319.52 L499.36 319.21 L499.41 318.90 L499.47 318.59 L499.56 318.27 L499.66 317.95 L499.77 317.62 L499.90 317.31 L500.04 316.99 L500.20 316.68 L500.37 316.38 L500.56 316.08 L500.75 315.79 L500.96 315.52 L501.17 315.25 L501.40 315.00 L501.63 314.77 L501.86 314.55 L502.11 314.34 L502.35 314.16 L502.60 313.99 L502.85 313.84 L503.10 313.72 L503.35 313.61 L503.60 313.53 L503.84 313.46 L504.08 313.42 L504.31 313.40 L504.54 313.41 L504.76 313.43 L504.97 313.48 L505.17 313.55 L505.35 313.64Z" />
<path class="kw" d="M518.09 304.13 L520.15 300.47 L523.08 299.71 L525.26 300.94 L526.13 303.84 L524.07 307.50 L521.14 308.26 L518.96 307.03Z" />
<path class="kw" d="M525.26 300.94 L526.13 303.84 L524.07 307.50 L521.14 308.26 L520.27 305.36 L522.33 301.70Z" />
<path class="m" d="M523.08 299.71 L525.26 300.94"/>
<path class="m" d="M523.95 302.61 L526.13 303.84"/>
<path class="m" d="M521.89 306.27 L524.07 307.50"/>
<path class="m" d="M518.96 307.03 L521.14 308.26"/>
<path class="m" d="M518.09 304.13 L520.27 305.36"/>
<path class="m" d="M520.15 300.47 L522.33 301.70"/>
<path class="kw" d="M525.26 300.94 L526.13 303.84 L524.07 307.50 L521.14 308.26 L520.27 305.36 L522.33 301.70Z" />
<path class="k" d="M524.13 302.95 L524.46 303.36 L524.55 304.01 L524.37 304.78 L523.96 305.51 L523.39 306.06 L522.79 306.33 L522.27 306.25 L521.94 305.84 L521.85 305.19 L522.03 304.42 L522.44 303.69 L523.01 303.14 L523.61 302.87 L524.13 302.95Z" />
<path class="kw" d="M276.12 166.92 L278.27 163.09 L281.35 162.29 L283.96 163.77 L284.87 166.81 L282.71 170.64 L279.64 171.43 L277.03 169.96Z" />
<path class="kw" d="M283.96 163.77 L284.87 166.81 L282.71 170.64 L279.64 171.43 L278.73 168.39 L280.89 164.56Z" />
<path class="m" d="M281.35 162.29 L283.96 163.77"/>
<path class="m" d="M282.26 165.33 L284.87 166.81"/>
<path class="m" d="M280.10 169.17 L282.71 170.64"/>
<path class="m" d="M277.03 169.96 L279.64 171.43"/>
<path class="m" d="M276.11 166.92 L278.73 168.39"/>
<path class="m" d="M278.27 163.09 L280.89 164.56"/>
<path class="kw" d="M283.96 163.77 L284.87 166.81 L282.71 170.64 L279.64 171.43 L278.73 168.39 L280.89 164.56Z" />
<path class="k" d="M282.77 165.87 L283.12 166.30 L283.22 166.98 L283.03 167.78 L282.59 168.55 L282.00 169.13 L281.37 169.41 L280.83 169.33 L280.48 168.90 L280.38 168.22 L280.57 167.42 L281.01 166.65 L281.60 166.07 L282.23 165.79 L282.77 165.87Z" />
<path class="kw" d="M273.68 161.01 L274.02 161.42 L274.10 162.07 L273.92 162.85 L273.51 163.58 L272.94 164.14 L272.34 164.40 L271.81 164.32 L271.47 163.92 L271.39 163.26 L271.57 162.49 L271.98 161.76 L272.55 161.20 L273.15 160.93 L273.68 161.01Z" />
<path class="w" d="M263.22 155.12 L273.68 161.01 L271.81 164.32 L261.36 158.43Z" />
<path class="k" d="M273.68 161.01 L273.94 161.27 L274.08 161.66 L274.10 162.15 L273.98 162.69 L273.74 163.23 L273.40 163.71 L273.00 164.09 L272.57 164.34 L272.17 164.42 L271.81 164.32" />
<path class="k" d="M263.22 155.12 L273.68 161.01"/>
<path class="k" d="M261.36 158.43 L271.81 164.32"/>
<path class="kw" d="M263.96 153.82 L264.51 154.42 L264.73 155.39 L264.57 156.57 L264.07 157.78 L263.29 158.84 L262.37 159.58 L261.43 159.90 L260.62 159.74 L260.07 159.13 L259.85 158.16 L260.01 156.99 L260.51 155.78 L261.29 154.72 L262.21 153.98 L263.15 153.66 L263.96 153.82Z" />
<path class="w" d="M261.87 152.64 L263.96 153.82 L260.62 159.74 L258.53 158.56Z" />
<path class="k" d="M261.87 152.64 L263.96 153.82"/>
<path class="k" d="M258.53 158.56 L260.62 159.74"/>
<path class="k" d="M263.96 153.82 L264.43 154.27 L264.69 154.97 L264.71 155.85 L264.50 156.82 L264.07 157.78 L263.47 158.65 L262.75 159.33 L261.99 159.76 L261.25 159.90 L260.62 159.74" />
<path class="kw" d="M261.87 152.64 L262.42 153.25 L262.64 154.21 L262.48 155.39 L261.98 156.60 L261.20 157.66 L260.28 158.40 L259.34 158.72 L258.53 158.56 L257.98 157.95 L257.76 156.99 L257.92 155.81 L258.42 154.60 L259.20 153.54 L260.12 152.80 L261.06 152.48 L261.87 152.64Z" />
<path class="kw" d="M239.45 194.13 L239.95 194.73 L240.08 195.70 L239.81 196.83 L239.20 197.92 L238.37 198.74 L237.48 199.13 L236.71 199.01 L236.21 198.41 L236.08 197.45 L236.35 196.31 L236.96 195.23 L237.79 194.41 L238.68 194.02 L239.45 194.13Z" />
<path class="w" d="M221.59 184.07 L239.45 194.13 L236.71 199.01 L218.85 188.95Z" />
<path class="k" d="M239.45 194.13 L239.84 194.51 L240.05 195.08 L240.07 195.81 L239.90 196.60 L239.54 197.40 L239.05 198.11 L238.46 198.67 L237.83 199.03 L237.23 199.15 L236.71 199.01" />
<path class="k" d="M221.59 184.07 L239.45 194.13"/>
<path class="k" d="M218.85 188.95 L236.71 199.01"/>
<path class="kw" d="M222.28 182.85 L222.97 183.60 L223.23 184.80 L223.04 186.25 L222.42 187.75 L221.46 189.05 L220.31 189.97 L219.16 190.36 L218.16 190.17 L217.48 189.42 L217.21 188.22 L217.40 186.77 L218.03 185.27 L218.98 183.97 L220.13 183.05 L221.29 182.66 L222.28 182.85Z" />
<path class="w" d="M218.36 180.64 L222.28 182.85 L218.16 190.17 L214.24 187.96Z" />
<path class="k" d="M218.36 180.64 L222.28 182.85"/>
<path class="k" d="M214.24 187.96 L218.16 190.17"/>
<path class="k" d="M222.28 182.85 L222.86 183.41 L223.18 184.28 L223.21 185.36 L222.95 186.55 L222.42 187.75 L221.67 188.82 L220.78 189.66 L219.84 190.20 L218.94 190.37 L218.16 190.17" />
<path class="kw" d="M218.36 180.64 L219.05 181.39 L219.31 182.59 L219.12 184.04 L218.50 185.54 L217.54 186.84 L216.39 187.76 L215.24 188.15 L214.24 187.96 L213.55 187.21 L213.29 186.01 L213.48 184.56 L214.10 183.06 L215.06 181.76 L216.21 180.84 L217.36 180.45 L218.36 180.64Z" />
<path class="kw" d="M248.11 196.44 L248.77 197.08 L249.14 198.07 L249.17 199.30 L248.87 200.67 L248.27 202.03 L247.42 203.26 L246.40 204.22 L245.33 204.83 L244.29 205.03 L243.40 204.80 L242.74 204.16 L242.38 203.17 L242.34 201.93 L242.64 200.57 L243.25 199.20 L244.10 197.98 L245.11 197.02 L246.19 196.40 L247.22 196.20 L248.11 196.44Z" />
<path class="kw" d="M249.86 197.42 L250.52 198.06 L250.88 199.05 L250.91 200.29 L250.61 201.65 L250.01 203.01 L249.16 204.24 L248.14 205.20 L247.07 205.81 L246.03 206.01 L245.14 205.78 L244.48 205.14 L244.12 204.15 L244.09 202.91 L244.39 201.55 L244.99 200.19 L245.84 198.96 L246.86 198.00 L247.93 197.39 L248.97 197.19 L249.86 197.42Z" />
<path class="k" d="M248.68 199.51 L249.11 200.02 L249.22 200.85 L248.99 201.82 L248.46 202.75 L247.75 203.46 L246.98 203.79 L246.32 203.69 L245.89 203.18 L245.78 202.35 L246.01 201.38 L246.54 200.45 L247.25 199.74 L248.02 199.41 L248.68 199.51Z" />
<path class="kw" d="M261.45 202.50 L262.20 203.22 L262.61 204.34 L262.64 205.73 L262.31 207.27 L261.63 208.80 L260.67 210.17 L259.53 211.26 L258.32 211.95 L257.15 212.17 L256.15 211.91 L255.41 211.19 L255.00 210.08 L254.96 208.69 L255.30 207.15 L255.98 205.62 L256.94 204.24 L258.08 203.16 L259.29 202.47 L260.45 202.24 L261.45 202.50Z" />
<path class="kw" d="M262.15 202.90 L262.89 203.62 L263.30 204.73 L263.34 206.12 L263.00 207.66 L262.32 209.19 L261.37 210.57 L260.23 211.65 L259.01 212.34 L257.85 212.57 L256.85 212.30 L256.11 211.58 L255.70 210.47 L255.66 209.08 L256.00 207.54 L256.68 206.01 L257.63 204.63 L258.77 203.55 L259.99 202.86 L261.15 202.63 L262.15 202.90Z" />
<path class="k" d="M260.61 205.62 L261.02 206.11 L261.12 206.89 L260.90 207.81 L260.41 208.69 L259.73 209.35 L259.01 209.67 L258.39 209.58 L257.98 209.09 L257.88 208.31 L258.10 207.39 L258.59 206.51 L259.27 205.85 L259.99 205.53 L260.61 205.62Z" />
<path class="kw" d="M224.97 148.20 L225.26 148.39 L225.53 148.61 L225.77 148.86 L225.99 149.14 L226.19 149.46 L226.36 149.80 L226.51 150.17 L226.63 150.57 L226.72 150.99 L226.78 151.43 L226.82 151.88 L226.82 152.36 L226.80 152.85 L226.75 153.35 L226.67 153.87 L226.56 154.38 L226.43 154.91 L226.26 155.43 L226.08 155.96 L225.86 156.48 L225.63 157.00 L225.37 157.51 L225.09 158.01 L224.79 158.49 L224.47 158.96 L224.13 159.42 L223.78 159.85 L223.41 160.26 L223.03 160.65 L222.64 161.01 L222.25 161.34 L221.84 161.65 L221.44 161.92 L221.03 162.16 L220.62 162.37 L220.21 162.54 L219.80 162.68 L219.40 162.79 L219.01 162.85 L218.63 162.88 L218.26 162.88 L217.90 162.84 L217.55 162.76 L217.23 162.64 L216.92 162.49 L216.63 162.30 L216.36 162.08 L216.12 161.83 L215.89 161.55 L215.70 161.23 L215.52 160.89 L215.38 160.52 L215.26 160.12 L215.17 159.71 L215.11 159.27 L215.07 158.81 L215.07 158.33 L215.09 157.84 L215.14 157.34 L215.22 156.83 L215.33 156.31 L215.46 155.78 L215.62 155.26 L215.81 154.73 L216.02 154.21 L216.26 153.69 L216.52 153.18 L216.80 152.68 L217.10 152.20 L217.42 151.73 L217.76 151.27 L218.11 150.84 L218.48 150.43 L218.86 150.04 L219.24 149.68 L219.64 149.35 L220.04 149.04 L220.45 148.77 L220.86 148.53 L221.27 148.32 L221.68 148.15 L222.09 148.01 L222.49 147.90 L222.88 147.84 L223.26 147.81 L223.63 147.81 L223.99 147.86 L224.33 147.93 L224.66 148.05 L224.97 148.20Z" />
<path class="w" d="M224.97 148.20 L229.33 150.66 L221.27 164.94 L216.92 162.49Z" />
<path class="k" d="M224.97 148.20 L229.33 150.66"/>
<path class="k" d="M216.92 162.49 L221.27 164.94"/>
<path class="kw" d="M229.33 150.66 L229.61 150.84 L229.88 151.06 L230.13 151.31 L230.35 151.60 L230.55 151.91 L230.72 152.26 L230.87 152.63 L230.99 153.02 L231.08 153.44 L231.14 153.88 L231.17 154.34 L231.18 154.81 L231.16 155.30 L231.10 155.81 L231.02 156.32 L230.92 156.84 L230.78 157.36 L230.62 157.89 L230.43 158.42 L230.22 158.94 L229.98 159.46 L229.72 159.96 L229.44 160.46 L229.14 160.95 L228.82 161.42 L228.49 161.87 L228.13 162.30 L227.77 162.72 L227.39 163.10 L227.00 163.46 L226.60 163.80 L226.20 164.10 L225.79 164.38 L225.38 164.62 L224.97 164.83 L224.56 165.00 L224.16 165.14 L223.76 165.24 L223.37 165.31 L222.98 165.34 L222.61 165.33 L222.25 165.29 L221.91 165.21 L221.58 165.10 L221.27 164.94 L220.99 164.76 L220.72 164.54 L220.47 164.29 L220.25 164.00 L220.05 163.69 L219.88 163.34 L219.73 162.97 L219.61 162.58 L219.52 162.16 L219.46 161.72 L219.43 161.26 L219.42 160.79 L219.44 160.30 L219.50 159.79 L219.58 159.28 L219.68 158.76 L219.82 158.24 L219.98 157.71 L220.17 157.18 L220.38 156.66 L220.62 156.14 L220.88 155.64 L221.16 155.14 L221.46 154.65 L221.78 154.18 L222.11 153.73 L222.47 153.30 L222.83 152.88 L223.21 152.50 L223.60 152.14 L224.00 151.80 L224.40 151.50 L224.81 151.22 L225.22 150.98 L225.63 150.77 L226.04 150.60 L226.44 150.46 L226.84 150.36 L227.23 150.29 L227.62 150.26 L227.99 150.27 L228.35 150.31 L228.69 150.39 L229.02 150.50 L229.33 150.66Z" />
<path class="k" d="M228.64 151.88 L228.88 152.03 L229.10 152.21 L229.30 152.42 L229.49 152.66 L229.65 152.92 L229.80 153.20 L229.92 153.51 L230.01 153.84 L230.09 154.18 L230.14 154.55 L230.17 154.93 L230.18 155.32 L230.16 155.73 L230.11 156.15 L230.05 156.57 L229.96 157.00 L229.85 157.44 L229.71 157.87 L229.56 158.31 L229.38 158.74 L229.18 159.17 L228.97 159.59 L228.74 160.01 L228.49 160.41 L228.22 160.80 L227.94 161.18 L227.65 161.54 L227.35 161.88 L227.03 162.20 L226.71 162.50 L226.38 162.77 L226.05 163.03 L225.71 163.25 L225.37 163.45 L225.03 163.63 L224.69 163.77 L224.35 163.89 L224.02 163.97 L223.70 164.03 L223.38 164.05 L223.07 164.05 L222.77 164.01 L222.49 163.95 L222.22 163.85 L221.96 163.72 L221.72 163.57 L221.50 163.39 L221.30 163.18 L221.11 162.94 L220.95 162.68 L220.80 162.40 L220.68 162.09 L220.59 161.76 L220.51 161.42 L220.46 161.05 L220.43 160.67 L220.42 160.28 L220.44 159.87 L220.49 159.45 L220.55 159.03 L220.64 158.60 L220.75 158.16 L220.89 157.73 L221.04 157.29 L221.22 156.86 L221.42 156.43 L221.63 156.01 L221.86 155.59 L222.11 155.19 L222.38 154.80 L222.66 154.42 L222.95 154.06 L223.25 153.72 L223.57 153.40 L223.89 153.10 L224.22 152.83 L224.55 152.57 L224.89 152.35 L225.23 152.15 L225.57 151.97 L225.91 151.83 L226.25 151.71 L226.58 151.63 L226.90 151.57 L227.22 151.55 L227.53 151.55 L227.83 151.59 L228.11 151.65 L228.38 151.75 L228.64 151.88Z" />
<path class="k" d="M226.76 153.29 L226.92 153.40 L227.07 153.52 L227.21 153.66 L227.33 153.82 L227.44 154.00 L227.54 154.19 L227.62 154.40 L227.69 154.62 L227.74 154.85 L227.78 155.10 L227.79 155.36 L227.80 155.63 L227.79 155.90 L227.76 156.18 L227.71 156.47 L227.65 156.76 L227.58 157.05 L227.48 157.35 L227.38 157.65 L227.26 157.94 L227.13 158.23 L226.98 158.51 L226.82 158.79 L226.66 159.07 L226.48 159.33 L226.29 159.58 L226.09 159.83 L225.88 160.06 L225.67 160.27 L225.45 160.48 L225.23 160.66 L225.00 160.83 L224.78 160.99 L224.55 161.12 L224.32 161.24 L224.09 161.34 L223.86 161.42 L223.64 161.47 L223.42 161.51 L223.20 161.53 L222.99 161.53 L222.79 161.50 L222.60 161.46 L222.42 161.39 L222.24 161.31 L222.08 161.20 L221.93 161.08 L221.79 160.94 L221.67 160.78 L221.56 160.60 L221.46 160.41 L221.38 160.20 L221.31 159.98 L221.26 159.75 L221.22 159.50 L221.21 159.24 L221.20 158.97 L221.21 158.70 L221.24 158.42 L221.29 158.13 L221.35 157.84 L221.42 157.55 L221.52 157.25 L221.62 156.95 L221.74 156.66 L221.87 156.37 L222.02 156.09 L222.18 155.81 L222.34 155.53 L222.52 155.27 L222.71 155.02 L222.91 154.77 L223.12 154.54 L223.33 154.33 L223.55 154.12 L223.77 153.94 L224.00 153.77 L224.22 153.61 L224.45 153.48 L224.68 153.36 L224.91 153.26 L225.14 153.18 L225.36 153.13 L225.58 153.09 L225.80 153.07 L226.01 153.07 L226.21 153.10 L226.40 153.14 L226.58 153.21 L226.76 153.29Z" />
<path class="k" d="M225.80 154.22 L225.88 154.37 L225.94 154.53 L226.00 154.70 L226.04 154.89 L226.06 155.08 L226.08 155.28 L226.08 155.49 L226.07 155.70 L226.05 155.93 L226.01 156.15 L225.97 156.38 L225.91 156.61 L225.84 156.84 L225.75 157.07 L225.66 157.30 L225.56 157.53 L225.44 157.75 L225.32 157.97 L225.19 158.18 L225.05 158.39 L224.90 158.59 L224.74 158.78 L224.58 158.96 L224.42 159.13 L224.25 159.29 L224.07 159.43 L223.89 159.57 L223.72 159.69 L223.54 159.79 L223.36 159.88 L223.18 159.96 L223.00 160.02 L222.82 160.07 L222.65 160.10 L222.48 160.11 L222.32 160.11 L222.16 160.09 L222.01 160.05 L221.87 160.00 L221.73 159.94 L221.61 159.85 L221.49 159.76 L221.38 159.65 L221.28 159.52 L221.20 159.38" />
<path class="kw" d="M682.13 395.42 L682.47 395.87 L682.49 396.59 L682.19 397.40 L681.65 398.07 L681.02 398.43 L680.47 398.38 L680.13 397.93 L680.11 397.21 L680.41 396.40 L680.95 395.73 L681.58 395.37 L682.13 395.42Z" />
<path class="w" d="M682.13 395.42 L694.83 402.82 L693.17 405.78 L680.47 398.38Z" />
<path class="k" d="M682.13 395.42 L694.83 402.82"/>
<path class="k" d="M680.47 398.38 L693.17 405.78"/>
<path class="kw" d="M695.92 401.72 L696.51 402.43 L696.66 403.57 L696.34 404.91 L695.62 406.19 L694.64 407.15 L693.59 407.61 L692.68 407.48 L692.09 406.77 L691.94 405.63 L692.26 404.29 L692.98 403.01 L693.96 402.05 L695.01 401.59 L695.92 401.72Z" />
<path class="kw" d="M698.22 403.02 L698.81 403.73 L698.96 404.87 L698.64 406.21 L697.92 407.49 L696.94 408.45 L695.89 408.91 L694.98 408.78 L694.39 408.07 L694.24 406.93 L694.56 405.59 L695.28 404.31 L696.26 403.35 L697.31 402.89 L698.22 403.02Z" />
<path class="k" d="M697.39 404.51 L697.73 405.05 L697.64 405.92 L697.15 406.78 L696.46 407.30 L695.81 407.29 L695.47 406.75 L695.56 405.88 L696.05 405.02 L696.74 404.50 L697.39 404.51Z" />
<path class="mw" d="M93.99 90.82 L95.43 82.88 L101.47 77.54 L108.44 81.46 L113.04 84.06 L111.60 91.99 L105.56 97.34 L100.96 94.74Z" />
<path class="mw" d="M113.04 84.06 L111.60 91.99 L105.56 97.34 L100.96 94.74 L102.40 86.81 L108.44 81.46Z" />
<path class="m" d="M106.07 80.13 L113.04 84.06"/>
<path class="m" d="M104.63 88.06 L111.60 91.99"/>
<path class="m" d="M98.59 93.41 L105.56 97.34"/>
<path class="m" d="M93.99 90.82 L100.96 94.74"/>
<path class="m" d="M95.43 82.88 L102.40 86.81"/>
<path class="m" d="M101.47 77.54 L108.44 81.46"/>
<path class="mw" d="M113.04 84.06 L111.60 91.99 L105.56 97.34 L100.96 94.74 L102.40 86.81 L108.44 81.46Z" />
<path class="m" d="M109.38 85.18 L110.24 86.22 L110.46 87.89 L110.00 89.85 L108.94 91.73 L107.50 93.14 L105.96 93.82 L104.62 93.62 L103.76 92.58 L103.54 90.91 L104.00 88.95 L105.06 87.07 L106.50 85.66 L108.04 84.98 L109.38 85.18Z" />
<path class="m" d="M107.87 86.04 L108.47 86.77 L108.63 87.94 L108.30 89.32 L107.56 90.64 L106.55 91.63 L105.47 92.10 L104.53 91.96 L103.93 91.23 L103.77 90.06 L104.10 88.68 L104.84 87.36 L105.85 86.37 L106.93 85.90 L107.87 86.04Z" />
<path class="bw" d="M86.33 65.86 L86.69 66.08 L87.02 66.35 L87.32 66.67 L87.59 67.02 L87.84 67.40 L88.05 67.83 L88.23 68.28 L88.38 68.77 L88.49 69.28 L88.56 69.83 L88.61 70.39 L88.61 70.98 L88.59 71.58 L88.52 72.20 L88.42 72.83 L88.29 73.47 L88.13 74.12 L87.93 74.76 L87.69 75.41 L87.43 76.06 L87.14 76.69 L86.82 77.32 L86.48 77.93 L86.11 78.53 L85.71 79.11 L85.30 79.67 L84.86 80.20 L84.41 80.71 L83.94 81.19 L83.47 81.63 L82.98 82.04 L82.48 82.42 L81.98 82.75 L81.47 83.05 L80.97 83.31 L80.46 83.52 L79.97 83.69 L79.47 83.82 L78.99 83.90 L78.52 83.94 L78.06 83.93 L77.62 83.88 L77.20 83.78 L76.79 83.64 L76.41 83.45 L76.06 83.22 L75.73 82.95 L75.43 82.64 L75.15 82.29 L74.91 81.91 L74.70 81.48 L74.52 81.03 L74.37 80.54 L74.26 80.02 L74.18 79.48 L74.14 78.92 L74.13 78.33 L74.16 77.73 L74.22 77.11 L74.32 76.48 L74.45 75.84 L74.62 75.19 L74.82 74.54 L75.05 73.90 L75.31 73.25 L75.60 72.62 L75.92 71.99 L76.27 71.37 L76.64 70.78 L77.03 70.20 L77.45 69.64 L77.88 69.11 L78.33 68.60 L78.80 68.12 L79.28 67.68 L79.77 67.27 L80.26 66.89 L80.77 66.56 L81.27 66.26 L81.78 66.00 L82.28 65.79 L82.78 65.62 L83.27 65.49 L83.75 65.41 L84.23 65.37 L84.68 65.38 L85.12 65.43 L85.55 65.53 L85.95 65.67 L86.33 65.86Z" />
<path class="w" d="M86.33 65.86 L91.56 68.80 L81.64 86.40 L76.41 83.45Z" />
<path class="b" d="M86.33 65.86 L91.56 68.80"/>
<path class="b" d="M76.41 83.45 L81.64 86.40"/>
<path class="k" d="M75.97 83.16 L81.20 86.11"/>
<path class="k" d="M75.09 82.20 L80.31 85.15"/>
<path class="k" d="M74.48 80.91 L79.70 83.85"/>
<path class="k" d="M74.17 79.34 L79.39 82.29"/>
<path class="k" d="M74.17 77.57 L79.40 80.52"/>
<path class="k" d="M74.49 75.68 L79.72 78.62"/>
<path class="k" d="M75.11 73.74 L80.34 76.68"/>
<path class="k" d="M76.01 71.83 L81.23 74.78"/>
<path class="k" d="M77.14 70.06 L82.36 73.00"/>
<path class="k" d="M78.45 68.48 L83.68 71.42"/>
<path class="k" d="M79.89 67.17 L85.12 70.12"/>
<path class="k" d="M81.40 66.19 L86.63 69.14"/>
<path class="k" d="M82.90 65.58 L88.13 68.53"/>
<path class="k" d="M84.34 65.37 L89.57 68.31"/>
<path class="k" d="M85.65 65.56 L90.88 68.50"/>
<path class="bw" d="M91.56 68.80 L91.91 69.03 L92.24 69.30 L92.55 69.61 L92.82 69.96 L93.06 70.35 L93.28 70.77 L93.46 71.23 L93.60 71.71 L93.71 72.23 L93.79 72.77 L93.83 73.34 L93.84 73.92 L93.81 74.53 L93.75 75.15 L93.65 75.78 L93.52 76.42 L93.35 77.06 L93.15 77.71 L92.92 78.36 L92.66 79.00 L92.37 79.64 L92.05 80.27 L91.70 80.88 L91.33 81.48 L90.94 82.06 L90.52 82.62 L90.09 83.15 L89.64 83.65 L89.17 84.13 L88.69 84.58 L88.20 84.99 L87.71 85.36 L87.21 85.70 L86.70 86.00 L86.20 86.25 L85.69 86.47 L85.19 86.64 L84.70 86.77 L84.22 86.85 L83.75 86.89 L83.29 86.88 L82.85 86.83 L82.42 86.73 L82.02 86.59 L81.64 86.40 L81.29 86.17 L80.96 85.90 L80.65 85.59 L80.38 85.24 L80.14 84.85 L79.92 84.43 L79.74 83.97 L79.60 83.49 L79.49 82.97 L79.41 82.43 L79.37 81.86 L79.36 81.28 L79.39 80.67 L79.45 80.05 L79.55 79.42 L79.68 78.78 L79.85 78.14 L80.05 77.49 L80.28 76.84 L80.54 76.20 L80.83 75.56 L81.15 74.93 L81.50 74.32 L81.87 73.72 L82.26 73.14 L82.68 72.58 L83.11 72.05 L83.56 71.55 L84.03 71.07 L84.51 70.62 L85.00 70.21 L85.49 69.84 L85.99 69.50 L86.50 69.20 L87.00 68.95 L87.51 68.73 L88.01 68.56 L88.50 68.43 L88.98 68.35 L89.45 68.31 L89.91 68.32 L90.35 68.37 L90.78 68.47 L91.18 68.61 L91.56 68.80Z" />
<path class="k" d="M90.33 70.98 L90.60 71.15 L90.85 71.35 L91.08 71.59 L91.28 71.85 L91.46 72.14 L91.62 72.46 L91.76 72.80 L91.87 73.17 L91.95 73.56 L92.01 73.97 L92.04 74.39 L92.05 74.83 L92.03 75.29 L91.98 75.75 L91.91 76.23 L91.81 76.71 L91.68 77.20 L91.53 77.68 L91.36 78.17 L91.16 78.65 L90.94 79.13 L90.70 79.61 L90.44 80.07 L90.16 80.52 L89.86 80.95 L89.55 81.37 L89.23 81.78 L88.89 82.16 L88.54 82.51 L88.18 82.85 L87.81 83.16 L87.43 83.44 L87.06 83.69 L86.68 83.92 L86.30 84.11 L85.92 84.27 L85.54 84.40 L85.17 84.50 L84.81 84.56 L84.45 84.59 L84.11 84.58 L83.78 84.54 L83.46 84.47 L83.16 84.36 L82.87 84.22 L82.60 84.05 L82.35 83.85 L82.12 83.61 L81.92 83.35 L81.74 83.06 L81.58 82.74 L81.44 82.40 L81.33 82.03 L81.25 81.64 L81.19 81.23 L81.16 80.81 L81.15 80.37 L81.17 79.91 L81.22 79.45 L81.29 78.97 L81.39 78.49 L81.52 78.00 L81.67 77.52 L81.84 77.03 L82.04 76.55 L82.26 76.07 L82.50 75.59 L82.76 75.13 L83.04 74.68 L83.34 74.25 L83.65 73.83 L83.97 73.42 L84.31 73.04 L84.66 72.69 L85.02 72.35 L85.39 72.04 L85.77 71.76 L86.14 71.51 L86.52 71.28 L86.90 71.09 L87.28 70.93 L87.66 70.80 L88.03 70.70 L88.39 70.64 L88.75 70.61 L89.09 70.62 L89.42 70.66 L89.74 70.73 L90.04 70.84 L90.33 70.98Z" />
<path class="k" d="M90.33 70.98 L91.56 68.80"/>
<path class="k" d="M91.82 72.99 L93.53 71.47"/>
<path class="k" d="M91.91 76.23 L93.65 75.78"/>
<path class="k" d="M90.57 79.84 L91.88 80.57"/>
<path class="k" d="M88.18 82.85 L88.69 84.58"/>
<path class="k" d="M85.36 84.45 L84.95 86.71"/>
<path class="k" d="M82.87 84.22 L81.64 86.40"/>
<path class="k" d="M81.38 82.21 L79.67 83.73"/>
<path class="k" d="M81.29 78.97 L79.55 79.42"/>
<path class="k" d="M82.63 75.36 L81.32 74.63"/>
<path class="k" d="M85.02 72.35 L84.51 70.62"/>
<path class="k" d="M87.84 70.75 L88.25 68.49"/>
<path class="k" d="M88.55 71.86 L88.72 72.06 L88.87 72.28 L89.01 72.52 L89.13 72.79 L89.22 73.07 L89.30 73.37 L89.36 73.69 L89.39 74.03 L89.40 74.37 L89.39 74.73 L89.36 75.10 L89.31 75.48 L89.24 75.86 L89.15 76.25 L89.04 76.63 L88.90 77.02 L88.75 77.41 L88.58 77.79 L88.40 78.17 L88.19 78.54 L87.97 78.91 L87.74 79.26 L87.49 79.60 L87.24 79.92 L86.97 80.23 L86.69 80.52 L86.40 80.79 L86.11 81.04 L85.81 81.27 L85.51 81.48 L85.21 81.66 L84.91 81.82 L84.61 81.95 L84.30 82.06 L84.01 82.14 L83.72 82.19 L83.43 82.22 L83.16 82.21 L82.89 82.18 L82.64 82.13 L82.40 82.04 L82.17 81.93 L81.95 81.80 L81.75 81.64 L81.57 81.45 L81.41 81.24 L81.26 81.01" />
<path class="b" d="M64.5 60.5 L62 70" />
<path class="k" d="M66.3 60.2 L63.6 69.5" />
<path class="b" d="M63.5 64.8 L69.5 66.8" />
<path class="b" d="M71.43 65.64 L72.03 66.40 L72.05 67.50 L71.47 68.52 L70.52 69.08 L69.57 68.96 L68.97 68.20 L68.95 67.10 L69.53 66.08 L70.48 65.52 L71.43 65.64Z" />
<path class="kw" d="M444.18 129.73 L436.48 139.53 L440.72 142.87 L448.42 133.07Z" />
<ellipse class="kw" cx="438.60" cy="141.20" rx="1.50" ry="2.70" transform="rotate(128.2 438.60 141.20)"/>
<path class="m" d="M440.47 134.45 L444.72 137.79"/>
<circle class="kw" cx="446.30" cy="131.40" r="6.6"/>
<path class="m" d="M448.58 128.66 L449.21 129.45 L449.23 130.61 L448.62 131.69 L447.63 132.27 L446.62 132.14 L445.99 131.35 L445.97 130.19 L446.58 129.11 L447.57 128.53 L448.58 128.66Z" />
<path d="M329.50 195.39 L338.50 200.55" fill="none" stroke="#fff" stroke-width="2.6"/>
<path d="M295.50 229.82 L304.00 234.72" fill="none" stroke="#fff" stroke-width="2.6"/>
<path class="ax" d="M113.20 92.60 L156.00 117.31"/>
<path class="ax" d="M196.00 140.40 L219.00 153.68"/>
<path class="ax" d="M234.00 162.34 L331.00 218.34"/>
<path class="ax" d="M414.00 266.26 L493.00 311.87"/>
<path class="ax" d="M513.00 323.42 L530.00 333.24"/>
<path class="ax" d="M546.00 342.47 L688.00 424.46"/>
<path class="ax" d="M772.00 472.95 L919.00 557.82"/>
<path class="ax" d="M266.00 158.95 L278.00 165.83"/>
<path class="ax" d="M286.00 170.43 L337.40 199.92"/>
<path class="ax" d="M527.00 308.74 L541.00 316.77"/>
<path class="ax" d="M578.00 338.00 L680.00 396.54"/>
<path class="ax" d="M252.00 204.70 L255.00 206.43"/>
<path class="ax" d="M264.00 211.63 L305.00 235.30"/>
<path class="ax" d="M398.80 289.46 L524.00 361.75"/>
<path class="ld" d="M60.80 28.40 L64.00 59.40"/>
<path class="ld" d="M102.50 30.90 L89.90 65.70"/>
<path class="ld" d="M121.50 46.70 L109.50 81.00"/>
<path class="ld" d="M245.30 101.20 L228.40 149.20"/>
<path class="ld" d="M274.20 113.00 L264.10 152.50"/>
<path class="ld" d="M306.20 129.00 L284.80 163.50"/>
<path class="ld" d="M344.60 114.60 L323.10 164.30"/>
<path class="ld" d="M399.50 110.00 L438.20 134.70"/>
<path class="ld" d="M496.30 130.50 L465.20 167.60"/>
<path class="ld" d="M201.20 216.40 L214.10 190.30"/>
<path class="ld" d="M231.50 230.70 L245.30 207.20"/>
<path class="ld" d="M246.60 250.10 L255.90 213.90"/>
<path class="ld" d="M517.50 274.10 L501.20 306.60"/>
<path class="ld" d="M538.20 272.90 L524.70 301.60"/>
<path class="ld" d="M589.60 272.90 L571.90 302.40"/>
<path class="ld" d="M670.90 278.40 L653.60 318.30"/>
<path class="ld" d="M711.30 361.40 L698.20 402.60"/>
<path class="ld" d="M878.90 289.70 L863.60 333.90"/>
<g opacity="0.999">
<text x="62.10" y="29.20" text-anchor="middle">15</text>
<text x="103.50" y="29.60" text-anchor="middle">14</text>
<text x="124.00" y="43.80" text-anchor="middle">13</text>
<text x="248.30" y="99.80" text-anchor="middle">12</text>
<text x="273.90" y="112.60" text-anchor="middle">17</text>
<text x="307.20" y="126.90" text-anchor="middle">18</text>
<text x="345.90" y="112.90" text-anchor="middle">16</text>
<text x="393.95" y="116.50" text-anchor="middle">2</text>
<text x="499.10" y="133.30" text-anchor="middle">1</text>
<text x="195.85" y="232.90" text-anchor="middle">8</text>
<text x="227.10" y="246.70" text-anchor="middle">9</text>
<text x="246.60" y="266.60" text-anchor="middle">10</text>
<text x="517.75" y="272.40" text-anchor="middle">11</text>
<text x="540.90" y="271.20" text-anchor="middle">7</text>
<text x="591.70" y="272.90" text-anchor="middle">4</text>
<text x="674.90" y="277.00" text-anchor="middle">5</text>
<text x="714.10" y="360.20" text-anchor="middle">6</text>
<text x="880.55" y="286.80" text-anchor="middle">3</text>
</g>
</svg>
</body></html>
